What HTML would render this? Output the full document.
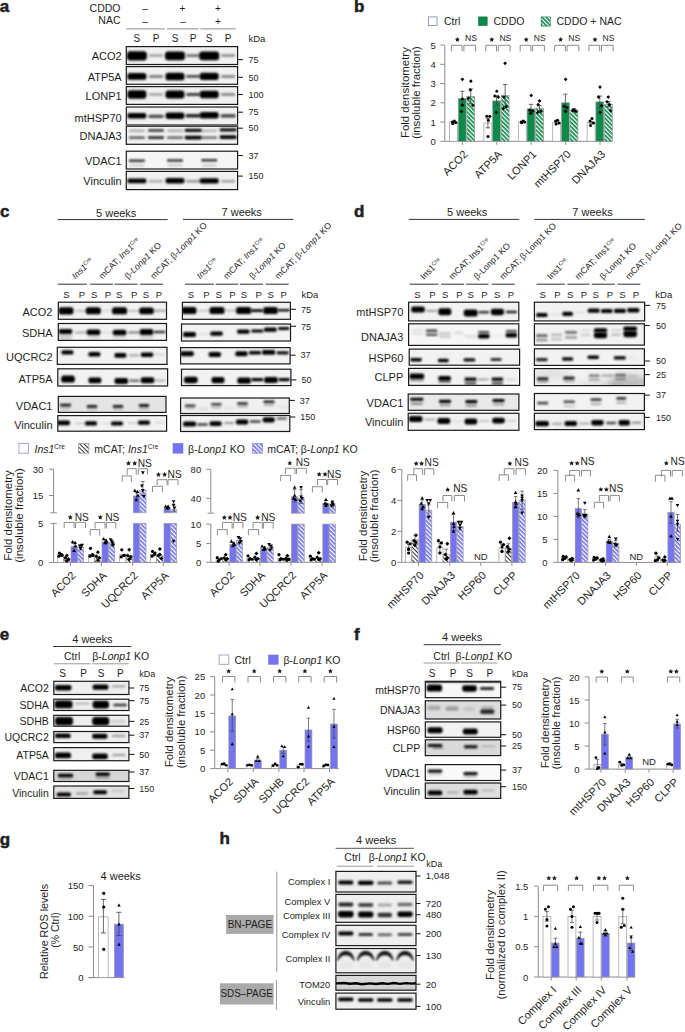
<!DOCTYPE html><html><head><meta charset="utf-8"><style>html,body{margin:0;padding:0;background:#fff;}svg{display:block;}</style></head><body><svg width="685" height="1032" viewBox="0 0 685 1032" font-family='"Liberation Sans", sans-serif' fill="#1e1e1e">
<defs><filter id="b1" x="-50%" y="-200%" width="200%" height="500%"><feGaussianBlur stdDeviation="0.1"/></filter><filter id="b2" x="-50%" y="-200%" width="200%" height="500%"><feGaussianBlur stdDeviation="0.2"/></filter><filter id="b3" x="-50%" y="-200%" width="200%" height="500%"><feGaussianBlur stdDeviation="0.3"/></filter><filter id="b4" x="-50%" y="-200%" width="200%" height="500%"><feGaussianBlur stdDeviation="0.4"/></filter><filter id="b5" x="-50%" y="-200%" width="200%" height="500%"><feGaussianBlur stdDeviation="0.5"/></filter><filter id="b6" x="-50%" y="-200%" width="200%" height="500%"><feGaussianBlur stdDeviation="0.6"/></filter><filter id="b7" x="-50%" y="-200%" width="200%" height="500%"><feGaussianBlur stdDeviation="0.7"/></filter><filter id="b8" x="-50%" y="-200%" width="200%" height="500%"><feGaussianBlur stdDeviation="0.8"/></filter><filter id="b9" x="-50%" y="-200%" width="200%" height="500%"><feGaussianBlur stdDeviation="0.9"/></filter><filter id="b10" x="-50%" y="-200%" width="200%" height="500%"><feGaussianBlur stdDeviation="1.0"/></filter><filter id="b11" x="-50%" y="-200%" width="200%" height="500%"><feGaussianBlur stdDeviation="1.1"/></filter><filter id="b12" x="-50%" y="-200%" width="200%" height="500%"><feGaussianBlur stdDeviation="1.2"/></filter><filter id="b13" x="-50%" y="-200%" width="200%" height="500%"><feGaussianBlur stdDeviation="1.3"/></filter><filter id="b14" x="-50%" y="-200%" width="200%" height="500%"><feGaussianBlur stdDeviation="1.4"/></filter><filter id="b15" x="-50%" y="-200%" width="200%" height="500%"><feGaussianBlur stdDeviation="1.5"/></filter><filter id="b16" x="-50%" y="-200%" width="200%" height="500%"><feGaussianBlur stdDeviation="1.6"/></filter><filter id="b17" x="-50%" y="-200%" width="200%" height="500%"><feGaussianBlur stdDeviation="1.7"/></filter><filter id="b18" x="-50%" y="-200%" width="200%" height="500%"><feGaussianBlur stdDeviation="1.8"/></filter><filter id="b19" x="-50%" y="-200%" width="200%" height="500%"><feGaussianBlur stdDeviation="1.9"/></filter><filter id="b20" x="-50%" y="-200%" width="200%" height="500%"><feGaussianBlur stdDeviation="2.0"/></filter><filter id="b21" x="-50%" y="-200%" width="200%" height="500%"><feGaussianBlur stdDeviation="2.1"/></filter><filter id="b22" x="-50%" y="-200%" width="200%" height="500%"><feGaussianBlur stdDeviation="2.2"/></filter><filter id="b23" x="-50%" y="-200%" width="200%" height="500%"><feGaussianBlur stdDeviation="2.3"/></filter><filter id="b24" x="-50%" y="-200%" width="200%" height="500%"><feGaussianBlur stdDeviation="2.4"/></filter><filter id="b25" x="-50%" y="-200%" width="200%" height="500%"><feGaussianBlur stdDeviation="2.5"/></filter><filter id="b26" x="-50%" y="-200%" width="200%" height="500%"><feGaussianBlur stdDeviation="2.6"/></filter><filter id="b27" x="-50%" y="-200%" width="200%" height="500%"><feGaussianBlur stdDeviation="2.7"/></filter><filter id="b28" x="-50%" y="-200%" width="200%" height="500%"><feGaussianBlur stdDeviation="2.8"/></filter><filter id="b29" x="-50%" y="-200%" width="200%" height="500%"><feGaussianBlur stdDeviation="2.9"/></filter><filter id="b30" x="-50%" y="-200%" width="200%" height="500%"><feGaussianBlur stdDeviation="3.0"/></filter><filter id="b31" x="-50%" y="-200%" width="200%" height="500%"><feGaussianBlur stdDeviation="3.1"/></filter><filter id="b32" x="-50%" y="-200%" width="200%" height="500%"><feGaussianBlur stdDeviation="3.2"/></filter><filter id="b33" x="-50%" y="-200%" width="200%" height="500%"><feGaussianBlur stdDeviation="3.3"/></filter><filter id="b34" x="-50%" y="-200%" width="200%" height="500%"><feGaussianBlur stdDeviation="3.4"/></filter><filter id="b35" x="-50%" y="-200%" width="200%" height="500%"><feGaussianBlur stdDeviation="3.5"/></filter><filter id="b36" x="-50%" y="-200%" width="200%" height="500%"><feGaussianBlur stdDeviation="3.6"/></filter><filter id="b37" x="-50%" y="-200%" width="200%" height="500%"><feGaussianBlur stdDeviation="3.7"/></filter><filter id="b38" x="-50%" y="-200%" width="200%" height="500%"><feGaussianBlur stdDeviation="3.8"/></filter><filter id="b39" x="-50%" y="-200%" width="200%" height="500%"><feGaussianBlur stdDeviation="3.9"/></filter><pattern id="hg" patternUnits="userSpaceOnUse" width="3" height="3" patternTransform="rotate(-45)"><rect width="3" height="3" fill="#0b8a4a"/><rect width="1.3" height="3" fill="#fff"/></pattern><pattern id="hb" patternUnits="userSpaceOnUse" width="3" height="3" patternTransform="rotate(-45)"><rect width="3" height="3" fill="#7474f2"/><rect width="1.3" height="3" fill="#fff"/></pattern><pattern id="hw" patternUnits="userSpaceOnUse" width="3" height="3" patternTransform="rotate(-45)"><rect width="3" height="3" fill="#fff"/><rect width="1.0" height="3" fill="#333"/></pattern></defs>
<rect width="685" height="1032" fill="#fff"/>
<text x="-0.30" y="12.20" font-size="17" font-weight="bold" stroke="#1e1e1e" stroke-width="0.5">a</text>
<text x="120.50" y="11.80" font-size="10.5" text-anchor="end">CDDO</text>
<text x="120.50" y="24.30" font-size="10.5" text-anchor="end">NAC</text>
<text x="145.00" y="11.50" font-size="10" text-anchor="middle">–</text>
<text x="182.50" y="11.50" font-size="10" text-anchor="middle">+</text>
<text x="218.00" y="11.50" font-size="10" text-anchor="middle">+</text>
<text x="145.00" y="24.50" font-size="10" text-anchor="middle">–</text>
<text x="183.00" y="24.50" font-size="10" text-anchor="middle">–</text>
<text x="218.00" y="24.50" font-size="10" text-anchor="middle">+</text>
<line x1="126.40" y1="28.90" x2="164.70" y2="28.90" stroke="#8c8c8c" stroke-width="1"/>
<line x1="166.90" y1="28.90" x2="198.70" y2="28.90" stroke="#8c8c8c" stroke-width="1"/>
<line x1="200.40" y1="28.90" x2="235.50" y2="28.90" stroke="#8c8c8c" stroke-width="1"/>
<text x="136.90" y="42.00" font-size="10" text-anchor="middle">S</text>
<text x="156.00" y="42.00" font-size="10" text-anchor="middle">P</text>
<text x="175.00" y="42.00" font-size="10" text-anchor="middle">S</text>
<text x="193.20" y="42.00" font-size="10" text-anchor="middle">P</text>
<text x="209.20" y="42.00" font-size="10" text-anchor="middle">S</text>
<text x="228.20" y="42.00" font-size="10" text-anchor="middle">P</text>
<text x="248.40" y="42.00" font-size="9.5">kDa</text>
<clipPath id="c1"><rect x="126.30" y="46.60" width="111.30" height="17.90"/></clipPath>
<g clip-path="url(#c1)">
<rect x="126.30" y="46.60" width="111.30" height="17.90" fill="#f1f1f1" stroke="none" stroke-width="1" />
<rect x="126.90" y="51.35" width="20.00" height="9.20" rx="3.45" ry="3.45" fill="#000" fill-opacity="1" filter="url(#b12)"/>
<rect x="149.00" y="54.25" width="14.00" height="2.60" rx="0.98" ry="0.98" fill="#000" fill-opacity="0.35" filter="url(#b10)"/>
<rect x="165.00" y="51.55" width="20.00" height="8.80" rx="3.30" ry="3.30" fill="#000" fill-opacity="1" filter="url(#b12)"/>
<rect x="186.20" y="54.15" width="14.00" height="2.80" rx="1.05" ry="1.05" fill="#000" fill-opacity="0.55" filter="url(#b10)"/>
<rect x="199.20" y="51.55" width="20.00" height="8.80" rx="3.30" ry="3.30" fill="#000" fill-opacity="1" filter="url(#b12)"/>
<rect x="221.20" y="54.25" width="14.00" height="2.60" rx="0.98" ry="0.98" fill="#000" fill-opacity="0.45" filter="url(#b10)"/>
</g>
<rect x="126.30" y="46.60" width="111.30" height="17.90" fill="none" stroke="#1a1a1a" stroke-width="1.2" />
<text x="121.70" y="60.15" font-size="11" text-anchor="end">ACO2</text>
<line x1="237.60" y1="59.60" x2="242.90" y2="59.60" stroke="#222" stroke-width="1.1"/>
<text x="248.60" y="62.80" font-size="9">75</text>
<clipPath id="c2"><rect x="126.30" y="66.60" width="111.30" height="17.70"/></clipPath>
<g clip-path="url(#c2)">
<rect x="126.30" y="66.60" width="111.30" height="17.70" fill="#f1f1f1" stroke="none" stroke-width="1" />
<rect x="127.40" y="73.05" width="19.00" height="6.80" rx="2.55" ry="2.55" fill="#000" fill-opacity="1" filter="url(#b10)"/>
<rect x="149.00" y="75.15" width="14.00" height="2.60" rx="0.98" ry="0.98" fill="#000" fill-opacity="0.55" filter="url(#b10)"/>
<rect x="165.50" y="72.65" width="19.00" height="7.60" rx="2.85" ry="2.85" fill="#000" fill-opacity="1" filter="url(#b10)"/>
<rect x="186.20" y="75.05" width="14.00" height="2.80" rx="1.05" ry="1.05" fill="#000" fill-opacity="0.7" filter="url(#b10)"/>
<rect x="199.70" y="72.85" width="19.00" height="7.20" rx="2.70" ry="2.70" fill="#000" fill-opacity="1" filter="url(#b10)"/>
<rect x="221.20" y="75.15" width="14.00" height="2.60" rx="0.98" ry="0.98" fill="#000" fill-opacity="0.5" filter="url(#b10)"/>
</g>
<rect x="126.30" y="66.60" width="111.30" height="17.70" fill="none" stroke="#1a1a1a" stroke-width="1.2" />
<text x="121.70" y="81.05" font-size="11" text-anchor="end">ATP5A</text>
<line x1="237.60" y1="77.30" x2="242.90" y2="77.30" stroke="#222" stroke-width="1.1"/>
<text x="248.60" y="80.50" font-size="9">50</text>
<clipPath id="c3"><rect x="126.30" y="86.60" width="111.30" height="17.80"/></clipPath>
<g clip-path="url(#c3)">
<rect x="126.30" y="86.60" width="111.30" height="17.80" fill="#f1f1f1" stroke="none" stroke-width="1" />
<rect x="127.40" y="90.30" width="19.00" height="8.40" rx="3.15" ry="3.15" fill="#000" fill-opacity="1" filter="url(#b10)"/>
<rect x="149.00" y="93.20" width="14.00" height="2.60" rx="0.98" ry="0.98" fill="#000" fill-opacity="0.35" filter="url(#b10)"/>
<rect x="165.50" y="90.60" width="19.00" height="7.80" rx="2.92" ry="2.92" fill="#000" fill-opacity="1" filter="url(#b10)"/>
<rect x="186.20" y="93.10" width="14.00" height="2.80" rx="1.05" ry="1.05" fill="#000" fill-opacity="0.75" filter="url(#b10)"/>
<rect x="199.70" y="90.80" width="19.00" height="7.40" rx="2.78" ry="2.78" fill="#000" fill-opacity="1" filter="url(#b10)"/>
<rect x="221.20" y="93.20" width="14.00" height="2.60" rx="0.98" ry="0.98" fill="#000" fill-opacity="0.5" filter="url(#b10)"/>
</g>
<rect x="126.30" y="86.60" width="111.30" height="17.80" fill="none" stroke="#1a1a1a" stroke-width="1.2" />
<text x="121.70" y="100.10" font-size="11" text-anchor="end">LONP1</text>
<line x1="237.60" y1="94.50" x2="242.90" y2="94.50" stroke="#222" stroke-width="1.1"/>
<text x="248.60" y="97.70" font-size="9">100</text>
<clipPath id="c4"><rect x="126.30" y="107.00" width="111.30" height="17.60"/></clipPath>
<g clip-path="url(#c4)">
<rect x="126.30" y="107.00" width="111.30" height="17.60" fill="#f1f1f1" stroke="none" stroke-width="1" />
<rect x="127.40" y="113.00" width="19.00" height="5.60" rx="2.10" ry="2.10" fill="#000" fill-opacity="1" filter="url(#b10)"/>
<rect x="148.50" y="114.70" width="15.00" height="3.20" rx="1.20" ry="1.20" fill="#000" fill-opacity="0.7" filter="url(#b10)"/>
<rect x="165.50" y="112.60" width="19.00" height="6.40" rx="2.40" ry="2.40" fill="#000" fill-opacity="1" filter="url(#b10)"/>
<rect x="185.70" y="114.10" width="15.00" height="3.40" rx="1.27" ry="1.27" fill="#000" fill-opacity="0.85" filter="url(#b10)"/>
<rect x="199.70" y="112.00" width="19.00" height="6.60" rx="2.47" ry="2.47" fill="#000" fill-opacity="1" filter="url(#b10)"/>
<rect x="220.70" y="114.20" width="15.00" height="3.20" rx="1.20" ry="1.20" fill="#000" fill-opacity="0.75" filter="url(#b10)"/>
</g>
<rect x="126.30" y="107.00" width="111.30" height="17.60" fill="none" stroke="#1a1a1a" stroke-width="1.2" />
<text x="121.70" y="121.90" font-size="11" text-anchor="end">mtHSP70</text>
<line x1="237.60" y1="112.20" x2="242.90" y2="112.20" stroke="#222" stroke-width="1.1"/>
<text x="248.60" y="115.40" font-size="9">75</text>
<rect x="126.30" y="124.30" width="111.30" height="2.20" fill="#9a9a9a" stroke="none" stroke-width="1" />
<clipPath id="c5"><rect x="126.30" y="126.20" width="111.30" height="18.10"/></clipPath>
<g clip-path="url(#c5)">
<rect x="126.30" y="126.20" width="111.30" height="18.10" fill="#f1f1f1" stroke="none" stroke-width="1" />
<rect x="128.90" y="129.65" width="16.00" height="2.20" rx="0.83" ry="0.83" fill="#000" fill-opacity="0.35" filter="url(#b9)"/>
<rect x="148.00" y="129.35" width="16.00" height="2.40" rx="0.90" ry="0.90" fill="#000" fill-opacity="0.8" filter="url(#b9)"/>
<rect x="167.00" y="129.65" width="16.00" height="2.20" rx="0.83" ry="0.83" fill="#000" fill-opacity="0.35" filter="url(#b9)"/>
<rect x="184.70" y="128.85" width="17.00" height="3.20" rx="1.20" ry="1.20" fill="#000" fill-opacity="0.95" filter="url(#b9)"/>
<rect x="201.20" y="129.65" width="16.00" height="2.20" rx="0.83" ry="0.83" fill="#000" fill-opacity="0.3" filter="url(#b9)"/>
<rect x="219.70" y="128.25" width="17.00" height="3.20" rx="1.20" ry="1.20" fill="#000" fill-opacity="0.95" filter="url(#b9)"/>
</g>
<rect x="126.30" y="126.20" width="111.30" height="18.10" fill="none" stroke="#1a1a1a" stroke-width="1.2" />
<text x="121.70" y="140.45" font-size="11" text-anchor="end">DNAJA3</text>
<line x1="237.60" y1="128.20" x2="242.90" y2="128.20" stroke="#222" stroke-width="1.1"/>
<text x="248.60" y="131.40" font-size="9">50</text>
<rect x="128.90" y="136.40" width="16.00" height="2.40" rx="0.90" fill="#000" fill-opacity="0.7" filter="url(#b8)"/>
<rect x="148.00" y="136.30" width="16.00" height="2.60" rx="0.98" fill="#000" fill-opacity="0.85" filter="url(#b8)"/>
<rect x="167.00" y="136.40" width="16.00" height="2.40" rx="0.90" fill="#000" fill-opacity="0.65" filter="url(#b8)"/>
<rect x="184.70" y="135.70" width="17.00" height="3.80" rx="1.42" fill="#000" fill-opacity="1" filter="url(#b8)"/>
<rect x="201.20" y="136.40" width="16.00" height="2.40" rx="0.90" fill="#000" fill-opacity="0.6" filter="url(#b8)"/>
<rect x="219.70" y="135.30" width="17.00" height="3.80" rx="1.42" fill="#000" fill-opacity="1" filter="url(#b8)"/>
<clipPath id="c6"><rect x="126.30" y="151.20" width="111.30" height="17.80"/></clipPath>
<g clip-path="url(#c6)">
<rect x="126.30" y="151.20" width="111.30" height="17.80" fill="#f5f5f5" stroke="none" stroke-width="1" />
<rect x="128.90" y="159.50" width="16.00" height="2.40" rx="0.90" ry="0.90" fill="#000" fill-opacity="0.8" filter="url(#b9)"/>
<rect x="167.00" y="159.30" width="16.00" height="2.40" rx="0.90" ry="0.90" fill="#000" fill-opacity="0.8" filter="url(#b9)"/>
<rect x="201.20" y="159.00" width="16.00" height="2.40" rx="0.90" ry="0.90" fill="#000" fill-opacity="0.8" filter="url(#b9)"/>
</g>
<rect x="126.30" y="151.20" width="111.30" height="17.80" fill="none" stroke="#1a1a1a" stroke-width="1.2" />
<text x="121.70" y="164.70" font-size="11" text-anchor="end">VDAC1</text>
<line x1="237.60" y1="155.50" x2="242.90" y2="155.50" stroke="#222" stroke-width="1.1"/>
<text x="248.60" y="158.70" font-size="9">37</text>
<rect x="129.40" y="164.6" width="15" height="1.8" rx="0.9" fill="#000" fill-opacity="0.2" filter="url(#b8)"/>
<rect x="167.50" y="164.6" width="15" height="1.8" rx="0.9" fill="#000" fill-opacity="0.2" filter="url(#b8)"/>
<rect x="201.70" y="164.6" width="15" height="1.8" rx="0.9" fill="#000" fill-opacity="0.2" filter="url(#b8)"/>
<clipPath id="c7"><rect x="126.30" y="171.40" width="111.30" height="18.20"/></clipPath>
<g clip-path="url(#c7)">
<rect x="126.30" y="171.40" width="111.30" height="18.20" fill="#f1f1f1" stroke="none" stroke-width="1" />
<rect x="127.40" y="178.40" width="19.00" height="4.80" rx="1.80" ry="1.80" fill="#000" fill-opacity="1" filter="url(#b10)"/>
<rect x="149.00" y="180.10" width="14.00" height="2.40" rx="0.90" ry="0.90" fill="#000" fill-opacity="0.3" filter="url(#b10)"/>
<rect x="165.50" y="178.00" width="19.00" height="5.60" rx="2.10" ry="2.10" fill="#000" fill-opacity="1" filter="url(#b10)"/>
<rect x="186.20" y="180.10" width="14.00" height="2.40" rx="0.90" ry="0.90" fill="#000" fill-opacity="0.4" filter="url(#b10)"/>
<rect x="199.70" y="178.20" width="19.00" height="5.20" rx="1.95" ry="1.95" fill="#000" fill-opacity="1" filter="url(#b10)"/>
<rect x="221.20" y="180.10" width="14.00" height="2.40" rx="0.90" ry="0.90" fill="#000" fill-opacity="0.35" filter="url(#b10)"/>
</g>
<rect x="126.30" y="171.40" width="111.30" height="18.20" fill="none" stroke="#1a1a1a" stroke-width="1.2" />
<text x="121.70" y="184.60" font-size="11" text-anchor="end">Vinculin</text>
<line x1="237.60" y1="176.10" x2="242.90" y2="176.10" stroke="#222" stroke-width="1.1"/>
<text x="248.60" y="179.30" font-size="9">150</text>
<text x="354.00" y="11.60" font-size="17" font-weight="bold" stroke="#1e1e1e" stroke-width="0.5">b</text>
<rect x="428.40" y="16.90" width="8.60" height="8.60" fill="#fff" stroke="#8796b8" stroke-width="0.9" />
<text x="444.00" y="25.20" font-size="10.5">Ctrl</text>
<rect x="478.40" y="16.90" width="8.80" height="8.80" fill="#0b8a4a" stroke="#0a6a3a" stroke-width="0.5" />
<text x="493.50" y="25.20" font-size="10.5">CDDO</text>
<rect x="541.10" y="16.90" width="9.20" height="9.20" fill="url(#hg)" stroke="#0a6a3a" stroke-width="0.5" />
<text x="556.50" y="25.20" font-size="10.5">CDDO + NAC</text>
<text x="409.00" y="92.60" font-size="10.5" text-anchor="middle" transform="rotate(-90 409.00 92.60)" textLength="91" lengthAdjust="spacingAndGlyphs">Fold densitometry</text>
<text x="420.00" y="92.60" font-size="10.5" text-anchor="middle" transform="rotate(-90 420.00 92.60)" textLength="93" lengthAdjust="spacingAndGlyphs">(insoluble fraction)</text>
<line x1="444.80" y1="45.30" x2="444.80" y2="141.30" stroke="#8c8c8c" stroke-width="1"/>
<line x1="440.30" y1="141.30" x2="444.80" y2="141.30" stroke="#8c8c8c" stroke-width="1"/>
<text x="435.80" y="144.90" font-size="9.5" text-anchor="end">0</text>
<line x1="440.30" y1="122.05" x2="444.80" y2="122.05" stroke="#8c8c8c" stroke-width="1"/>
<text x="435.80" y="125.65" font-size="9.5" text-anchor="end">1</text>
<line x1="440.30" y1="102.80" x2="444.80" y2="102.80" stroke="#8c8c8c" stroke-width="1"/>
<text x="435.80" y="106.40" font-size="9.5" text-anchor="end">2</text>
<line x1="440.30" y1="83.55" x2="444.80" y2="83.55" stroke="#8c8c8c" stroke-width="1"/>
<text x="435.80" y="87.15" font-size="9.5" text-anchor="end">3</text>
<line x1="440.30" y1="64.30" x2="444.80" y2="64.30" stroke="#8c8c8c" stroke-width="1"/>
<text x="435.80" y="67.90" font-size="9.5" text-anchor="end">4</text>
<line x1="440.30" y1="45.05" x2="444.80" y2="45.05" stroke="#8c8c8c" stroke-width="1"/>
<text x="435.80" y="48.65" font-size="9.5" text-anchor="end">5</text>
<line x1="444.80" y1="141.30" x2="612.60" y2="141.30" stroke="#8c8c8c" stroke-width="1"/>
<line x1="462.40" y1="141.30" x2="462.40" y2="144.80" stroke="#8c8c8c" stroke-width="1"/>
<line x1="496.80" y1="141.30" x2="496.80" y2="144.80" stroke="#8c8c8c" stroke-width="1"/>
<line x1="531.20" y1="141.30" x2="531.20" y2="144.80" stroke="#8c8c8c" stroke-width="1"/>
<line x1="565.60" y1="141.30" x2="565.60" y2="144.80" stroke="#8c8c8c" stroke-width="1"/>
<line x1="600.00" y1="141.30" x2="600.00" y2="144.80" stroke="#8c8c8c" stroke-width="1"/>
<rect x="449.50" y="122.05" width="8.00" height="19.25" fill="#fff" stroke="#9a9a9a" stroke-width="0.7"/>
<rect x="458.30" y="98.56" width="7.80" height="42.74" fill="#0b8a4a" stroke="#9a9a9a" stroke-width="0.7"/>
<rect x="466.80" y="96.45" width="7.90" height="44.85" fill="url(#hg)" stroke="#9a9a9a" stroke-width="0.7"/>
<line x1="453.50" y1="122.82" x2="453.50" y2="121.47" stroke="#444" stroke-width="0.8"/>
<line x1="451.30" y1="121.47" x2="455.70" y2="121.47" stroke="#444" stroke-width="0.8"/>
<line x1="451.30" y1="122.82" x2="455.70" y2="122.82" stroke="#444" stroke-width="0.8"/>
<line x1="462.20" y1="105.69" x2="462.20" y2="91.25" stroke="#444" stroke-width="0.8"/>
<line x1="460.00" y1="91.25" x2="464.40" y2="91.25" stroke="#444" stroke-width="0.8"/>
<line x1="460.00" y1="105.69" x2="464.40" y2="105.69" stroke="#444" stroke-width="0.8"/>
<line x1="470.75" y1="103.76" x2="470.75" y2="88.94" stroke="#444" stroke-width="0.8"/>
<line x1="468.55" y1="88.94" x2="472.95" y2="88.94" stroke="#444" stroke-width="0.8"/>
<line x1="468.55" y1="103.76" x2="472.95" y2="103.76" stroke="#444" stroke-width="0.8"/>
<circle cx="452.40" cy="122.05" r="1.5" fill="#000"/>
<circle cx="454.40" cy="121.09" r="1.5" fill="#000"/>
<circle cx="455.90" cy="122.44" r="1.5" fill="#000"/>
<circle cx="452.90" cy="123.40" r="1.5" fill="#000"/>
<polygon points="462.40,77.44 464.27,79.31 462.40,81.19 460.52,79.31" fill="#000"/>
<polygon points="462.40,97.08 464.27,98.95 462.40,100.83 460.52,98.95" fill="#000"/>
<polygon points="462.40,103.24 464.27,105.11 462.40,106.99 460.52,105.11" fill="#000"/>
<polygon points="461.40,109.59 463.27,111.46 461.40,113.34 459.52,111.46" fill="#000"/>
<polygon points="470.90,79.37 472.77,81.24 470.90,83.12 469.02,81.24" fill="#000"/>
<polygon points="470.40,88.03 472.27,89.90 470.40,91.78 468.52,89.90" fill="#000"/>
<polygon points="468.40,96.50 470.27,98.37 468.40,100.25 466.52,98.37" fill="#000"/>
<polygon points="472.90,103.43 474.77,105.30 472.90,107.18 471.02,105.30" fill="#000"/>
<polyline points="451.40,51.40 451.40,45.30 462.10,45.30 462.10,51.40" fill="none" stroke="#8c8c8c" stroke-width="1"/>
<polyline points="463.90,51.40 463.90,45.30 475.60,45.30 475.60,51.40" fill="none" stroke="#8c8c8c" stroke-width="1"/>
<polygon points="457.40,37.00 458.16,38.55 459.87,38.80 458.64,40.00 458.93,41.70 457.40,40.90 455.87,41.70 456.16,40.00 454.93,38.80 456.64,38.55" fill="#1e1e1e"/>
<text x="465.00" y="41.30" font-size="8.6">NS</text>
<rect x="483.90" y="123.01" width="8.00" height="18.29" fill="#fff" stroke="#9a9a9a" stroke-width="0.7"/>
<rect x="492.70" y="100.88" width="7.80" height="40.43" fill="#0b8a4a" stroke="#9a9a9a" stroke-width="0.7"/>
<rect x="501.20" y="95.49" width="7.90" height="45.81" fill="url(#hg)" stroke="#9a9a9a" stroke-width="0.7"/>
<line x1="487.90" y1="127.83" x2="487.90" y2="118.20" stroke="#444" stroke-width="0.8"/>
<line x1="485.70" y1="118.20" x2="490.10" y2="118.20" stroke="#444" stroke-width="0.8"/>
<line x1="485.70" y1="127.83" x2="490.10" y2="127.83" stroke="#444" stroke-width="0.8"/>
<line x1="496.60" y1="105.69" x2="496.60" y2="95.68" stroke="#444" stroke-width="0.8"/>
<line x1="494.40" y1="95.68" x2="498.80" y2="95.68" stroke="#444" stroke-width="0.8"/>
<line x1="494.40" y1="105.69" x2="498.80" y2="105.69" stroke="#444" stroke-width="0.8"/>
<line x1="505.15" y1="106.65" x2="505.15" y2="84.51" stroke="#444" stroke-width="0.8"/>
<line x1="502.95" y1="84.51" x2="507.35" y2="84.51" stroke="#444" stroke-width="0.8"/>
<line x1="502.95" y1="106.65" x2="507.35" y2="106.65" stroke="#444" stroke-width="0.8"/>
<circle cx="486.80" cy="116.28" r="1.5" fill="#000"/>
<circle cx="489.80" cy="116.28" r="1.5" fill="#000"/>
<circle cx="488.30" cy="120.13" r="1.5" fill="#000"/>
<circle cx="488.00" cy="136.49" r="1.5" fill="#000"/>
<polygon points="496.80,89.38 498.67,91.25 496.80,93.12 494.92,91.25" fill="#000"/>
<polygon points="494.80,94.19 496.67,96.06 494.80,97.94 492.92,96.06" fill="#000"/>
<polygon points="498.30,95.15 500.17,97.03 498.30,98.90 496.42,97.03" fill="#000"/>
<polygon points="496.30,110.55 498.17,112.43 496.30,114.30 494.42,112.43" fill="#000"/>
<polygon points="505.10,61.46 506.97,63.34 505.10,65.21 503.22,63.34" fill="#000"/>
<polygon points="503.80,95.15 505.67,97.03 503.80,98.90 501.92,97.03" fill="#000"/>
<polygon points="506.30,104.78 508.17,106.65 506.30,108.53 504.42,106.65" fill="#000"/>
<polygon points="503.30,106.70 505.17,108.58 503.30,110.45 501.42,108.58" fill="#000"/>
<polyline points="485.80,51.40 485.80,45.30 496.50,45.30 496.50,51.40" fill="none" stroke="#8c8c8c" stroke-width="1"/>
<polyline points="498.30,51.40 498.30,45.30 510.00,45.30 510.00,51.40" fill="none" stroke="#8c8c8c" stroke-width="1"/>
<polygon points="491.80,37.00 492.56,38.55 494.27,38.80 493.04,40.00 493.33,41.70 491.80,40.90 490.27,41.70 490.56,40.00 489.33,38.80 491.04,38.55" fill="#1e1e1e"/>
<text x="499.40" y="41.30" font-size="8.6">NS</text>
<rect x="518.30" y="122.05" width="8.00" height="19.25" fill="#fff" stroke="#9a9a9a" stroke-width="0.7"/>
<rect x="527.10" y="108.96" width="7.80" height="32.34" fill="#0b8a4a" stroke="#9a9a9a" stroke-width="0.7"/>
<rect x="535.60" y="108.19" width="7.90" height="33.11" fill="url(#hg)" stroke="#9a9a9a" stroke-width="0.7"/>
<line x1="522.30" y1="122.63" x2="522.30" y2="121.47" stroke="#444" stroke-width="0.8"/>
<line x1="520.10" y1="121.47" x2="524.50" y2="121.47" stroke="#444" stroke-width="0.8"/>
<line x1="520.10" y1="122.63" x2="524.50" y2="122.63" stroke="#444" stroke-width="0.8"/>
<line x1="531.00" y1="113.39" x2="531.00" y2="104.34" stroke="#444" stroke-width="0.8"/>
<line x1="528.80" y1="104.34" x2="533.20" y2="104.34" stroke="#444" stroke-width="0.8"/>
<line x1="528.80" y1="113.39" x2="533.20" y2="113.39" stroke="#444" stroke-width="0.8"/>
<line x1="539.55" y1="110.50" x2="539.55" y2="105.69" stroke="#444" stroke-width="0.8"/>
<line x1="537.35" y1="105.69" x2="541.75" y2="105.69" stroke="#444" stroke-width="0.8"/>
<line x1="537.35" y1="110.50" x2="541.75" y2="110.50" stroke="#444" stroke-width="0.8"/>
<circle cx="521.20" cy="122.05" r="1.5" fill="#000"/>
<circle cx="523.20" cy="121.09" r="1.5" fill="#000"/>
<circle cx="524.70" cy="122.05" r="1.5" fill="#000"/>
<circle cx="521.70" cy="122.63" r="1.5" fill="#000"/>
<polygon points="531.20,93.61 533.07,95.49 531.20,97.36 529.32,95.49" fill="#000"/>
<polygon points="529.70,108.24 531.57,110.12 529.70,111.99 527.82,110.12" fill="#000"/>
<polygon points="532.70,109.01 534.57,110.89 532.70,112.76 530.82,110.89" fill="#000"/>
<polygon points="530.70,111.51 532.57,113.39 530.70,115.26 528.82,113.39" fill="#000"/>
<polygon points="539.50,99.00 541.37,100.88 539.50,102.75 537.62,100.88" fill="#000"/>
<polygon points="538.20,102.85 540.07,104.73 538.20,106.60 536.32,104.73" fill="#000"/>
<polygon points="541.00,109.59 542.87,111.46 541.00,113.34 539.12,111.46" fill="#000"/>
<polygon points="537.70,110.55 539.57,112.43 537.70,114.30 535.82,112.43" fill="#000"/>
<polyline points="520.20,51.40 520.20,45.30 530.90,45.30 530.90,51.40" fill="none" stroke="#8c8c8c" stroke-width="1"/>
<polyline points="532.70,51.40 532.70,45.30 544.40,45.30 544.40,51.40" fill="none" stroke="#8c8c8c" stroke-width="1"/>
<polygon points="526.20,37.00 526.96,38.55 528.67,38.80 527.44,40.00 527.73,41.70 526.20,40.90 524.67,41.70 524.96,40.00 523.73,38.80 525.44,38.55" fill="#1e1e1e"/>
<text x="533.80" y="41.30" font-size="8.6">NS</text>
<rect x="552.70" y="122.44" width="8.00" height="18.86" fill="#fff" stroke="#9a9a9a" stroke-width="0.7"/>
<rect x="561.50" y="102.80" width="7.80" height="38.50" fill="#0b8a4a" stroke="#9a9a9a" stroke-width="0.7"/>
<rect x="570.00" y="110.12" width="7.90" height="31.19" fill="url(#hg)" stroke="#9a9a9a" stroke-width="0.7"/>
<line x1="556.70" y1="123.98" x2="556.70" y2="120.51" stroke="#444" stroke-width="0.8"/>
<line x1="554.50" y1="120.51" x2="558.90" y2="120.51" stroke="#444" stroke-width="0.8"/>
<line x1="554.50" y1="123.98" x2="558.90" y2="123.98" stroke="#444" stroke-width="0.8"/>
<line x1="565.40" y1="110.50" x2="565.40" y2="94.14" stroke="#444" stroke-width="0.8"/>
<line x1="563.20" y1="94.14" x2="567.60" y2="94.14" stroke="#444" stroke-width="0.8"/>
<line x1="563.20" y1="110.50" x2="567.60" y2="110.50" stroke="#444" stroke-width="0.8"/>
<line x1="573.95" y1="111.46" x2="573.95" y2="108.58" stroke="#444" stroke-width="0.8"/>
<line x1="571.75" y1="108.58" x2="576.15" y2="108.58" stroke="#444" stroke-width="0.8"/>
<line x1="571.75" y1="111.46" x2="576.15" y2="111.46" stroke="#444" stroke-width="0.8"/>
<circle cx="555.60" cy="121.09" r="1.5" fill="#000"/>
<circle cx="557.60" cy="120.13" r="1.5" fill="#000"/>
<circle cx="559.10" cy="123.01" r="1.5" fill="#000"/>
<circle cx="556.10" cy="123.98" r="1.5" fill="#000"/>
<polygon points="565.60,77.44 567.47,79.31 565.60,81.19 563.72,79.31" fill="#000"/>
<polygon points="564.10,104.39 565.97,106.27 564.10,108.14 562.22,106.27" fill="#000"/>
<polygon points="567.10,105.74 568.97,107.61 567.10,109.49 565.22,107.61" fill="#000"/>
<polygon points="565.60,109.59 567.47,111.46 565.60,113.34 563.72,111.46" fill="#000"/>
<polygon points="573.90,108.24 575.77,110.12 573.90,111.99 572.02,110.12" fill="#000"/>
<polygon points="572.60,108.63 574.47,110.50 572.60,112.38 570.72,110.50" fill="#000"/>
<polygon points="575.10,109.01 576.97,110.89 575.10,112.76 573.22,110.89" fill="#000"/>
<polygon points="576.10,109.59 577.97,111.46 576.10,113.34 574.22,111.46" fill="#000"/>
<polyline points="554.60,51.40 554.60,45.30 565.30,45.30 565.30,51.40" fill="none" stroke="#8c8c8c" stroke-width="1"/>
<polyline points="567.10,51.40 567.10,45.30 578.80,45.30 578.80,51.40" fill="none" stroke="#8c8c8c" stroke-width="1"/>
<polygon points="560.60,37.00 561.36,38.55 563.07,38.80 561.84,40.00 562.13,41.70 560.60,40.90 559.07,41.70 559.36,40.00 558.13,38.80 559.84,38.55" fill="#1e1e1e"/>
<text x="568.20" y="41.30" font-size="8.6">NS</text>
<rect x="587.10" y="122.63" width="8.00" height="18.67" fill="#fff" stroke="#9a9a9a" stroke-width="0.7"/>
<rect x="595.90" y="101.84" width="7.80" height="39.46" fill="#0b8a4a" stroke="#9a9a9a" stroke-width="0.7"/>
<rect x="604.40" y="104.34" width="7.90" height="36.96" fill="url(#hg)" stroke="#9a9a9a" stroke-width="0.7"/>
<line x1="591.10" y1="123.98" x2="591.10" y2="121.47" stroke="#444" stroke-width="0.8"/>
<line x1="588.90" y1="121.47" x2="593.30" y2="121.47" stroke="#444" stroke-width="0.8"/>
<line x1="588.90" y1="123.98" x2="593.30" y2="123.98" stroke="#444" stroke-width="0.8"/>
<line x1="599.80" y1="107.61" x2="599.80" y2="96.06" stroke="#444" stroke-width="0.8"/>
<line x1="597.60" y1="96.06" x2="602.00" y2="96.06" stroke="#444" stroke-width="0.8"/>
<line x1="597.60" y1="107.61" x2="602.00" y2="107.61" stroke="#444" stroke-width="0.8"/>
<line x1="608.35" y1="106.65" x2="608.35" y2="101.84" stroke="#444" stroke-width="0.8"/>
<line x1="606.15" y1="101.84" x2="610.55" y2="101.84" stroke="#444" stroke-width="0.8"/>
<line x1="606.15" y1="106.65" x2="610.55" y2="106.65" stroke="#444" stroke-width="0.8"/>
<circle cx="590.00" cy="121.09" r="1.5" fill="#000"/>
<circle cx="592.00" cy="118.59" r="1.5" fill="#000"/>
<circle cx="593.50" cy="123.01" r="1.5" fill="#000"/>
<circle cx="590.50" cy="125.52" r="1.5" fill="#000"/>
<polygon points="600.00,85.14 601.88,87.02 600.00,88.89 598.12,87.02" fill="#000"/>
<polygon points="598.50,95.15 600.38,97.03 598.50,98.90 596.62,97.03" fill="#000"/>
<polygon points="601.50,103.81 603.38,105.69 601.50,107.56 599.62,105.69" fill="#000"/>
<polygon points="600.00,110.55 601.88,112.43 600.00,114.30 598.12,112.43" fill="#000"/>
<polygon points="608.30,95.15 610.17,97.03 608.30,98.90 606.42,97.03" fill="#000"/>
<polygon points="607.00,99.96 608.88,101.84 607.00,103.71 605.12,101.84" fill="#000"/>
<polygon points="609.50,102.85 611.38,104.73 609.50,106.60 607.62,104.73" fill="#000"/>
<polygon points="610.50,108.63 612.38,110.50 610.50,112.38 608.62,110.50" fill="#000"/>
<polyline points="589.00,51.40 589.00,45.30 599.70,45.30 599.70,51.40" fill="none" stroke="#8c8c8c" stroke-width="1"/>
<polyline points="601.50,51.40 601.50,45.30 613.20,45.30 613.20,51.40" fill="none" stroke="#8c8c8c" stroke-width="1"/>
<polygon points="595.00,37.00 595.76,38.55 597.47,38.80 596.24,40.00 596.53,41.70 595.00,40.90 593.47,41.70 593.76,40.00 592.53,38.80 594.24,38.55" fill="#1e1e1e"/>
<text x="602.60" y="41.30" font-size="8.6">NS</text>
<text x="468.40" y="155.00" font-size="11" text-anchor="end" transform="rotate(-45 468.40 155.00)">ACO2</text>
<text x="502.80" y="155.00" font-size="11" text-anchor="end" transform="rotate(-45 502.80 155.00)">ATP5A</text>
<text x="537.20" y="155.00" font-size="11" text-anchor="end" transform="rotate(-45 537.20 155.00)">LONP1</text>
<text x="571.60" y="155.00" font-size="11" text-anchor="end" transform="rotate(-45 571.60 155.00)">mtHSP70</text>
<text x="606.00" y="155.00" font-size="11" text-anchor="end" transform="rotate(-45 606.00 155.00)">DNAJA3</text>
<text x="0.00" y="216.80" font-size="17" font-weight="bold" stroke="#1e1e1e" stroke-width="0.5">c</text>
<line x1="57.60" y1="219.60" x2="167.70" y2="219.60" stroke="#333" stroke-width="1"/>
<text x="116.20" y="216.60" font-size="11" text-anchor="middle">5 weeks</text>
<line x1="183.00" y1="219.40" x2="293.50" y2="219.40" stroke="#333" stroke-width="1"/>
<text x="241.70" y="216.40" font-size="11" text-anchor="middle">7 weeks</text>
<line x1="57.90" y1="284.20" x2="86.80" y2="284.20" stroke="#333" stroke-width="1"/>
<line x1="90.00" y1="284.20" x2="113.00" y2="284.20" stroke="#333" stroke-width="1"/>
<line x1="114.50" y1="284.20" x2="137.60" y2="284.20" stroke="#333" stroke-width="1"/>
<line x1="140.20" y1="284.20" x2="163.00" y2="284.20" stroke="#333" stroke-width="1"/>
<line x1="185.00" y1="284.20" x2="213.90" y2="284.20" stroke="#333" stroke-width="1"/>
<line x1="215.70" y1="284.20" x2="238.30" y2="284.20" stroke="#333" stroke-width="1"/>
<line x1="240.00" y1="284.20" x2="263.00" y2="284.20" stroke="#333" stroke-width="1"/>
<line x1="265.60" y1="284.20" x2="288.70" y2="284.20" stroke="#333" stroke-width="1"/>
<text x="75.60" y="279.50" font-size="8.8" transform="rotate(-45 75.60 279.50)"><tspan font-style="italic">Ins1</tspan><tspan font-size="5.6" dy="-2.9">Cre</tspan></text>
<text x="102.45" y="279.50" font-size="8.8" transform="rotate(-45 102.45 279.50)">mCAT; <tspan font-style="italic">Ins1</tspan><tspan font-size="5.6" dy="-2.9">Cre</tspan></text>
<text x="128.15" y="279.50" font-size="8.8" transform="rotate(-45 128.15 279.50)">β-<tspan font-style="italic">Lonp1</tspan> KO</text>
<text x="154.00" y="279.50" font-size="8.8" transform="rotate(-45 154.00 279.50)">mCAT; β-<tspan font-style="italic">Lonp1</tspan> KO</text>
<text x="200.20" y="279.50" font-size="8.8" transform="rotate(-45 200.20 279.50)"><tspan font-style="italic">Ins1</tspan><tspan font-size="5.6" dy="-2.9">Cre</tspan></text>
<text x="227.05" y="279.50" font-size="8.8" transform="rotate(-45 227.05 279.50)">mCAT; <tspan font-style="italic">Ins1</tspan><tspan font-size="5.6" dy="-2.9">Cre</tspan></text>
<text x="252.75" y="279.50" font-size="8.8" transform="rotate(-45 252.75 279.50)">β-<tspan font-style="italic">Lonp1</tspan> KO</text>
<text x="278.60" y="279.50" font-size="8.8" transform="rotate(-45 278.60 279.50)">mCAT; β-<tspan font-style="italic">Lonp1</tspan> KO</text>
<text x="66.30" y="298.00" font-size="9.5" text-anchor="middle">S</text>
<text x="81.90" y="298.00" font-size="9.5" text-anchor="middle">P</text>
<text x="94.10" y="298.00" font-size="9.5" text-anchor="middle">S</text>
<text x="107.80" y="298.00" font-size="9.5" text-anchor="middle">P</text>
<text x="119.20" y="298.00" font-size="9.5" text-anchor="middle">S</text>
<text x="134.10" y="298.00" font-size="9.5" text-anchor="middle">P</text>
<text x="146.00" y="298.00" font-size="9.5" text-anchor="middle">S</text>
<text x="159.00" y="298.00" font-size="9.5" text-anchor="middle">P</text>
<text x="190.90" y="298.00" font-size="9.5" text-anchor="middle">S</text>
<text x="206.50" y="298.00" font-size="9.5" text-anchor="middle">P</text>
<text x="218.70" y="298.00" font-size="9.5" text-anchor="middle">S</text>
<text x="232.40" y="298.00" font-size="9.5" text-anchor="middle">P</text>
<text x="243.80" y="298.00" font-size="9.5" text-anchor="middle">S</text>
<text x="258.70" y="298.00" font-size="9.5" text-anchor="middle">P</text>
<text x="270.60" y="298.00" font-size="9.5" text-anchor="middle">S</text>
<text x="283.60" y="298.00" font-size="9.5" text-anchor="middle">P</text>
<text x="301.40" y="298.00" font-size="9.5">kDa</text>
<clipPath id="c8"><rect x="58.30" y="302.20" width="108.20" height="17.10"/></clipPath>
<g clip-path="url(#c8)">
<rect x="58.30" y="302.20" width="108.20" height="17.10" fill="#f2f2f2" stroke="none" stroke-width="1" />
<rect x="58.50" y="307.20" width="15.00" height="7.20" rx="2.70" ry="2.70" fill="#000" fill-opacity="1" filter="url(#b8)"/>
<rect x="76.00" y="309.90" width="12.00" height="1.80" rx="0.68" ry="0.68" fill="#000" fill-opacity="0.25" filter="url(#b8)"/>
<rect x="85.80" y="307.30" width="15.00" height="7.00" rx="2.62" ry="2.62" fill="#000" fill-opacity="1" filter="url(#b8)"/>
<rect x="101.80" y="310.00" width="12.00" height="1.60" rx="0.60" ry="0.60" fill="#000" fill-opacity="0.15" filter="url(#b8)"/>
<rect x="112.10" y="307.30" width="15.00" height="7.00" rx="2.62" ry="2.62" fill="#000" fill-opacity="1" filter="url(#b8)"/>
<rect x="128.00" y="309.90" width="12.00" height="1.80" rx="0.68" ry="0.68" fill="#000" fill-opacity="0.25" filter="url(#b8)"/>
<rect x="139.20" y="307.40" width="14.60" height="6.80" rx="2.55" ry="2.55" fill="#000" fill-opacity="1" filter="url(#b8)"/>
<rect x="154.00" y="309.80" width="12.00" height="2.00" rx="0.75" ry="0.75" fill="#000" fill-opacity="0.35" filter="url(#b8)"/>
</g>
<rect x="58.30" y="302.20" width="108.20" height="17.10" fill="none" stroke="#1a1a1a" stroke-width="1.2" />
<text x="52.50" y="316.05" font-size="11" text-anchor="end">ACO2</text>
<clipPath id="c9"><rect x="58.30" y="323.50" width="108.20" height="16.90"/></clipPath>
<g clip-path="url(#c9)">
<rect x="58.30" y="323.50" width="108.20" height="16.90" fill="#f2f2f2" stroke="none" stroke-width="1" />
<rect x="59" y="334" width="13" height="6" fill="#000" fill-opacity="0.15" filter="url(#b10)"/>
<rect x="88" y="334.5" width="12" height="5" fill="#000" fill-opacity="0.1" filter="url(#b10)"/>
<rect x="113" y="334.5" width="13" height="5" fill="#000" fill-opacity="0.1" filter="url(#b10)"/>
<rect x="140" y="334.5" width="13" height="5" fill="#000" fill-opacity="0.12" filter="url(#b10)"/>
<rect x="58.70" y="329.00" width="13.60" height="5.00" rx="1.88" ry="1.88" fill="#000" fill-opacity="1" filter="url(#b8)"/>
<rect x="75.00" y="331.60" width="12.00" height="1.80" rx="0.68" ry="0.68" fill="#000" fill-opacity="0.3" filter="url(#b8)"/>
<rect x="86.70" y="329.50" width="13.60" height="5.60" rx="2.10" ry="2.10" fill="#000" fill-opacity="1" filter="url(#b8)"/>
<rect x="101.80" y="331.70" width="12.00" height="1.60" rx="0.60" ry="0.60" fill="#000" fill-opacity="0.12" filter="url(#b8)"/>
<rect x="112.80" y="329.70" width="13.60" height="5.60" rx="2.10" ry="2.10" fill="#000" fill-opacity="1" filter="url(#b8)"/>
<rect x="128.00" y="331.40" width="12.00" height="2.20" rx="0.83" ry="0.83" fill="#000" fill-opacity="0.5" filter="url(#b8)"/>
<rect x="139.70" y="329.10" width="13.60" height="5.80" rx="2.17" ry="2.17" fill="#000" fill-opacity="1" filter="url(#b8)"/>
<rect x="153.50" y="330.70" width="12.00" height="2.60" rx="0.98" ry="0.98" fill="#000" fill-opacity="0.8" filter="url(#b8)"/>
</g>
<rect x="58.30" y="323.50" width="108.20" height="16.90" fill="none" stroke="#1a1a1a" stroke-width="1.2" />
<text x="52.50" y="337.25" font-size="11" text-anchor="end">SDHA</text>
<clipPath id="c10"><rect x="57.30" y="347.30" width="109.70" height="17.10"/></clipPath>
<g clip-path="url(#c10)">
<rect x="57.30" y="347.30" width="109.70" height="17.10" fill="#f2f2f2" stroke="none" stroke-width="1" />
<rect x="61.40" y="350.20" width="12.00" height="4.40" rx="1.65" ry="1.65" fill="#000" fill-opacity="1" filter="url(#b8)"/>
<rect x="88.40" y="352.00" width="12.00" height="4.60" rx="1.72" ry="1.72" fill="#000" fill-opacity="1" filter="url(#b8)"/>
<rect x="114.40" y="353.10" width="12.00" height="4.60" rx="1.72" ry="1.72" fill="#000" fill-opacity="1" filter="url(#b8)"/>
<rect x="129.00" y="354.30" width="10.00" height="2.20" rx="0.83" ry="0.83" fill="#000" fill-opacity="0.3" filter="url(#b8)"/>
<rect x="140.80" y="352.60" width="12.40" height="4.40" rx="1.65" ry="1.65" fill="#000" fill-opacity="1" filter="url(#b8)"/>
<rect x="155.00" y="353.60" width="10.00" height="1.80" rx="0.68" ry="0.68" fill="#000" fill-opacity="0.12" filter="url(#b8)"/>
</g>
<rect x="57.30" y="347.30" width="109.70" height="17.10" fill="none" stroke="#1a1a1a" stroke-width="1.2" />
<text x="52.50" y="361.15" font-size="11" text-anchor="end">UQCRC2</text>
<clipPath id="c11"><rect x="57.80" y="368.80" width="109.80" height="17.20"/></clipPath>
<g clip-path="url(#c11)">
<rect x="57.80" y="368.80" width="109.80" height="17.20" fill="#f2f2f2" stroke="none" stroke-width="1" />
<rect x="61.20" y="375.50" width="13.60" height="7.00" rx="2.62" ry="2.62" fill="#000" fill-opacity="1" filter="url(#b8)"/>
<rect x="88.40" y="377.40" width="13.00" height="5.80" rx="2.17" ry="2.17" fill="#000" fill-opacity="1" filter="url(#b8)"/>
<rect x="114.50" y="378.00" width="13.60" height="6.00" rx="2.25" ry="2.25" fill="#000" fill-opacity="1" filter="url(#b8)"/>
<rect x="129.30" y="379.40" width="10.40" height="2.60" rx="0.98" ry="0.98" fill="#000" fill-opacity="0.55" filter="url(#b8)"/>
<rect x="140.70" y="377.30" width="13.60" height="6.00" rx="2.25" ry="2.25" fill="#000" fill-opacity="1" filter="url(#b8)"/>
<rect x="154.80" y="379.40" width="10.40" height="2.00" rx="0.75" ry="0.75" fill="#000" fill-opacity="0.3" filter="url(#b8)"/>
</g>
<rect x="57.80" y="368.80" width="109.80" height="17.20" fill="none" stroke="#1a1a1a" stroke-width="1.2" />
<text x="52.50" y="382.70" font-size="11" text-anchor="end">ATP5A</text>
<clipPath id="c12"><rect x="58.30" y="396.40" width="107.70" height="16.00"/></clipPath>
<g clip-path="url(#c12)">
<rect x="58.30" y="396.40" width="107.70" height="16.00" fill="#e4e4e4" stroke="none" stroke-width="1" />
<rect x="60.00" y="403.70" width="11.00" height="2.80" rx="1.05" ry="1.05" fill="#000" fill-opacity="0.9" filter="url(#b8)"/>
<rect x="86.80" y="404.90" width="10.40" height="2.80" rx="1.05" ry="1.05" fill="#000" fill-opacity="0.9" filter="url(#b8)"/>
<rect x="112.80" y="404.90" width="10.40" height="2.80" rx="1.05" ry="1.05" fill="#000" fill-opacity="0.9" filter="url(#b8)"/>
<rect x="138.80" y="404.10" width="10.40" height="2.80" rx="1.05" ry="1.05" fill="#000" fill-opacity="0.9" filter="url(#b8)"/>
<rect x="60.50" y="407.60" width="10.00" height="2.00" rx="0.75" ry="0.75" fill="#000" fill-opacity="0.2" filter="url(#b8)"/>
<rect x="87.00" y="408.30" width="10.00" height="2.00" rx="0.75" ry="0.75" fill="#000" fill-opacity="0.2" filter="url(#b8)"/>
<rect x="113.00" y="408.30" width="10.00" height="2.00" rx="0.75" ry="0.75" fill="#000" fill-opacity="0.2" filter="url(#b8)"/>
<rect x="139.00" y="407.80" width="10.00" height="2.00" rx="0.75" ry="0.75" fill="#000" fill-opacity="0.25" filter="url(#b8)"/>
</g>
<rect x="58.30" y="396.40" width="107.70" height="16.00" fill="none" stroke="#1a1a1a" stroke-width="1.2" />
<text x="52.50" y="409.70" font-size="11" text-anchor="end">VDAC1</text>
<clipPath id="c13"><rect x="57.80" y="415.60" width="108.80" height="15.60"/></clipPath>
<g clip-path="url(#c13)">
<rect x="57.80" y="415.60" width="108.80" height="15.60" fill="#f2f2f2" stroke="none" stroke-width="1" />
<rect x="57.00" y="420.40" width="13.00" height="4.80" rx="1.80" ry="1.80" fill="#000" fill-opacity="1" filter="url(#b8)"/>
<rect x="75.00" y="422.70" width="10.00" height="1.60" rx="0.60" ry="0.60" fill="#000" fill-opacity="0.2" filter="url(#b8)"/>
<rect x="85.00" y="421.30" width="12.00" height="4.20" rx="1.58" ry="1.58" fill="#000" fill-opacity="1" filter="url(#b8)"/>
<rect x="102.00" y="422.80" width="10.00" height="1.40" rx="0.52" ry="0.52" fill="#000" fill-opacity="0.12" filter="url(#b8)"/>
<rect x="111.00" y="421.40" width="12.00" height="4.00" rx="1.50" ry="1.50" fill="#000" fill-opacity="1" filter="url(#b8)"/>
<rect x="128.00" y="422.40" width="10.00" height="1.60" rx="0.60" ry="0.60" fill="#000" fill-opacity="0.2" filter="url(#b8)"/>
<rect x="138.00" y="420.50" width="12.00" height="4.20" rx="1.58" ry="1.58" fill="#000" fill-opacity="1" filter="url(#b8)"/>
<rect x="155.00" y="421.80" width="10.00" height="1.40" rx="0.52" ry="0.52" fill="#000" fill-opacity="0.15" filter="url(#b8)"/>
</g>
<rect x="57.80" y="415.60" width="108.80" height="15.60" fill="none" stroke="#1a1a1a" stroke-width="1.2" />
<text x="52.50" y="428.70" font-size="11" text-anchor="end">Vinculin</text>
<clipPath id="c14"><rect x="182.40" y="302.30" width="108.00" height="17.00"/></clipPath>
<g clip-path="url(#c14)">
<rect x="182.40" y="302.30" width="108.00" height="17.00" fill="#f2f2f2" stroke="none" stroke-width="1" />
<rect x="181.50" y="307.10" width="15.00" height="7.00" rx="2.62" ry="2.62" fill="#000" fill-opacity="1" filter="url(#b8)"/>
<rect x="198.00" y="309.80" width="12.00" height="1.60" rx="0.60" ry="0.60" fill="#000" fill-opacity="0.2" filter="url(#b8)"/>
<rect x="209.50" y="307.10" width="15.00" height="7.00" rx="2.62" ry="2.62" fill="#000" fill-opacity="1" filter="url(#b8)"/>
<rect x="225.00" y="309.80" width="12.00" height="1.60" rx="0.60" ry="0.60" fill="#000" fill-opacity="0.25" filter="url(#b8)"/>
<rect x="236.10" y="307.10" width="15.20" height="7.00" rx="2.62" ry="2.62" fill="#000" fill-opacity="1" filter="url(#b8)"/>
<rect x="250.80" y="309.30" width="12.40" height="2.60" rx="0.98" ry="0.98" fill="#000" fill-opacity="1" filter="url(#b8)"/>
<rect x="263.20" y="307.10" width="14.60" height="7.00" rx="2.62" ry="2.62" fill="#000" fill-opacity="1" filter="url(#b8)"/>
<rect x="277.40" y="309.10" width="12.40" height="2.40" rx="0.90" ry="0.90" fill="#000" fill-opacity="0.95" filter="url(#b8)"/>
</g>
<rect x="182.40" y="302.30" width="108.00" height="17.00" fill="none" stroke="#1a1a1a" stroke-width="1.2" />
<line x1="290.40" y1="309.30" x2="295.90" y2="309.30" stroke="#222" stroke-width="1.1"/>
<text x="300.90" y="312.50" font-size="9">75</text>
<clipPath id="c15"><rect x="181.50" y="324.00" width="109.00" height="17.00"/></clipPath>
<g clip-path="url(#c15)">
<rect x="181.50" y="324.00" width="109.00" height="17.00" fill="#f2f2f2" stroke="none" stroke-width="1" />
<rect x="183.00" y="331.90" width="13.00" height="5.00" rx="1.88" ry="1.88" fill="#000" fill-opacity="1" filter="url(#b8)"/>
<rect x="198.00" y="333.60" width="10.00" height="1.40" rx="0.52" ry="0.52" fill="#000" fill-opacity="0.1" filter="url(#b8)"/>
<rect x="210.30" y="331.40" width="12.40" height="4.40" rx="1.65" ry="1.65" fill="#000" fill-opacity="1" filter="url(#b8)"/>
<rect x="237.00" y="329.50" width="12.60" height="4.20" rx="1.58" ry="1.58" fill="#000" fill-opacity="1" filter="url(#b8)"/>
<rect x="251.30" y="329.50" width="12.00" height="3.00" rx="1.12" ry="1.12" fill="#000" fill-opacity="1" filter="url(#b8)"/>
<rect x="263.90" y="327.40" width="12.80" height="4.40" rx="1.65" ry="1.65" fill="#000" fill-opacity="1" filter="url(#b8)"/>
<rect x="278.10" y="327.10" width="11.20" height="3.00" rx="1.12" ry="1.12" fill="#000" fill-opacity="1" filter="url(#b8)"/>
</g>
<rect x="181.50" y="324.00" width="109.00" height="17.00" fill="none" stroke="#1a1a1a" stroke-width="1.2" />
<line x1="290.50" y1="326.30" x2="296.00" y2="326.30" stroke="#222" stroke-width="1.1"/>
<text x="301.00" y="329.50" font-size="9">75</text>
<clipPath id="c16"><rect x="180.60" y="347.60" width="109.50" height="16.30"/></clipPath>
<g clip-path="url(#c16)">
<rect x="180.60" y="347.60" width="109.50" height="16.30" fill="#f2f2f2" stroke="none" stroke-width="1" />
<rect x="180.20" y="351.20" width="13.60" height="5.00" rx="1.88" ry="1.88" fill="#000" fill-opacity="1" filter="url(#b8)"/>
<rect x="208.60" y="351.90" width="12.40" height="5.00" rx="1.88" ry="1.88" fill="#000" fill-opacity="1" filter="url(#b8)"/>
<rect x="235.30" y="351.20" width="12.40" height="5.00" rx="1.88" ry="1.88" fill="#000" fill-opacity="1" filter="url(#b8)"/>
<rect x="249.00" y="351.00" width="12.00" height="3.40" rx="1.27" ry="1.27" fill="#000" fill-opacity="1" filter="url(#b8)"/>
<rect x="261.90" y="349.90" width="13.40" height="4.80" rx="1.80" ry="1.80" fill="#000" fill-opacity="1" filter="url(#b8)"/>
<rect x="276.70" y="351.20" width="12.00" height="3.20" rx="1.20" ry="1.20" fill="#000" fill-opacity="0.95" filter="url(#b8)"/>
</g>
<rect x="180.60" y="347.60" width="109.50" height="16.30" fill="none" stroke="#1a1a1a" stroke-width="1.2" />
<line x1="290.10" y1="355.20" x2="295.60" y2="355.20" stroke="#222" stroke-width="1.1"/>
<text x="300.60" y="358.40" font-size="9">37</text>
<clipPath id="c17"><rect x="181.50" y="369.20" width="109.40" height="16.40"/></clipPath>
<g clip-path="url(#c17)">
<rect x="181.50" y="369.20" width="109.40" height="16.40" fill="#f2f2f2" stroke="none" stroke-width="1" />
<rect x="183.90" y="376.70" width="13.80" height="6.60" rx="2.47" ry="2.47" fill="#000" fill-opacity="1" filter="url(#b8)"/>
<rect x="211.50" y="377.10" width="13.00" height="6.20" rx="2.33" ry="2.33" fill="#000" fill-opacity="1" filter="url(#b8)"/>
<rect x="237.30" y="377.60" width="13.60" height="6.20" rx="2.33" ry="2.33" fill="#000" fill-opacity="1" filter="url(#b8)"/>
<rect x="251.30" y="377.90" width="12.00" height="3.40" rx="1.27" ry="1.27" fill="#000" fill-opacity="1" filter="url(#b8)"/>
<rect x="264.10" y="376.90" width="13.80" height="6.20" rx="2.33" ry="2.33" fill="#000" fill-opacity="1" filter="url(#b8)"/>
<rect x="278.60" y="378.00" width="11.20" height="3.20" rx="1.20" ry="1.20" fill="#000" fill-opacity="1" filter="url(#b8)"/>
</g>
<rect x="181.50" y="369.20" width="109.40" height="16.40" fill="none" stroke="#1a1a1a" stroke-width="1.2" />
<line x1="290.90" y1="379.90" x2="296.40" y2="379.90" stroke="#222" stroke-width="1.1"/>
<text x="301.40" y="383.10" font-size="9">50</text>
<clipPath id="c18"><rect x="180.60" y="398.00" width="108.70" height="15.50"/></clipPath>
<g clip-path="url(#c18)">
<rect x="180.60" y="398.00" width="108.70" height="15.50" fill="#f0f0f0" stroke="none" stroke-width="1" />
<rect x="184.80" y="404.50" width="10.80" height="2.40" rx="0.90" ry="0.90" fill="#000" fill-opacity="0.75" filter="url(#b8)"/>
<rect x="211.00" y="403.10" width="10.60" height="2.40" rx="0.90" ry="0.90" fill="#000" fill-opacity="0.75" filter="url(#b8)"/>
<rect x="237.10" y="402.30" width="10.80" height="2.40" rx="0.90" ry="0.90" fill="#000" fill-opacity="0.85" filter="url(#b8)"/>
<rect x="263.40" y="400.50" width="11.20" height="2.40" rx="0.90" ry="0.90" fill="#000" fill-opacity="0.9" filter="url(#b8)"/>
<rect x="185.20" y="407.40" width="10.00" height="1.80" rx="0.68" ry="0.68" fill="#000" fill-opacity="0.25" filter="url(#b8)"/>
<rect x="211.30" y="406.60" width="10.00" height="1.80" rx="0.68" ry="0.68" fill="#000" fill-opacity="0.25" filter="url(#b8)"/>
<rect x="237.50" y="405.60" width="10.00" height="1.80" rx="0.68" ry="0.68" fill="#000" fill-opacity="0.3" filter="url(#b8)"/>
<rect x="264.00" y="403.90" width="10.00" height="1.80" rx="0.68" ry="0.68" fill="#000" fill-opacity="0.35" filter="url(#b8)"/>
<rect x="198.00" y="407.50" width="10.00" height="3.00" rx="1.12" ry="1.12" fill="#000" fill-opacity="0.08" filter="url(#b8)"/>
<rect x="225.00" y="406.50" width="10.00" height="3.00" rx="1.12" ry="1.12" fill="#000" fill-opacity="0.06" filter="url(#b8)"/>
<rect x="278.00" y="405.50" width="10.00" height="3.00" rx="1.12" ry="1.12" fill="#000" fill-opacity="0.05" filter="url(#b8)"/>
</g>
<rect x="180.60" y="398.00" width="108.70" height="15.50" fill="none" stroke="#1a1a1a" stroke-width="1.2" />
<line x1="289.30" y1="400.40" x2="294.80" y2="400.40" stroke="#222" stroke-width="1.1"/>
<text x="299.80" y="403.60" font-size="9">37</text>
<clipPath id="c19"><rect x="180.60" y="415.50" width="109.20" height="16.00"/></clipPath>
<g clip-path="url(#c19)">
<rect x="180.60" y="415.50" width="109.20" height="16.00" fill="#f2f2f2" stroke="none" stroke-width="1" />
<rect x="183.10" y="421.60" width="13.00" height="5.00" rx="1.88" ry="1.88" fill="#000" fill-opacity="1" filter="url(#b8)"/>
<rect x="197.10" y="423.20" width="10.80" height="2.60" rx="0.98" ry="0.98" fill="#000" fill-opacity="0.75" filter="url(#b8)"/>
<rect x="209.60" y="421.30" width="12.00" height="4.60" rx="1.72" ry="1.72" fill="#000" fill-opacity="1" filter="url(#b8)"/>
<rect x="224.20" y="421.90" width="10.00" height="2.20" rx="0.83" ry="0.83" fill="#000" fill-opacity="0.4" filter="url(#b8)"/>
<rect x="235.90" y="419.50" width="12.40" height="5.00" rx="1.88" ry="1.88" fill="#000" fill-opacity="1" filter="url(#b8)"/>
<rect x="249.90" y="420.30" width="10.80" height="2.40" rx="0.90" ry="0.90" fill="#000" fill-opacity="0.75" filter="url(#b8)"/>
<rect x="262.70" y="417.20" width="12.00" height="5.20" rx="1.95" ry="1.95" fill="#000" fill-opacity="1" filter="url(#b8)"/>
<rect x="276.80" y="417.30" width="10.00" height="2.40" rx="0.90" ry="0.90" fill="#000" fill-opacity="0.6" filter="url(#b8)"/>
</g>
<rect x="180.60" y="415.50" width="109.20" height="16.00" fill="none" stroke="#1a1a1a" stroke-width="1.2" />
<line x1="289.80" y1="417.00" x2="295.30" y2="417.00" stroke="#222" stroke-width="1.1"/>
<text x="300.30" y="420.20" font-size="9">150</text>
<rect x="18.90" y="443.40" width="9.60" height="9.80" fill="#fff" stroke="#9aa0c8" stroke-width="0.9" />
<text x="34.5" y="452.6" font-size="10.5"><tspan font-style="italic">Ins1</tspan><tspan font-size="6.5" dy="-3.6">Cre</tspan></text>
<rect x="78.60" y="443.40" width="10.20" height="9.80" fill="url(#hw)" stroke="#9aa0c8" stroke-width="0.9" />
<text x="94.3" y="452.6" font-size="10.5">mCAT; <tspan font-style="italic">Ins1</tspan><tspan font-size="6.5" dy="-3.6">Cre</tspan></text>
<rect x="173.00" y="443.40" width="10.00" height="9.80" fill="#7474f2" stroke="#6a6ad8" stroke-width="0.5" />
<text x="188.1" y="452.6" font-size="10.5">β-<tspan font-style="italic">Lonp1</tspan> KO</text>
<rect x="252.70" y="443.40" width="10.00" height="9.80" fill="url(#hb)" stroke="#6a6ad8" stroke-width="0.5" />
<text x="267.2" y="452.6" font-size="10.5">mCAT; β-<tspan font-style="italic">Lonp1</tspan> KO</text>
<text x="11.60" y="515.50" font-size="10.5" text-anchor="middle" transform="rotate(-90 11.60 515.50)" textLength="90.6" lengthAdjust="spacingAndGlyphs">Fold densitometry</text>
<text x="23.20" y="515.50" font-size="10.5" text-anchor="middle" transform="rotate(-90 23.20 515.50)" textLength="94.5" lengthAdjust="spacingAndGlyphs">(insoluble fraction)</text>
<line x1="53.60" y1="469.20" x2="53.60" y2="512.80" stroke="#8c8c8c" stroke-width="1"/>
<line x1="49.10" y1="469.20" x2="53.60" y2="469.20" stroke="#8c8c8c" stroke-width="1"/>
<text x="43.40" y="472.80" font-size="9.5" text-anchor="end">30</text>
<line x1="49.10" y1="495.50" x2="53.60" y2="495.50" stroke="#8c8c8c" stroke-width="1"/>
<text x="43.40" y="499.10" font-size="9.5" text-anchor="end">15</text>
<line x1="50.40" y1="512.80" x2="56.80" y2="512.80" stroke="#8c8c8c" stroke-width="1"/>
<line x1="53.60" y1="523.40" x2="53.60" y2="562.50" stroke="#8c8c8c" stroke-width="1"/>
<line x1="49.10" y1="562.50" x2="53.60" y2="562.50" stroke="#8c8c8c" stroke-width="1"/>
<text x="43.40" y="566.10" font-size="9.5" text-anchor="end">0</text>
<line x1="50.40" y1="523.40" x2="56.80" y2="523.40" stroke="#8c8c8c" stroke-width="1"/>
<text x="43.40" y="527.00" font-size="9.5" text-anchor="end">5</text>
<line x1="53.60" y1="562.50" x2="177.60" y2="562.50" stroke="#8c8c8c" stroke-width="1"/>
<line x1="70.40" y1="562.50" x2="70.40" y2="566.00" stroke="#8c8c8c" stroke-width="1"/>
<line x1="101.40" y1="562.50" x2="101.40" y2="566.00" stroke="#8c8c8c" stroke-width="1"/>
<line x1="132.70" y1="562.50" x2="132.70" y2="566.00" stroke="#8c8c8c" stroke-width="1"/>
<line x1="163.40" y1="562.50" x2="163.40" y2="566.00" stroke="#8c8c8c" stroke-width="1"/>
<rect x="57.40" y="554.60" width="6.20" height="7.90" fill="#fff" stroke="#9a9a9a" stroke-width="0.7"/>
<rect x="63.80" y="558.15" width="6.20" height="4.35" fill="url(#hw)" stroke="#9a9a9a" stroke-width="0.7"/>
<rect x="71.00" y="546.70" width="6.20" height="15.80" fill="#7474f2" stroke="#9a9a9a" stroke-width="0.7"/>
<rect x="77.50" y="547.49" width="6.20" height="15.01" fill="url(#hb)" stroke="#9a9a9a" stroke-width="0.7"/>
<line x1="74.10" y1="550.65" x2="74.10" y2="543.54" stroke="#444" stroke-width="0.7"/>
<line x1="72.30" y1="543.54" x2="75.90" y2="543.54" stroke="#444" stroke-width="0.7"/>
<line x1="72.30" y1="550.65" x2="75.90" y2="550.65" stroke="#444" stroke-width="0.7"/>
<line x1="80.60" y1="549.86" x2="80.60" y2="545.12" stroke="#444" stroke-width="0.7"/>
<line x1="78.80" y1="545.12" x2="82.40" y2="545.12" stroke="#444" stroke-width="0.7"/>
<line x1="78.80" y1="549.86" x2="82.40" y2="549.86" stroke="#444" stroke-width="0.7"/>
<circle cx="59.50" cy="553.02" r="1.6" fill="#000"/>
<circle cx="61.50" cy="554.60" r="1.6" fill="#000"/>
<circle cx="59.00" cy="556.18" r="1.6" fill="#000"/>
<circle cx="62.00" cy="555.39" r="1.6" fill="#000"/>
<polygon points="66.90,553.39 68.90,555.39 66.90,557.39 64.90,555.39" fill="#000"/>
<polygon points="65.40,555.76 67.40,557.76 65.40,559.76 63.40,557.76" fill="#000"/>
<polygon points="68.40,557.34 70.40,559.34 68.40,561.34 66.40,559.34" fill="#000"/>
<polygon points="66.90,558.92 68.90,560.92 66.90,562.92 64.90,560.92" fill="#000"/>
<polygon points="72.60,540.04 74.44,543.32 70.76,543.32" fill="#000"/>
<polygon points="75.10,540.83 76.94,544.11 73.26,544.11" fill="#000"/>
<polygon points="74.10,548.73 75.94,552.01 72.26,552.01" fill="#000"/>
<polygon points="75.60,543.99 77.44,547.27 73.76,547.27" fill="#000"/>
<polygon points="79.60,547.83 81.44,544.55 77.76,544.55" fill="#000"/>
<polygon points="81.60,547.83 83.44,544.55 79.76,544.55" fill="#000"/>
<polygon points="80.60,550.20 82.44,546.92 78.76,546.92" fill="#000"/>
<polygon points="82.10,547.04 83.94,543.76 80.26,543.76" fill="#000"/>
<rect x="88.40" y="554.60" width="6.20" height="7.90" fill="#fff" stroke="#9a9a9a" stroke-width="0.7"/>
<rect x="94.80" y="557.76" width="6.20" height="4.74" fill="url(#hw)" stroke="#9a9a9a" stroke-width="0.7"/>
<rect x="102.00" y="541.96" width="6.20" height="20.54" fill="#7474f2" stroke="#9a9a9a" stroke-width="0.7"/>
<rect x="108.50" y="542.75" width="6.20" height="19.75" fill="url(#hb)" stroke="#9a9a9a" stroke-width="0.7"/>
<line x1="105.10" y1="544.33" x2="105.10" y2="539.59" stroke="#444" stroke-width="0.7"/>
<line x1="103.30" y1="539.59" x2="106.90" y2="539.59" stroke="#444" stroke-width="0.7"/>
<line x1="103.30" y1="544.33" x2="106.90" y2="544.33" stroke="#444" stroke-width="0.7"/>
<line x1="111.60" y1="545.91" x2="111.60" y2="540.38" stroke="#444" stroke-width="0.7"/>
<line x1="109.80" y1="540.38" x2="113.40" y2="540.38" stroke="#444" stroke-width="0.7"/>
<line x1="109.80" y1="545.91" x2="113.40" y2="545.91" stroke="#444" stroke-width="0.7"/>
<circle cx="90.50" cy="548.28" r="1.6" fill="#000"/>
<circle cx="92.50" cy="554.60" r="1.6" fill="#000"/>
<circle cx="90.00" cy="556.18" r="1.6" fill="#000"/>
<circle cx="93.00" cy="555.39" r="1.6" fill="#000"/>
<polygon points="97.90,550.23 99.90,552.23 97.90,554.23 95.90,552.23" fill="#000"/>
<polygon points="96.40,554.18 98.40,556.18 96.40,558.18 94.40,556.18" fill="#000"/>
<polygon points="99.40,555.76 101.40,557.76 99.40,559.76 97.40,557.76" fill="#000"/>
<polygon points="97.90,558.13 99.90,560.13 97.90,562.13 95.90,560.13" fill="#000"/>
<polygon points="103.60,536.88 105.44,540.16 101.76,540.16" fill="#000"/>
<polygon points="106.10,538.46 107.94,541.74 104.26,541.74" fill="#000"/>
<polygon points="105.10,540.83 106.94,544.11 103.26,544.11" fill="#000"/>
<polygon points="106.60,540.04 108.44,543.32 104.76,543.32" fill="#000"/>
<polygon points="110.60,541.51 112.44,538.23 108.76,538.23" fill="#000"/>
<polygon points="112.60,544.67 114.44,541.39 110.76,541.39" fill="#000"/>
<polygon points="111.60,543.09 113.44,539.81 109.76,539.81" fill="#000"/>
<polygon points="113.10,547.04 114.94,543.76 111.26,543.76" fill="#000"/>
<rect x="119.70" y="554.60" width="6.20" height="7.90" fill="#fff" stroke="#9a9a9a" stroke-width="0.7"/>
<rect x="126.10" y="555.39" width="6.20" height="7.11" fill="url(#hw)" stroke="#9a9a9a" stroke-width="0.7"/>
<rect x="133.30" y="523.40" width="6.20" height="39.10" fill="#7474f2" stroke="#9a9a9a" stroke-width="0.7"/>
<rect x="133.30" y="496.03" width="6.20" height="16.77" fill="#7474f2" stroke="#9a9a9a" stroke-width="0.7"/>
<rect x="139.80" y="523.40" width="6.20" height="39.10" fill="url(#hb)" stroke="#9a9a9a" stroke-width="0.7"/>
<rect x="139.80" y="490.24" width="6.20" height="22.56" fill="url(#hb)" stroke="#9a9a9a" stroke-width="0.7"/>
<line x1="136.40" y1="499.01" x2="136.40" y2="492.87" stroke="#444" stroke-width="0.7"/>
<line x1="134.60" y1="492.87" x2="138.20" y2="492.87" stroke="#444" stroke-width="0.7"/>
<line x1="134.60" y1="499.01" x2="138.20" y2="499.01" stroke="#444" stroke-width="0.7"/>
<line x1="142.90" y1="495.50" x2="142.90" y2="481.47" stroke="#444" stroke-width="0.7"/>
<line x1="141.10" y1="481.47" x2="144.70" y2="481.47" stroke="#444" stroke-width="0.7"/>
<line x1="141.10" y1="495.50" x2="144.70" y2="495.50" stroke="#444" stroke-width="0.7"/>
<circle cx="121.80" cy="549.86" r="1.6" fill="#000"/>
<circle cx="123.80" cy="555.39" r="1.6" fill="#000"/>
<circle cx="121.30" cy="556.97" r="1.6" fill="#000"/>
<circle cx="124.30" cy="555.39" r="1.6" fill="#000"/>
<polygon points="129.20,547.86 131.20,549.86 129.20,551.86 127.20,549.86" fill="#000"/>
<polygon points="127.70,553.39 129.70,555.39 127.70,557.39 125.70,555.39" fill="#000"/>
<polygon points="130.70,554.97 132.70,556.97 130.70,558.97 128.70,556.97" fill="#000"/>
<polygon points="129.20,557.34 131.20,559.34 129.20,561.34 127.20,559.34" fill="#000"/>
<polygon points="134.90,488.67 136.74,491.95 133.06,491.95" fill="#000"/>
<polygon points="137.40,489.72 139.24,493.00 135.56,493.00" fill="#000"/>
<polygon points="136.40,497.96 138.24,501.24 134.56,501.24" fill="#000"/>
<polygon points="137.90,493.58 139.74,496.86 136.06,496.86" fill="#000"/>
<polygon points="142.90,474.63 144.74,471.35 141.06,471.35" fill="#000"/>
<polygon points="141.90,487.78 143.74,484.50 140.06,484.50" fill="#000"/>
<polygon points="143.90,498.30 145.74,495.02 142.06,495.02" fill="#000"/>
<polygon points="142.90,492.16 144.74,488.88 141.06,488.88" fill="#000"/>
<rect x="150.40" y="554.60" width="6.20" height="7.90" fill="#fff" stroke="#9a9a9a" stroke-width="0.7"/>
<rect x="156.80" y="555.78" width="6.20" height="6.72" fill="url(#hw)" stroke="#9a9a9a" stroke-width="0.7"/>
<rect x="164.00" y="523.40" width="6.20" height="39.10" fill="#7474f2" stroke="#9a9a9a" stroke-width="0.7"/>
<rect x="164.00" y="508.30" width="6.20" height="4.50" fill="#7474f2" stroke="#9a9a9a" stroke-width="0.7"/>
<rect x="170.50" y="523.40" width="6.20" height="39.10" fill="url(#hb)" stroke="#9a9a9a" stroke-width="0.7"/>
<rect x="170.50" y="509.70" width="6.20" height="3.10" fill="url(#hb)" stroke="#9a9a9a" stroke-width="0.7"/>
<line x1="167.10" y1="509.53" x2="167.10" y2="506.90" stroke="#444" stroke-width="0.7"/>
<line x1="165.30" y1="506.90" x2="168.90" y2="506.90" stroke="#444" stroke-width="0.7"/>
<line x1="165.30" y1="509.53" x2="168.90" y2="509.53" stroke="#444" stroke-width="0.7"/>
<line x1="173.60" y1="511.28" x2="173.60" y2="505.14" stroke="#444" stroke-width="0.7"/>
<line x1="171.80" y1="505.14" x2="175.40" y2="505.14" stroke="#444" stroke-width="0.7"/>
<line x1="171.80" y1="511.28" x2="175.40" y2="511.28" stroke="#444" stroke-width="0.7"/>
<circle cx="152.50" cy="551.44" r="1.6" fill="#000"/>
<circle cx="154.50" cy="554.60" r="1.6" fill="#000"/>
<circle cx="152.00" cy="556.18" r="1.6" fill="#000"/>
<circle cx="155.00" cy="553.02" r="1.6" fill="#000"/>
<polygon points="159.90,547.07 161.90,549.07 159.90,551.07 157.90,549.07" fill="#000"/>
<polygon points="158.40,553.39 160.40,555.39 158.40,557.39 156.40,555.39" fill="#000"/>
<polygon points="161.40,556.55 163.40,558.55 161.40,560.55 159.40,558.55" fill="#000"/>
<polygon points="159.90,552.60 161.90,554.60 159.90,556.60 157.90,554.60" fill="#000"/>
<polygon points="165.60,504.45 167.44,507.73 163.76,507.73" fill="#000"/>
<polygon points="168.10,504.45 169.94,507.73 166.26,507.73" fill="#000"/>
<polygon points="167.10,505.85 168.94,509.13 165.26,509.13" fill="#000"/>
<polygon points="168.60,505.50 170.44,508.78 166.76,508.78" fill="#000"/>
<polygon points="173.60,503.56 175.44,500.28 171.76,500.28" fill="#000"/>
<polygon points="173.60,507.06 175.44,503.78 171.76,503.78" fill="#000"/>
<polygon points="173.60,543.09 175.44,539.81 171.76,539.81" fill="#000"/>
<polygon points="174.60,509.69 176.44,506.41 172.76,506.41" fill="#000"/>
<text x="76.40" y="576.20" font-size="11" text-anchor="end" transform="rotate(-45 76.40 576.20)">ACO2</text>
<text x="107.40" y="576.20" font-size="11" text-anchor="end" transform="rotate(-45 107.40 576.20)">SDHA</text>
<text x="138.70" y="576.20" font-size="11" text-anchor="end" transform="rotate(-45 138.70 576.20)">UQCRC2</text>
<text x="169.40" y="576.20" font-size="11" text-anchor="end" transform="rotate(-45 169.40 576.20)">ATP5A</text>
<polyline points="64.20,528.00 64.20,522.40 74.10,522.40 74.10,528.00" fill="none" stroke="#8c8c8c" stroke-width="1"/>
<polyline points="75.60,528.00 75.60,522.40 85.50,522.40 85.50,528.00" fill="none" stroke="#8c8c8c" stroke-width="1"/>
<polygon points="70.30,514.80 71.06,516.35 72.77,516.60 71.54,517.80 71.83,519.50 70.30,518.70 68.77,519.50 69.06,517.80 67.83,516.60 69.54,516.35" fill="#1e1e1e"/>
<text x="74.70" y="520.60" font-size="10.2">NS</text>
<polyline points="90.20,535.60 90.20,529.60 99.70,529.60 99.70,535.60" fill="none" stroke="#8c8c8c" stroke-width="1"/>
<polyline points="95.00,528.50 95.00,522.60 105.00,522.60 105.00,528.50" fill="none" stroke="#8c8c8c" stroke-width="1"/>
<polyline points="106.40,528.50 106.40,522.60 115.80,522.60 115.80,528.50" fill="none" stroke="#8c8c8c" stroke-width="1"/>
<polygon points="100.30,514.80 101.06,516.35 102.77,516.60 101.54,517.80 101.83,519.50 100.30,518.70 98.77,519.50 99.06,517.80 97.83,516.60 99.54,516.35" fill="#1e1e1e"/>
<text x="105.20" y="520.60" font-size="10.2">NS</text>
<polyline points="122.20,481.90 122.20,475.90 131.40,475.90 131.40,481.90" fill="none" stroke="#8c8c8c" stroke-width="1"/>
<polyline points="127.20,474.70 127.20,468.70 136.20,468.70 136.20,474.70" fill="none" stroke="#8c8c8c" stroke-width="1"/>
<polyline points="138.30,474.70 138.30,468.70 147.50,468.70 147.50,474.70" fill="none" stroke="#8c8c8c" stroke-width="1"/>
<polygon points="128.50,460.80 129.26,462.35 130.97,462.60 129.74,463.80 130.03,465.50 128.50,464.70 126.97,465.50 127.26,463.80 126.03,462.60 127.74,462.35" fill="#1e1e1e"/>
<polygon points="134.70,460.80 135.46,462.35 137.17,462.60 135.94,463.80 136.23,465.50 134.70,464.70 133.17,465.50 133.46,463.80 132.23,462.60 133.94,462.35" fill="#1e1e1e"/>
<text x="137.70" y="466.80" font-size="10.2">NS</text>
<polyline points="152.50,492.00 152.50,486.30 162.50,486.30 162.50,492.00" fill="none" stroke="#8c8c8c" stroke-width="1"/>
<polyline points="157.20,485.20 157.20,479.70 167.10,479.70 167.10,485.20" fill="none" stroke="#8c8c8c" stroke-width="1"/>
<polyline points="168.00,485.20 168.00,479.70 178.00,479.70 178.00,485.20" fill="none" stroke="#8c8c8c" stroke-width="1"/>
<polygon points="158.50,472.00 159.26,473.55 160.97,473.80 159.74,475.00 160.03,476.70 158.50,475.90 156.97,476.70 157.26,475.00 156.03,473.80 157.74,473.55" fill="#1e1e1e"/>
<polygon points="164.60,472.00 165.36,473.55 167.07,473.80 165.84,475.00 166.13,476.70 164.60,475.90 163.07,476.70 163.36,475.00 162.13,473.80 163.84,473.55" fill="#1e1e1e"/>
<text x="167.60" y="477.80" font-size="10.2">NS</text>
<line x1="210.80" y1="469.30" x2="210.80" y2="513.20" stroke="#8c8c8c" stroke-width="1"/>
<line x1="206.30" y1="469.30" x2="210.80" y2="469.30" stroke="#8c8c8c" stroke-width="1"/>
<text x="201.20" y="472.90" font-size="9.5" text-anchor="end">80</text>
<line x1="206.30" y1="498.30" x2="210.80" y2="498.30" stroke="#8c8c8c" stroke-width="1"/>
<text x="201.20" y="501.90" font-size="9.5" text-anchor="end">40</text>
<line x1="207.60" y1="513.20" x2="214.00" y2="513.20" stroke="#8c8c8c" stroke-width="1"/>
<line x1="210.80" y1="524.10" x2="210.80" y2="562.30" stroke="#8c8c8c" stroke-width="1"/>
<line x1="206.30" y1="524.10" x2="210.80" y2="524.10" stroke="#8c8c8c" stroke-width="1"/>
<text x="201.20" y="527.70" font-size="9.5" text-anchor="end">10</text>
<line x1="206.30" y1="543.50" x2="210.80" y2="543.50" stroke="#8c8c8c" stroke-width="1"/>
<text x="201.20" y="547.10" font-size="9.5" text-anchor="end">5</text>
<line x1="206.30" y1="562.30" x2="210.80" y2="562.30" stroke="#8c8c8c" stroke-width="1"/>
<text x="201.20" y="565.90" font-size="9.5" text-anchor="end">0</text>
<line x1="210.80" y1="562.30" x2="335.90" y2="562.30" stroke="#8c8c8c" stroke-width="1"/>
<line x1="229.20" y1="562.30" x2="229.20" y2="565.80" stroke="#8c8c8c" stroke-width="1"/>
<line x1="259.90" y1="562.30" x2="259.90" y2="565.80" stroke="#8c8c8c" stroke-width="1"/>
<line x1="290.90" y1="562.30" x2="290.90" y2="565.80" stroke="#8c8c8c" stroke-width="1"/>
<line x1="322.20" y1="562.30" x2="322.20" y2="565.80" stroke="#8c8c8c" stroke-width="1"/>
<rect x="216.20" y="558.48" width="6.20" height="3.82" fill="#fff" stroke="#9a9a9a" stroke-width="0.7"/>
<rect x="222.60" y="558.48" width="6.20" height="3.82" fill="url(#hw)" stroke="#9a9a9a" stroke-width="0.7"/>
<rect x="229.80" y="544.35" width="6.20" height="17.95" fill="#7474f2" stroke="#9a9a9a" stroke-width="0.7"/>
<rect x="236.30" y="540.53" width="6.20" height="21.77" fill="url(#hb)" stroke="#9a9a9a" stroke-width="0.7"/>
<line x1="232.90" y1="546.26" x2="232.90" y2="542.44" stroke="#444" stroke-width="0.7"/>
<line x1="231.10" y1="542.44" x2="234.70" y2="542.44" stroke="#444" stroke-width="0.7"/>
<line x1="231.10" y1="546.26" x2="234.70" y2="546.26" stroke="#444" stroke-width="0.7"/>
<line x1="239.40" y1="542.82" x2="239.40" y2="538.23" stroke="#444" stroke-width="0.7"/>
<line x1="237.60" y1="538.23" x2="241.20" y2="538.23" stroke="#444" stroke-width="0.7"/>
<line x1="237.60" y1="542.82" x2="241.20" y2="542.82" stroke="#444" stroke-width="0.7"/>
<circle cx="217.30" cy="557.72" r="1.6" fill="#000"/>
<circle cx="219.30" cy="560.01" r="1.6" fill="#000"/>
<circle cx="221.30" cy="558.48" r="1.6" fill="#000"/>
<circle cx="218.30" cy="561.15" r="1.6" fill="#000"/>
<polygon points="225.70,552.66 227.70,554.66 225.70,556.66 223.70,554.66" fill="#000"/>
<polygon points="224.20,556.10 226.20,558.10 224.20,560.10 222.20,558.10" fill="#000"/>
<polygon points="227.20,556.86 229.20,558.86 227.20,560.86 225.20,558.86" fill="#000"/>
<polygon points="225.70,558.01 227.70,560.01 225.70,562.01 223.70,560.01" fill="#000"/>
<polygon points="231.40,539.37 233.24,542.65 229.56,542.65" fill="#000"/>
<polygon points="233.90,541.28 235.74,544.56 232.06,544.56" fill="#000"/>
<polygon points="232.90,543.95 234.74,547.23 231.06,547.23" fill="#000"/>
<polygon points="234.40,542.81 236.24,546.09 232.56,546.09" fill="#000"/>
<polygon points="238.40,539.39 240.24,536.11 236.56,536.11" fill="#000"/>
<polygon points="240.40,540.54 242.24,537.26 238.56,537.26" fill="#000"/>
<polygon points="239.40,545.12 241.24,541.84 237.56,541.84" fill="#000"/>
<polygon points="240.90,543.21 242.74,539.93 239.06,539.93" fill="#000"/>
<rect x="246.90" y="558.48" width="6.20" height="3.82" fill="#fff" stroke="#9a9a9a" stroke-width="0.7"/>
<rect x="253.30" y="558.48" width="6.20" height="3.82" fill="url(#hw)" stroke="#9a9a9a" stroke-width="0.7"/>
<rect x="260.50" y="548.55" width="6.20" height="13.75" fill="#7474f2" stroke="#9a9a9a" stroke-width="0.7"/>
<rect x="267.00" y="547.78" width="6.20" height="14.52" fill="url(#hb)" stroke="#9a9a9a" stroke-width="0.7"/>
<line x1="263.60" y1="550.08" x2="263.60" y2="546.64" stroke="#444" stroke-width="0.7"/>
<line x1="261.80" y1="546.64" x2="265.40" y2="546.64" stroke="#444" stroke-width="0.7"/>
<line x1="261.80" y1="550.08" x2="265.40" y2="550.08" stroke="#444" stroke-width="0.7"/>
<line x1="270.10" y1="550.08" x2="270.10" y2="545.49" stroke="#444" stroke-width="0.7"/>
<line x1="268.30" y1="545.49" x2="271.90" y2="545.49" stroke="#444" stroke-width="0.7"/>
<line x1="268.30" y1="550.08" x2="271.90" y2="550.08" stroke="#444" stroke-width="0.7"/>
<circle cx="248.00" cy="555.81" r="1.6" fill="#000"/>
<circle cx="250.00" cy="558.48" r="1.6" fill="#000"/>
<circle cx="252.00" cy="559.24" r="1.6" fill="#000"/>
<circle cx="249.00" cy="560.01" r="1.6" fill="#000"/>
<polygon points="256.40,551.51 258.40,553.51 256.40,555.51 254.40,553.51" fill="#000"/>
<polygon points="254.90,555.33 256.90,557.33 254.90,559.33 252.90,557.33" fill="#000"/>
<polygon points="257.90,556.86 259.90,558.86 257.90,560.86 255.90,558.86" fill="#000"/>
<polygon points="256.40,557.63 258.40,559.63 256.40,561.63 254.40,559.63" fill="#000"/>
<polygon points="262.10,544.34 263.94,547.62 260.26,547.62" fill="#000"/>
<polygon points="264.60,545.86 266.44,549.14 262.76,549.14" fill="#000"/>
<polygon points="263.60,547.77 265.44,551.05 261.76,551.05" fill="#000"/>
<polygon points="265.10,547.01 266.94,550.29 263.26,550.29" fill="#000"/>
<polygon points="269.10,546.27 270.94,542.99 267.26,542.99" fill="#000"/>
<polygon points="271.10,547.79 272.94,544.51 269.26,544.51" fill="#000"/>
<polygon points="270.10,552.00 271.94,548.72 268.26,548.72" fill="#000"/>
<polygon points="271.60,549.70 273.44,546.42 269.76,546.42" fill="#000"/>
<rect x="277.90" y="558.48" width="6.20" height="3.82" fill="#fff" stroke="#9a9a9a" stroke-width="0.7"/>
<rect x="284.30" y="558.48" width="6.20" height="3.82" fill="url(#hw)" stroke="#9a9a9a" stroke-width="0.7"/>
<rect x="291.50" y="524.10" width="6.20" height="38.20" fill="#7474f2" stroke="#9a9a9a" stroke-width="0.7"/>
<rect x="291.50" y="496.85" width="6.20" height="16.35" fill="#7474f2" stroke="#9a9a9a" stroke-width="0.7"/>
<rect x="298.00" y="524.10" width="6.20" height="38.20" fill="url(#hb)" stroke="#9a9a9a" stroke-width="0.7"/>
<rect x="298.00" y="498.52" width="6.20" height="14.68" fill="url(#hb)" stroke="#9a9a9a" stroke-width="0.7"/>
<line x1="294.60" y1="501.93" x2="294.60" y2="489.60" stroke="#444" stroke-width="0.7"/>
<line x1="292.80" y1="489.60" x2="296.40" y2="489.60" stroke="#444" stroke-width="0.7"/>
<line x1="292.80" y1="501.93" x2="296.40" y2="501.93" stroke="#444" stroke-width="0.7"/>
<line x1="301.10" y1="503.38" x2="301.10" y2="489.60" stroke="#444" stroke-width="0.7"/>
<line x1="299.30" y1="489.60" x2="302.90" y2="489.60" stroke="#444" stroke-width="0.7"/>
<line x1="299.30" y1="503.38" x2="302.90" y2="503.38" stroke="#444" stroke-width="0.7"/>
<circle cx="279.00" cy="554.66" r="1.6" fill="#000"/>
<circle cx="281.00" cy="558.48" r="1.6" fill="#000"/>
<circle cx="283.00" cy="559.24" r="1.6" fill="#000"/>
<circle cx="280.00" cy="560.01" r="1.6" fill="#000"/>
<polygon points="287.40,553.81 289.40,555.81 287.40,557.81 285.40,555.81" fill="#000"/>
<polygon points="285.90,556.48 287.90,558.48 285.90,560.48 283.90,558.48" fill="#000"/>
<polygon points="288.90,557.24 290.90,559.24 288.90,561.24 286.90,559.24" fill="#000"/>
<polygon points="287.40,558.01 289.40,560.01 287.40,562.01 285.40,560.01" fill="#000"/>
<polygon points="294.60,485.50 296.44,488.79 292.76,488.79" fill="#000"/>
<polygon points="293.60,496.38 295.44,499.66 291.76,499.66" fill="#000"/>
<polygon points="294.60,493.48 296.44,496.76 292.76,496.76" fill="#000"/>
<polygon points="295.60,497.83 297.44,501.11 293.76,501.11" fill="#000"/>
<polygon points="301.10,489.35 302.94,486.06 299.26,486.06" fill="#000"/>
<polygon points="301.10,498.77 302.94,495.49 299.26,495.49" fill="#000"/>
<polygon points="300.10,503.12 301.94,499.84 298.26,499.84" fill="#000"/>
<polygon points="302.10,500.22 303.94,496.94 300.26,496.94" fill="#000"/>
<rect x="309.20" y="558.48" width="6.20" height="3.82" fill="#fff" stroke="#9a9a9a" stroke-width="0.7"/>
<rect x="315.60" y="558.48" width="6.20" height="3.82" fill="url(#hw)" stroke="#9a9a9a" stroke-width="0.7"/>
<rect x="322.80" y="524.10" width="6.20" height="38.20" fill="#7474f2" stroke="#9a9a9a" stroke-width="0.7"/>
<rect x="322.80" y="503.38" width="6.20" height="9.83" fill="#7474f2" stroke="#9a9a9a" stroke-width="0.7"/>
<rect x="329.30" y="524.10" width="6.20" height="38.20" fill="url(#hb)" stroke="#9a9a9a" stroke-width="0.7"/>
<rect x="329.30" y="505.04" width="6.20" height="8.16" fill="url(#hb)" stroke="#9a9a9a" stroke-width="0.7"/>
<line x1="325.90" y1="506.28" x2="325.90" y2="500.48" stroke="#444" stroke-width="0.7"/>
<line x1="324.10" y1="500.48" x2="327.70" y2="500.48" stroke="#444" stroke-width="0.7"/>
<line x1="324.10" y1="506.28" x2="327.70" y2="506.28" stroke="#444" stroke-width="0.7"/>
<line x1="332.40" y1="507.00" x2="332.40" y2="502.65" stroke="#444" stroke-width="0.7"/>
<line x1="330.60" y1="502.65" x2="334.20" y2="502.65" stroke="#444" stroke-width="0.7"/>
<line x1="330.60" y1="507.00" x2="334.20" y2="507.00" stroke="#444" stroke-width="0.7"/>
<circle cx="310.30" cy="556.19" r="1.6" fill="#000"/>
<circle cx="312.30" cy="558.48" r="1.6" fill="#000"/>
<circle cx="314.30" cy="559.24" r="1.6" fill="#000"/>
<circle cx="311.30" cy="560.01" r="1.6" fill="#000"/>
<polygon points="318.70,550.75 320.70,552.75 318.70,554.75 316.70,552.75" fill="#000"/>
<polygon points="317.20,555.33 319.20,557.33 317.20,559.33 315.20,557.33" fill="#000"/>
<polygon points="320.20,556.86 322.20,558.86 320.20,560.86 318.20,558.86" fill="#000"/>
<polygon points="318.70,557.63 320.70,559.63 318.70,561.63 316.70,559.63" fill="#000"/>
<polygon points="325.90,497.83 327.74,501.11 324.06,501.11" fill="#000"/>
<polygon points="324.90,501.45 326.74,504.74 323.06,504.74" fill="#000"/>
<polygon points="325.90,503.63 327.74,506.91 324.06,506.91" fill="#000"/>
<polygon points="326.90,502.18 328.74,505.46 325.06,505.46" fill="#000"/>
<polygon points="332.40,503.85 334.24,500.56 330.56,500.56" fill="#000"/>
<polygon points="332.40,506.02 334.24,502.74 330.56,502.74" fill="#000"/>
<polygon points="331.40,507.47 333.24,504.19 329.56,504.19" fill="#000"/>
<polygon points="333.40,506.75 335.24,503.46 331.56,503.46" fill="#000"/>
<text x="235.20" y="576.00" font-size="11" text-anchor="end" transform="rotate(-45 235.20 576.00)">ACO2</text>
<text x="265.90" y="576.00" font-size="11" text-anchor="end" transform="rotate(-45 265.90 576.00)">SDHA</text>
<text x="296.90" y="576.00" font-size="11" text-anchor="end" transform="rotate(-45 296.90 576.00)">UQCRC2</text>
<text x="328.20" y="576.00" font-size="11" text-anchor="end" transform="rotate(-45 328.20 576.00)">ATP5A</text>
<polyline points="217.40,535.30 217.40,529.60 227.20,529.60 227.20,535.30" fill="none" stroke="#8c8c8c" stroke-width="1"/>
<polyline points="222.50,528.50 222.50,522.40 232.10,522.40 232.10,528.50" fill="none" stroke="#8c8c8c" stroke-width="1"/>
<polyline points="233.30,528.50 233.30,522.40 242.90,522.40 242.90,528.50" fill="none" stroke="#8c8c8c" stroke-width="1"/>
<polygon points="224.30,515.00 225.06,516.55 226.77,516.80 225.54,518.00 225.83,519.70 224.30,518.90 222.77,519.70 223.06,518.00 221.83,516.80 223.54,516.55" fill="#1e1e1e"/>
<polygon points="230.00,515.00 230.76,516.55 232.47,516.80 231.24,518.00 231.53,519.70 230.00,518.90 228.47,519.70 228.76,518.00 227.53,516.80 229.24,516.55" fill="#1e1e1e"/>
<text x="232.70" y="520.50" font-size="10.2">NS</text>
<polyline points="248.40,535.30 248.40,529.60 258.70,529.60 258.70,535.30" fill="none" stroke="#8c8c8c" stroke-width="1"/>
<polyline points="253.10,528.50 253.10,522.40 262.30,522.40 262.30,528.50" fill="none" stroke="#8c8c8c" stroke-width="1"/>
<polyline points="263.40,528.50 263.40,522.40 273.20,522.40 273.20,528.50" fill="none" stroke="#8c8c8c" stroke-width="1"/>
<polygon points="257.60,515.00 258.36,516.55 260.07,516.80 258.84,518.00 259.13,519.70 257.60,518.90 256.07,519.70 256.36,518.00 255.13,516.80 256.84,516.55" fill="#1e1e1e"/>
<text x="261.20" y="520.50" font-size="10.2">NS</text>
<polyline points="280.70,481.20 280.70,475.40 290.50,475.40 290.50,481.20" fill="none" stroke="#8c8c8c" stroke-width="1"/>
<polyline points="285.40,474.00 285.40,468.30 295.00,468.30 295.00,474.00" fill="none" stroke="#8c8c8c" stroke-width="1"/>
<polyline points="296.50,474.00 296.50,468.30 306.30,468.30 306.30,474.00" fill="none" stroke="#8c8c8c" stroke-width="1"/>
<polygon points="289.80,460.60 290.56,462.15 292.27,462.40 291.04,463.60 291.33,465.30 289.80,464.50 288.27,465.30 288.56,463.60 287.33,462.40 289.04,462.15" fill="#1e1e1e"/>
<text x="295.70" y="465.80" font-size="10.2">NS</text>
<polyline points="312.40,492.40 312.40,486.70 322.20,486.70 322.20,492.40" fill="none" stroke="#8c8c8c" stroke-width="1"/>
<polyline points="317.50,485.20 317.50,479.50 326.70,479.50 326.70,485.20" fill="none" stroke="#8c8c8c" stroke-width="1"/>
<polyline points="327.70,485.20 327.70,479.50 337.50,479.50 337.50,485.20" fill="none" stroke="#8c8c8c" stroke-width="1"/>
<polygon points="319.20,471.80 319.96,473.35 321.67,473.60 320.44,474.80 320.73,476.50 319.20,475.70 317.67,476.50 317.96,474.80 316.73,473.60 318.44,473.35" fill="#1e1e1e"/>
<polygon points="325.10,471.80 325.86,473.35 327.57,473.60 326.34,474.80 326.63,476.50 325.10,475.70 323.57,476.50 323.86,474.80 322.63,473.60 324.34,473.35" fill="#1e1e1e"/>
<text x="327.10" y="477.50" font-size="10.2">NS</text>
<text x="354.00" y="216.80" font-size="17" font-weight="bold" stroke="#1e1e1e" stroke-width="0.5">d</text>
<line x1="408.80" y1="219.40" x2="519.20" y2="219.40" stroke="#333" stroke-width="1"/>
<text x="467.20" y="216.40" font-size="11" text-anchor="middle">5 weeks</text>
<line x1="534.40" y1="219.40" x2="644.80" y2="219.40" stroke="#333" stroke-width="1"/>
<text x="592.50" y="216.40" font-size="11" text-anchor="middle">7 weeks</text>
<line x1="409.60" y1="284.20" x2="438.50" y2="284.20" stroke="#333" stroke-width="1"/>
<line x1="441.20" y1="284.20" x2="464.00" y2="284.20" stroke="#333" stroke-width="1"/>
<line x1="466.00" y1="284.20" x2="488.50" y2="284.20" stroke="#333" stroke-width="1"/>
<line x1="491.90" y1="284.20" x2="514.70" y2="284.20" stroke="#333" stroke-width="1"/>
<line x1="536.50" y1="284.20" x2="564.90" y2="284.20" stroke="#333" stroke-width="1"/>
<line x1="567.50" y1="284.20" x2="589.60" y2="284.20" stroke="#333" stroke-width="1"/>
<line x1="591.70" y1="284.20" x2="614.80" y2="284.20" stroke="#333" stroke-width="1"/>
<line x1="617.50" y1="284.20" x2="640.30" y2="284.20" stroke="#333" stroke-width="1"/>
<text x="424.05" y="280.00" font-size="8.8" transform="rotate(-45 424.05 280.00)"><tspan>Ins1</tspan><tspan font-size="5.6" dy="-2.9">Cre</tspan></text>
<text x="452.60" y="280.00" font-size="8.8" transform="rotate(-45 452.60 280.00)">mCAT; <tspan>Ins1</tspan><tspan font-size="5.6" dy="-2.9">Cre</tspan></text>
<text x="477.25" y="280.00" font-size="8.8" transform="rotate(-45 477.25 280.00)">β-<tspan>Lonp1</tspan> KO</text>
<text x="503.30" y="280.00" font-size="8.8" transform="rotate(-45 503.30 280.00)">mCAT; β-<tspan>Lonp1</tspan> KO</text>
<text x="550.70" y="280.00" font-size="8.8" transform="rotate(-45 550.70 280.00)"><tspan>Ins1</tspan><tspan font-size="5.6" dy="-2.9">Cre</tspan></text>
<text x="578.55" y="280.00" font-size="8.8" transform="rotate(-45 578.55 280.00)">mCAT; <tspan>Ins1</tspan><tspan font-size="5.6" dy="-2.9">Cre</tspan></text>
<text x="603.25" y="280.00" font-size="8.8" transform="rotate(-45 603.25 280.00)">β-<tspan>Lonp1</tspan> KO</text>
<text x="628.90" y="280.00" font-size="8.8" transform="rotate(-45 628.90 280.00)">mCAT; β-<tspan>Lonp1</tspan> KO</text>
<text x="417.50" y="298.00" font-size="9.5" text-anchor="middle">S</text>
<text x="432.50" y="298.00" font-size="9.5" text-anchor="middle">P</text>
<text x="445.10" y="298.00" font-size="9.5" text-anchor="middle">S</text>
<text x="459.50" y="298.00" font-size="9.5" text-anchor="middle">P</text>
<text x="470.60" y="298.00" font-size="9.5" text-anchor="middle">S</text>
<text x="484.50" y="298.00" font-size="9.5" text-anchor="middle">P</text>
<text x="497.10" y="298.00" font-size="9.5" text-anchor="middle">S</text>
<text x="510.80" y="298.00" font-size="9.5" text-anchor="middle">P</text>
<text x="542.60" y="298.00" font-size="9.5" text-anchor="middle">S</text>
<text x="557.50" y="298.00" font-size="9.5" text-anchor="middle">P</text>
<text x="570.20" y="298.00" font-size="9.5" text-anchor="middle">S</text>
<text x="583.80" y="298.00" font-size="9.5" text-anchor="middle">P</text>
<text x="595.60" y="298.00" font-size="9.5" text-anchor="middle">S</text>
<text x="610.00" y="298.00" font-size="9.5" text-anchor="middle">P</text>
<text x="622.40" y="298.00" font-size="9.5" text-anchor="middle">S</text>
<text x="635.80" y="298.00" font-size="9.5" text-anchor="middle">P</text>
<text x="655.30" y="298.00" font-size="9.5">kDa</text>
<clipPath id="c20"><rect x="408.60" y="302.20" width="110.20" height="18.70"/></clipPath>
<g clip-path="url(#c20)">
<rect x="408.60" y="302.20" width="110.20" height="18.70" fill="#f2f2f2" stroke="none" stroke-width="1" />
<rect x="411.20" y="306.40" width="13.60" height="6.00" rx="2.25" ry="2.25" fill="#000" fill-opacity="1" filter="url(#b8)"/>
<rect x="426.20" y="309.90" width="11.00" height="1.80" rx="0.68" ry="0.68" fill="#000" fill-opacity="0.4" filter="url(#b8)"/>
<rect x="438.30" y="308.20" width="13.00" height="7.00" rx="2.62" ry="2.62" fill="#000" fill-opacity="1" filter="url(#b8)"/>
<rect x="463.70" y="309.40" width="14.00" height="7.00" rx="2.62" ry="2.62" fill="#000" fill-opacity="1" filter="url(#b8)"/>
<rect x="478.60" y="311.10" width="10.40" height="2.40" rx="0.90" ry="0.90" fill="#000" fill-opacity="0.8" filter="url(#b8)"/>
<rect x="490.80" y="308.70" width="13.20" height="6.60" rx="2.47" ry="2.47" fill="#000" fill-opacity="1" filter="url(#b8)"/>
<rect x="505.80" y="310.70" width="11.20" height="2.60" rx="0.98" ry="0.98" fill="#000" fill-opacity="0.9" filter="url(#b8)"/>
</g>
<rect x="408.60" y="302.20" width="110.20" height="18.70" fill="none" stroke="#1a1a1a" stroke-width="1.2" />
<text x="403.30" y="315.95" font-size="11" text-anchor="end">mtHSP70</text>
<clipPath id="c21"><rect x="408.60" y="323.80" width="110.20" height="21.60"/></clipPath>
<g clip-path="url(#c21)">
<rect x="408.60" y="323.80" width="110.20" height="21.60" fill="#f6f6f6" stroke="none" stroke-width="1" />
<rect x="412.00" y="329.60" width="12.00" height="1.60" rx="0.60" ry="0.60" fill="#000" fill-opacity="0.12" filter="url(#b8)"/>
<rect x="412.00" y="333.10" width="12.00" height="1.60" rx="0.60" ry="0.60" fill="#000" fill-opacity="0.12" filter="url(#b8)"/>
<rect x="425.90" y="329.60" width="11.60" height="2.40" rx="0.90" ry="0.90" fill="#000" fill-opacity="0.75" filter="url(#b8)"/>
<rect x="425.90" y="333.60" width="11.60" height="2.40" rx="0.90" ry="0.90" fill="#000" fill-opacity="0.65" filter="url(#b8)"/>
<rect x="438.80" y="332.50" width="12.00" height="2.00" rx="0.75" ry="0.75" fill="#000" fill-opacity="0.25" filter="url(#b8)"/>
<rect x="438.80" y="335.70" width="12.00" height="2.00" rx="0.75" ry="0.75" fill="#000" fill-opacity="0.2" filter="url(#b8)"/>
<rect x="454.10" y="331.50" width="9.00" height="3.00" rx="1.12" ry="1.12" fill="#000" fill-opacity="0.1" filter="url(#b8)"/>
<rect x="464.70" y="335.20" width="12.00" height="2.60" rx="0.98" ry="0.98" fill="#000" fill-opacity="0.12" filter="url(#b8)"/>
<rect x="478.20" y="330.90" width="11.20" height="2.60" rx="0.98" ry="0.98" fill="#000" fill-opacity="0.7" filter="url(#b8)"/>
<rect x="478.00" y="334.00" width="11.60" height="4.40" rx="1.65" ry="1.65" fill="#000" fill-opacity="1" filter="url(#b8)"/>
<rect x="492.40" y="335.00" width="10.00" height="2.00" rx="0.75" ry="0.75" fill="#000" fill-opacity="0.06" filter="url(#b8)"/>
<rect x="505.80" y="330.00" width="11.20" height="2.60" rx="0.98" ry="0.98" fill="#000" fill-opacity="0.7" filter="url(#b8)"/>
<rect x="505.60" y="333.10" width="11.60" height="4.40" rx="1.65" ry="1.65" fill="#000" fill-opacity="1" filter="url(#b8)"/>
</g>
<rect x="408.60" y="323.80" width="110.20" height="21.60" fill="none" stroke="#1a1a1a" stroke-width="1.2" />
<text x="403.30" y="340.90" font-size="11" text-anchor="end">DNAJA3</text>
<clipPath id="c22"><rect x="409.20" y="349.10" width="110.40" height="16.10"/></clipPath>
<g clip-path="url(#c22)">
<rect x="409.20" y="349.10" width="110.40" height="16.10" fill="#f2f2f2" stroke="none" stroke-width="1" />
<rect x="410.20" y="358.00" width="11.60" height="3.40" rx="1.28" ry="1.28" fill="#000" fill-opacity="1" filter="url(#b8)"/>
<rect x="437.90" y="358.70" width="10.80" height="3.60" rx="1.35" ry="1.35" fill="#000" fill-opacity="1" filter="url(#b8)"/>
<rect x="463.60" y="358.30" width="11.60" height="3.20" rx="1.20" ry="1.20" fill="#000" fill-opacity="0.95" filter="url(#b8)"/>
<rect x="490.60" y="358.00" width="11.00" height="3.00" rx="1.12" ry="1.12" fill="#000" fill-opacity="0.8" filter="url(#b8)"/>
</g>
<rect x="409.20" y="349.10" width="110.40" height="16.10" fill="none" stroke="#1a1a1a" stroke-width="1.2" />
<text x="403.30" y="361.55" font-size="11" text-anchor="end">HSP60</text>
<clipPath id="c23"><rect x="408.60" y="368.40" width="111.00" height="17.00"/></clipPath>
<g clip-path="url(#c23)">
<rect x="408.60" y="368.40" width="111.00" height="17.00" fill="#f2f2f2" stroke="none" stroke-width="1" />
<rect x="409.40" y="373.50" width="14.80" height="5.60" rx="2.10" ry="2.10" fill="#000" fill-opacity="1" filter="url(#b8)"/>
<rect x="409.80" y="378.50" width="14.00" height="3.00" rx="1.12" ry="1.12" fill="#000" fill-opacity="0.35" filter="url(#b8)"/>
<rect x="438.30" y="376.00" width="12.60" height="4.80" rx="1.80" ry="1.80" fill="#000" fill-opacity="1" filter="url(#b8)"/>
<rect x="438.60" y="380.40" width="12.00" height="2.40" rx="0.90" ry="0.90" fill="#000" fill-opacity="0.6" filter="url(#b8)"/>
<rect x="464.50" y="377.60" width="12.00" height="3.40" rx="1.28" ry="1.28" fill="#000" fill-opacity="0.95" filter="url(#b8)"/>
<rect x="464.70" y="382.10" width="11.60" height="2.40" rx="0.90" ry="0.90" fill="#000" fill-opacity="0.7" filter="url(#b8)"/>
<rect x="477.90" y="378.50" width="10.60" height="2.00" rx="0.75" ry="0.75" fill="#000" fill-opacity="0.35" filter="url(#b8)"/>
<rect x="491.60" y="377.60" width="11.60" height="3.40" rx="1.28" ry="1.28" fill="#000" fill-opacity="0.95" filter="url(#b8)"/>
<rect x="491.80" y="382.10" width="11.20" height="2.40" rx="0.90" ry="0.90" fill="#000" fill-opacity="0.7" filter="url(#b8)"/>
<rect x="506.00" y="378.60" width="10.00" height="1.80" rx="0.68" ry="0.68" fill="#000" fill-opacity="0.12" filter="url(#b8)"/>
</g>
<rect x="408.60" y="368.40" width="111.00" height="17.00" fill="none" stroke="#1a1a1a" stroke-width="1.2" />
<text x="403.30" y="381.30" font-size="11" text-anchor="end">CLPP</text>
<clipPath id="c24"><rect x="408.20" y="394.00" width="110.70" height="16.30"/></clipPath>
<g clip-path="url(#c24)">
<rect x="408.20" y="394.00" width="110.70" height="16.30" fill="#e9e9e9" stroke="none" stroke-width="1" />
<rect x="410.20" y="397.80" width="13.20" height="3.00" rx="1.12" ry="1.12" fill="#000" fill-opacity="1" filter="url(#b8)"/>
<rect x="410.80" y="402.60" width="12.00" height="2.40" rx="0.90" ry="0.90" fill="#000" fill-opacity="0.4" filter="url(#b8)"/>
<rect x="439.00" y="399.80" width="12.00" height="3.20" rx="1.20" ry="1.20" fill="#000" fill-opacity="1" filter="url(#b8)"/>
<rect x="439.50" y="404.10" width="11.00" height="2.20" rx="0.83" ry="0.83" fill="#000" fill-opacity="0.35" filter="url(#b8)"/>
<rect x="465.30" y="400.10" width="12.00" height="3.20" rx="1.20" ry="1.20" fill="#000" fill-opacity="1" filter="url(#b8)"/>
<rect x="465.80" y="404.50" width="11.00" height="2.20" rx="0.83" ry="0.83" fill="#000" fill-opacity="0.4" filter="url(#b8)"/>
<rect x="492.50" y="398.90" width="12.00" height="3.20" rx="1.20" ry="1.20" fill="#000" fill-opacity="1" filter="url(#b8)"/>
<rect x="493.00" y="403.20" width="11.00" height="2.00" rx="0.75" ry="0.75" fill="#000" fill-opacity="0.35" filter="url(#b8)"/>
</g>
<rect x="408.20" y="394.00" width="110.70" height="16.30" fill="none" stroke="#1a1a1a" stroke-width="1.2" />
<text x="403.30" y="406.55" font-size="11" text-anchor="end">VDAC1</text>
<clipPath id="c25"><rect x="408.20" y="413.30" width="110.70" height="17.00"/></clipPath>
<g clip-path="url(#c25)">
<rect x="408.20" y="413.30" width="110.70" height="17.00" fill="#f2f2f2" stroke="none" stroke-width="1" />
<rect x="408.90" y="415.90" width="13.60" height="6.00" rx="2.25" ry="2.25" fill="#000" fill-opacity="1" filter="url(#b8)"/>
<rect x="424.50" y="418.60" width="11.00" height="1.80" rx="0.68" ry="0.68" fill="#000" fill-opacity="0.3" filter="url(#b8)"/>
<rect x="437.40" y="418.10" width="12.80" height="5.80" rx="2.17" ry="2.17" fill="#000" fill-opacity="1" filter="url(#b8)"/>
<rect x="452.50" y="420.70" width="10.00" height="1.60" rx="0.60" ry="0.60" fill="#000" fill-opacity="0.12" filter="url(#b8)"/>
<rect x="464.60" y="418.50" width="12.60" height="6.00" rx="2.25" ry="2.25" fill="#000" fill-opacity="1" filter="url(#b8)"/>
<rect x="479.30" y="420.30" width="10.00" height="1.80" rx="0.68" ry="0.68" fill="#000" fill-opacity="0.22" filter="url(#b8)"/>
<rect x="492.20" y="417.80" width="12.60" height="5.60" rx="2.10" ry="2.10" fill="#000" fill-opacity="1" filter="url(#b8)"/>
<rect x="506.50" y="419.80" width="10.00" height="1.60" rx="0.60" ry="0.60" fill="#000" fill-opacity="0.15" filter="url(#b8)"/>
</g>
<rect x="408.20" y="413.30" width="110.70" height="17.00" fill="none" stroke="#1a1a1a" stroke-width="1.2" />
<text x="403.30" y="426.20" font-size="11" text-anchor="end">Vinculin</text>
<clipPath id="c26"><rect x="534.40" y="302.20" width="110.20" height="18.70"/></clipPath>
<g clip-path="url(#c26)">
<rect x="534.40" y="302.20" width="110.20" height="18.70" fill="#f2f2f2" stroke="none" stroke-width="1" />
<rect x="536.10" y="312.90" width="11.40" height="4.20" rx="1.58" ry="1.58" fill="#000" fill-opacity="1" filter="url(#b8)"/>
<rect x="550.50" y="313.80" width="10.00" height="1.40" rx="0.52" ry="0.52" fill="#000" fill-opacity="0.1" filter="url(#b8)"/>
<rect x="562.30" y="311.70" width="10.60" height="4.20" rx="1.58" ry="1.58" fill="#000" fill-opacity="1" filter="url(#b8)"/>
<rect x="575.00" y="311.90" width="10.00" height="1.20" rx="0.45" ry="0.45" fill="#000" fill-opacity="0.15" filter="url(#b8)"/>
<rect x="587.70" y="308.40" width="12.00" height="4.40" rx="1.65" ry="1.65" fill="#000" fill-opacity="1" filter="url(#b8)"/>
<rect x="601.00" y="308.90" width="11.60" height="4.20" rx="1.58" ry="1.58" fill="#000" fill-opacity="1" filter="url(#b8)"/>
<rect x="614.00" y="308.70" width="12.00" height="4.20" rx="1.58" ry="1.58" fill="#000" fill-opacity="1" filter="url(#b8)"/>
<rect x="627.20" y="308.10" width="12.20" height="4.40" rx="1.65" ry="1.65" fill="#000" fill-opacity="1" filter="url(#b8)"/>
</g>
<rect x="534.40" y="302.20" width="110.20" height="18.70" fill="none" stroke="#1a1a1a" stroke-width="1.2" />
<line x1="644.60" y1="305.40" x2="650.10" y2="305.40" stroke="#222" stroke-width="1.1"/>
<text x="656.00" y="308.60" font-size="9">75</text>
<clipPath id="c27"><rect x="534.40" y="323.80" width="110.00" height="21.30"/></clipPath>
<g clip-path="url(#c27)">
<rect x="534.40" y="323.80" width="110.00" height="21.30" fill="#f2f2f2" stroke="none" stroke-width="1" />
<rect x="536.00" y="334.30" width="11.60" height="2.80" rx="1.05" ry="1.05" fill="#000" fill-opacity="0.6" filter="url(#b8)"/>
<rect x="536.00" y="338.80" width="11.60" height="2.40" rx="0.90" ry="0.90" fill="#000" fill-opacity="0.4" filter="url(#b8)"/>
<rect x="551.10" y="333.80" width="11.00" height="2.00" rx="0.75" ry="0.75" fill="#000" fill-opacity="0.3" filter="url(#b8)"/>
<rect x="551.10" y="338.20" width="11.00" height="2.00" rx="0.75" ry="0.75" fill="#000" fill-opacity="0.25" filter="url(#b8)"/>
<rect x="565.00" y="331.10" width="12.00" height="2.60" rx="0.98" ry="0.98" fill="#000" fill-opacity="0.55" filter="url(#b8)"/>
<rect x="565.00" y="336.20" width="12.00" height="2.40" rx="0.90" ry="0.90" fill="#000" fill-opacity="0.4" filter="url(#b8)"/>
<rect x="580.50" y="329.70" width="10.00" height="1.60" rx="0.60" ry="0.60" fill="#000" fill-opacity="0.12" filter="url(#b8)"/>
<rect x="580.50" y="334.30" width="10.00" height="1.60" rx="0.60" ry="0.60" fill="#000" fill-opacity="0.2" filter="url(#b8)"/>
<rect x="593.90" y="328.20" width="13.20" height="4.40" rx="1.65" ry="1.65" fill="#000" fill-opacity="1" filter="url(#b8)"/>
<rect x="593.90" y="332.30" width="13.20" height="6.00" rx="2.25" ry="2.25" fill="#000" fill-opacity="1" filter="url(#b8)"/>
<rect x="610.80" y="329.60" width="10.00" height="1.60" rx="0.60" ry="0.60" fill="#000" fill-opacity="0.15" filter="url(#b8)"/>
<rect x="610.80" y="333.80" width="10.00" height="2.00" rx="0.75" ry="0.75" fill="#000" fill-opacity="0.25" filter="url(#b8)"/>
<rect x="623.40" y="326.60" width="13.60" height="4.40" rx="1.65" ry="1.65" fill="#000" fill-opacity="1" filter="url(#b8)"/>
<rect x="623.40" y="330.80" width="13.60" height="6.40" rx="2.40" ry="2.40" fill="#000" fill-opacity="1" filter="url(#b8)"/>
</g>
<rect x="534.40" y="323.80" width="110.00" height="21.30" fill="none" stroke="#1a1a1a" stroke-width="1.2" />
<line x1="644.40" y1="325.50" x2="649.90" y2="325.50" stroke="#222" stroke-width="1.1"/>
<text x="656.00" y="328.70" font-size="9">50</text>
<clipPath id="c28"><rect x="534.40" y="348.80" width="110.00" height="16.60"/></clipPath>
<g clip-path="url(#c28)">
<rect x="534.40" y="348.80" width="110.00" height="16.60" fill="#f2f2f2" stroke="none" stroke-width="1" />
<rect x="536.00" y="358.10" width="11.60" height="3.20" rx="1.20" ry="1.20" fill="#000" fill-opacity="0.85" filter="url(#b8)"/>
<rect x="562.10" y="357.30" width="11.00" height="3.40" rx="1.28" ry="1.28" fill="#000" fill-opacity="0.95" filter="url(#b8)"/>
<rect x="587.50" y="355.50" width="11.40" height="3.40" rx="1.28" ry="1.28" fill="#000" fill-opacity="1" filter="url(#b8)"/>
<rect x="613.90" y="356.20" width="11.80" height="3.40" rx="1.28" ry="1.28" fill="#000" fill-opacity="1" filter="url(#b8)"/>
<rect x="628.50" y="357.20" width="10.00" height="1.60" rx="0.60" ry="0.60" fill="#000" fill-opacity="0.06" filter="url(#b8)"/>
</g>
<rect x="534.40" y="348.80" width="110.00" height="16.60" fill="none" stroke="#1a1a1a" stroke-width="1.2" />
<line x1="644.40" y1="361.00" x2="649.90" y2="361.00" stroke="#222" stroke-width="1.1"/>
<text x="656.00" y="364.20" font-size="9">50</text>
<clipPath id="c29"><rect x="534.40" y="368.60" width="110.00" height="17.00"/></clipPath>
<g clip-path="url(#c29)">
<rect x="534.40" y="368.60" width="110.00" height="17.00" fill="#f2f2f2" stroke="none" stroke-width="1" />
<ellipse cx="630" cy="384" rx="22" ry="9" fill="#000" fill-opacity="0.22" filter="url(#b39)"/>
<ellipse cx="600" cy="386" rx="25" ry="5" fill="#000" fill-opacity="0.1" filter="url(#b30)"/>
<ellipse cx="550" cy="374" rx="20" ry="6" fill="#000" fill-opacity="0.07" filter="url(#b30)"/>
<rect x="537.00" y="377.30" width="11.40" height="3.20" rx="1.20" ry="1.20" fill="#000" fill-opacity="0.85" filter="url(#b8)"/>
<rect x="537.20" y="381.00" width="11.00" height="2.00" rx="0.75" ry="0.75" fill="#000" fill-opacity="0.3" filter="url(#b8)"/>
<rect x="563.30" y="376.40" width="11.40" height="3.40" rx="1.28" ry="1.28" fill="#000" fill-opacity="0.85" filter="url(#b8)"/>
<rect x="563.50" y="380.40" width="11.00" height="2.00" rx="0.75" ry="0.75" fill="#000" fill-opacity="0.3" filter="url(#b8)"/>
<rect x="588.70" y="374.40" width="11.00" height="2.40" rx="0.90" ry="0.90" fill="#000" fill-opacity="0.55" filter="url(#b8)"/>
<rect x="588.70" y="378.50" width="11.00" height="2.00" rx="0.75" ry="0.75" fill="#000" fill-opacity="0.35" filter="url(#b8)"/>
<rect x="601.30" y="374.50" width="12.40" height="2.00" rx="0.75" ry="0.75" fill="#000" fill-opacity="0.35" filter="url(#b8)"/>
<rect x="615.00" y="373.80" width="11.00" height="2.60" rx="0.98" ry="0.98" fill="#000" fill-opacity="0.55" filter="url(#b8)"/>
<rect x="615.00" y="377.90" width="11.00" height="2.00" rx="0.75" ry="0.75" fill="#000" fill-opacity="0.35" filter="url(#b8)"/>
<rect x="628.00" y="375.00" width="10.00" height="2.00" rx="0.75" ry="0.75" fill="#000" fill-opacity="0.12" filter="url(#b8)"/>
</g>
<rect x="534.40" y="368.60" width="110.00" height="17.00" fill="none" stroke="#1a1a1a" stroke-width="1.2" />
<line x1="644.40" y1="374.60" x2="649.90" y2="374.60" stroke="#222" stroke-width="1.1"/>
<text x="656.00" y="377.80" font-size="9">25</text>
<clipPath id="c30"><rect x="534.40" y="393.50" width="110.00" height="17.00"/></clipPath>
<g clip-path="url(#c30)">
<rect x="534.40" y="393.50" width="110.00" height="17.00" fill="#f2f2f2" stroke="none" stroke-width="1" />
<rect x="537.10" y="401.80" width="11.20" height="2.60" rx="0.98" ry="0.98" fill="#000" fill-opacity="0.7" filter="url(#b8)"/>
<rect x="563.40" y="400.40" width="11.60" height="2.60" rx="0.98" ry="0.98" fill="#000" fill-opacity="0.7" filter="url(#b8)"/>
<rect x="563.70" y="405.30" width="11.00" height="2.00" rx="0.75" ry="0.75" fill="#000" fill-opacity="0.2" filter="url(#b8)"/>
<rect x="590.50" y="398.30" width="11.00" height="2.60" rx="0.98" ry="0.98" fill="#000" fill-opacity="0.75" filter="url(#b8)"/>
<rect x="590.50" y="403.00" width="11.00" height="2.00" rx="0.75" ry="0.75" fill="#000" fill-opacity="0.3" filter="url(#b8)"/>
<rect x="616.30" y="397.00" width="10.00" height="2.80" rx="1.05" ry="1.05" fill="#000" fill-opacity="0.8" filter="url(#b8)"/>
<rect x="616.30" y="401.80" width="10.00" height="2.00" rx="0.75" ry="0.75" fill="#000" fill-opacity="0.3" filter="url(#b8)"/>
</g>
<rect x="534.40" y="393.50" width="110.00" height="17.00" fill="none" stroke="#1a1a1a" stroke-width="1.2" />
<line x1="644.40" y1="395.10" x2="649.90" y2="395.10" stroke="#222" stroke-width="1.1"/>
<text x="656.00" y="398.30" font-size="9">37</text>
<clipPath id="c31"><rect x="534.40" y="413.30" width="110.00" height="16.30"/></clipPath>
<g clip-path="url(#c31)">
<rect x="534.40" y="413.30" width="110.00" height="16.30" fill="#f2f2f2" stroke="none" stroke-width="1" />
<rect x="535.30" y="420.90" width="13.60" height="5.40" rx="2.03" ry="2.03" fill="#000" fill-opacity="1" filter="url(#b8)"/>
<rect x="551.90" y="422.80" width="10.40" height="2.00" rx="0.75" ry="0.75" fill="#000" fill-opacity="0.35" filter="url(#b8)"/>
<rect x="564.60" y="421.10" width="12.40" height="5.00" rx="1.88" ry="1.88" fill="#000" fill-opacity="1" filter="url(#b8)"/>
<rect x="579.00" y="422.50" width="10.60" height="2.00" rx="0.75" ry="0.75" fill="#000" fill-opacity="0.3" filter="url(#b8)"/>
<rect x="591.20" y="420.00" width="12.40" height="5.40" rx="2.03" ry="2.03" fill="#000" fill-opacity="1" filter="url(#b8)"/>
<rect x="606.20" y="421.80" width="10.00" height="2.40" rx="0.90" ry="0.90" fill="#000" fill-opacity="0.7" filter="url(#b8)"/>
<rect x="618.50" y="419.90" width="11.40" height="5.60" rx="2.10" ry="2.10" fill="#000" fill-opacity="1" filter="url(#b8)"/>
<rect x="631.60" y="421.70" width="9.60" height="2.00" rx="0.75" ry="0.75" fill="#000" fill-opacity="0.45" filter="url(#b8)"/>
</g>
<rect x="534.40" y="413.30" width="110.00" height="16.30" fill="none" stroke="#1a1a1a" stroke-width="1.2" />
<line x1="644.40" y1="417.40" x2="649.90" y2="417.40" stroke="#222" stroke-width="1.1"/>
<text x="656.00" y="420.60" font-size="9">150</text>
<text x="366.60" y="516.00" font-size="10.5" text-anchor="middle" transform="rotate(-90 366.60 516.00)" textLength="90.6" lengthAdjust="spacingAndGlyphs">Fold densitometry</text>
<text x="377.60" y="516.00" font-size="10.5" text-anchor="middle" transform="rotate(-90 377.60 516.00)" textLength="93" lengthAdjust="spacingAndGlyphs">(insoluble fraction)</text>
<line x1="401.80" y1="469.40" x2="401.80" y2="562.30" stroke="#8c8c8c" stroke-width="1"/>
<line x1="397.30" y1="562.30" x2="401.80" y2="562.30" stroke="#8c8c8c" stroke-width="1"/>
<text x="396.20" y="565.90" font-size="9.5" text-anchor="end">0</text>
<line x1="397.30" y1="531.36" x2="401.80" y2="531.36" stroke="#8c8c8c" stroke-width="1"/>
<text x="396.20" y="534.96" font-size="9.5" text-anchor="end">2</text>
<line x1="397.30" y1="500.42" x2="401.80" y2="500.42" stroke="#8c8c8c" stroke-width="1"/>
<text x="396.20" y="504.02" font-size="9.5" text-anchor="end">4</text>
<line x1="397.30" y1="469.48" x2="401.80" y2="469.48" stroke="#8c8c8c" stroke-width="1"/>
<text x="396.20" y="473.08" font-size="9.5" text-anchor="end">6</text>
<line x1="401.80" y1="562.30" x2="525.80" y2="562.30" stroke="#8c8c8c" stroke-width="1"/>
<line x1="418.50" y1="562.30" x2="418.50" y2="565.80" stroke="#8c8c8c" stroke-width="1"/>
<line x1="449.80" y1="562.30" x2="449.80" y2="565.80" stroke="#8c8c8c" stroke-width="1"/>
<line x1="480.80" y1="562.30" x2="480.80" y2="565.80" stroke="#8c8c8c" stroke-width="1"/>
<line x1="511.90" y1="562.30" x2="511.90" y2="565.80" stroke="#8c8c8c" stroke-width="1"/>
<rect x="405.50" y="547.45" width="6.20" height="14.85" fill="#fff" stroke="#9a9a9a" stroke-width="0.7"/>
<rect x="411.90" y="539.87" width="6.20" height="22.43" fill="url(#hw)" stroke="#9a9a9a" stroke-width="0.7"/>
<rect x="419.10" y="504.44" width="6.20" height="57.86" fill="#7474f2" stroke="#9a9a9a" stroke-width="0.7"/>
<rect x="425.60" y="510.17" width="6.20" height="52.13" fill="url(#hb)" stroke="#9a9a9a" stroke-width="0.7"/>
<line x1="408.60" y1="550.70" x2="408.60" y2="544.51" stroke="#444" stroke-width="0.7"/>
<line x1="406.80" y1="544.51" x2="410.40" y2="544.51" stroke="#444" stroke-width="0.7"/>
<line x1="406.80" y1="550.70" x2="410.40" y2="550.70" stroke="#444" stroke-width="0.7"/>
<line x1="415.00" y1="543.74" x2="415.00" y2="535.23" stroke="#444" stroke-width="0.7"/>
<line x1="413.20" y1="535.23" x2="416.80" y2="535.23" stroke="#444" stroke-width="0.7"/>
<line x1="413.20" y1="543.74" x2="416.80" y2="543.74" stroke="#444" stroke-width="0.7"/>
<line x1="422.20" y1="508.93" x2="422.20" y2="499.65" stroke="#444" stroke-width="0.7"/>
<line x1="420.40" y1="499.65" x2="424.00" y2="499.65" stroke="#444" stroke-width="0.7"/>
<line x1="420.40" y1="508.93" x2="424.00" y2="508.93" stroke="#444" stroke-width="0.7"/>
<line x1="428.70" y1="515.89" x2="428.70" y2="505.06" stroke="#444" stroke-width="0.7"/>
<line x1="426.90" y1="505.06" x2="430.50" y2="505.06" stroke="#444" stroke-width="0.7"/>
<line x1="426.90" y1="515.89" x2="430.50" y2="515.89" stroke="#444" stroke-width="0.7"/>
<circle cx="407.10" cy="542.19" r="1.6" fill="#000"/>
<circle cx="410.10" cy="543.74" r="1.6" fill="#000"/>
<circle cx="408.60" cy="549.15" r="1.6" fill="#000"/>
<circle cx="408.60" cy="553.02" r="1.6" fill="#000"/>
<polygon points="416.00,533.23 418.00,535.23 416.00,537.23 414.00,535.23" fill="#000"/>
<polygon points="414.00,538.64 416.00,540.64 414.00,542.64 412.00,540.64" fill="#000"/>
<polygon points="416.00,540.19 418.00,542.19 416.00,544.19 414.00,542.19" fill="#000"/>
<polygon points="415.00,543.28 417.00,545.28 415.00,547.28 413.00,545.28" fill="#000"/>
<polygon points="422.20,496.18 424.04,499.46 420.36,499.46" fill="#000"/>
<polygon points="421.20,501.59 423.04,504.87 419.36,504.87" fill="#000"/>
<polygon points="423.20,504.69 425.04,507.97 421.36,507.97" fill="#000"/>
<polygon points="422.20,507.01 424.04,510.29 420.36,510.29" fill="#000"/>
<polygon points="427.20,502.34 429.04,499.06 425.36,499.06" fill="#000"/>
<polygon points="430.20,502.34 432.04,499.06 428.36,499.06" fill="#000"/>
<polygon points="428.70,505.43 430.54,502.15 426.86,502.15" fill="#000"/>
<polygon points="428.70,519.36 430.54,516.08 426.86,516.08" fill="#000"/>
<rect x="436.80" y="547.45" width="6.20" height="14.85" fill="#fff" stroke="#9a9a9a" stroke-width="0.7"/>
<rect x="443.20" y="554.72" width="6.20" height="7.58" fill="url(#hw)" stroke="#9a9a9a" stroke-width="0.7"/>
<rect x="450.40" y="522.08" width="6.20" height="40.22" fill="#7474f2" stroke="#9a9a9a" stroke-width="0.7"/>
<rect x="456.90" y="526.56" width="6.20" height="35.74" fill="url(#hb)" stroke="#9a9a9a" stroke-width="0.7"/>
<line x1="439.90" y1="552.24" x2="439.90" y2="542.96" stroke="#444" stroke-width="0.7"/>
<line x1="438.10" y1="542.96" x2="441.70" y2="542.96" stroke="#444" stroke-width="0.7"/>
<line x1="438.10" y1="552.24" x2="441.70" y2="552.24" stroke="#444" stroke-width="0.7"/>
<line x1="446.30" y1="559.21" x2="446.30" y2="549.15" stroke="#444" stroke-width="0.7"/>
<line x1="444.50" y1="549.15" x2="448.10" y2="549.15" stroke="#444" stroke-width="0.7"/>
<line x1="444.50" y1="559.21" x2="448.10" y2="559.21" stroke="#444" stroke-width="0.7"/>
<line x1="453.50" y1="530.59" x2="453.50" y2="514.34" stroke="#444" stroke-width="0.7"/>
<line x1="451.70" y1="514.34" x2="455.30" y2="514.34" stroke="#444" stroke-width="0.7"/>
<line x1="451.70" y1="530.59" x2="455.30" y2="530.59" stroke="#444" stroke-width="0.7"/>
<line x1="460.00" y1="529.81" x2="460.00" y2="522.85" stroke="#444" stroke-width="0.7"/>
<line x1="458.20" y1="522.85" x2="461.80" y2="522.85" stroke="#444" stroke-width="0.7"/>
<line x1="458.20" y1="529.81" x2="461.80" y2="529.81" stroke="#444" stroke-width="0.7"/>
<circle cx="438.40" cy="540.64" r="1.6" fill="#000"/>
<circle cx="441.40" cy="542.96" r="1.6" fill="#000"/>
<circle cx="439.90" cy="553.02" r="1.6" fill="#000"/>
<circle cx="439.90" cy="546.83" r="1.6" fill="#000"/>
<polygon points="447.30,541.74 449.30,543.74 447.30,545.74 445.30,543.74" fill="#000"/>
<polygon points="445.30,552.56 447.30,554.56 445.30,556.56 443.30,554.56" fill="#000"/>
<polygon points="447.30,555.66 449.30,557.66 447.30,559.66 445.30,557.66" fill="#000"/>
<polygon points="446.30,557.21 448.30,559.21 446.30,561.21 444.30,559.21" fill="#000"/>
<polygon points="453.50,510.88 455.34,514.16 451.66,514.16" fill="#000"/>
<polygon points="453.50,521.71 455.34,524.99 451.66,524.99" fill="#000"/>
<polygon points="453.50,529.44 455.34,532.72 451.66,532.72" fill="#000"/>
<polygon points="454.00,524.80 455.84,528.08 452.16,528.08" fill="#000"/>
<polygon points="458.50,524.00 460.34,520.72 456.66,520.72" fill="#000"/>
<polygon points="461.50,524.00 463.34,520.72 459.66,520.72" fill="#000"/>
<polygon points="460.00,527.09 461.84,523.81 458.16,523.81" fill="#000"/>
<polygon points="460.00,530.19 461.84,526.91 458.16,526.91" fill="#000"/>
<text x="480.80" y="559.60" font-size="9.5" text-anchor="middle">ND</text>
<rect x="498.90" y="548.07" width="6.20" height="14.23" fill="#fff" stroke="#9a9a9a" stroke-width="0.7"/>
<rect x="505.30" y="548.38" width="6.20" height="13.92" fill="url(#hw)" stroke="#9a9a9a" stroke-width="0.7"/>
<rect x="512.50" y="502.43" width="6.20" height="59.87" fill="#7474f2" stroke="#9a9a9a" stroke-width="0.7"/>
<rect x="519.00" y="500.42" width="6.20" height="61.88" fill="url(#hb)" stroke="#9a9a9a" stroke-width="0.7"/>
<line x1="502.00" y1="551.47" x2="502.00" y2="544.51" stroke="#444" stroke-width="0.7"/>
<line x1="500.20" y1="544.51" x2="503.80" y2="544.51" stroke="#444" stroke-width="0.7"/>
<line x1="500.20" y1="551.47" x2="503.80" y2="551.47" stroke="#444" stroke-width="0.7"/>
<line x1="508.40" y1="553.02" x2="508.40" y2="543.74" stroke="#444" stroke-width="0.7"/>
<line x1="506.60" y1="543.74" x2="510.20" y2="543.74" stroke="#444" stroke-width="0.7"/>
<line x1="506.60" y1="553.02" x2="510.20" y2="553.02" stroke="#444" stroke-width="0.7"/>
<line x1="515.60" y1="508.15" x2="515.60" y2="496.55" stroke="#444" stroke-width="0.7"/>
<line x1="513.80" y1="496.55" x2="517.40" y2="496.55" stroke="#444" stroke-width="0.7"/>
<line x1="513.80" y1="508.15" x2="517.40" y2="508.15" stroke="#444" stroke-width="0.7"/>
<line x1="522.10" y1="509.70" x2="522.10" y2="491.14" stroke="#444" stroke-width="0.7"/>
<line x1="520.30" y1="491.14" x2="523.90" y2="491.14" stroke="#444" stroke-width="0.7"/>
<line x1="520.30" y1="509.70" x2="523.90" y2="509.70" stroke="#444" stroke-width="0.7"/>
<circle cx="500.50" cy="542.19" r="1.6" fill="#000"/>
<circle cx="503.50" cy="544.51" r="1.6" fill="#000"/>
<circle cx="502.00" cy="546.83" r="1.6" fill="#000"/>
<circle cx="502.00" cy="551.47" r="1.6" fill="#000"/>
<polygon points="509.40,536.32 511.40,538.32 509.40,540.32 507.40,538.32" fill="#000"/>
<polygon points="507.40,544.83 509.40,546.83 507.40,548.83 505.40,546.83" fill="#000"/>
<polygon points="509.40,547.15 511.40,549.15 509.40,551.15 507.40,549.15" fill="#000"/>
<polygon points="508.40,549.47 510.40,551.47 508.40,553.47 506.40,551.47" fill="#000"/>
<polygon points="515.60,490.76 517.44,494.04 513.76,494.04" fill="#000"/>
<polygon points="515.60,500.05 517.44,503.33 513.76,503.33" fill="#000"/>
<polygon points="515.60,504.69 517.44,507.97 513.76,507.97" fill="#000"/>
<polygon points="516.10,501.59 517.94,504.87 514.26,504.87" fill="#000"/>
<polygon points="522.10,497.70 523.94,494.42 520.26,494.42" fill="#000"/>
<polygon points="522.10,502.34 523.94,499.06 520.26,499.06" fill="#000"/>
<polygon points="522.10,514.72 523.94,511.44 520.26,511.44" fill="#000"/>
<polygon points="522.10,500.02 523.94,496.74 520.26,496.74" fill="#000"/>
<text x="424.50" y="576.00" font-size="11" text-anchor="end" transform="rotate(-45 424.50 576.00)">mtHSP70</text>
<text x="455.80" y="576.00" font-size="11" text-anchor="end" transform="rotate(-45 455.80 576.00)">DNAJA3</text>
<text x="486.80" y="576.00" font-size="11" text-anchor="end" transform="rotate(-45 486.80 576.00)">HSP60</text>
<text x="517.90" y="576.00" font-size="11" text-anchor="end" transform="rotate(-45 517.90 576.00)">CLPP</text>
<polyline points="407.70,481.00 407.70,474.80 416.50,474.80 416.50,481.00" fill="none" stroke="#8c8c8c" stroke-width="1"/>
<polyline points="413.80,475.00 413.80,468.70 422.60,468.70 422.60,475.00" fill="none" stroke="#8c8c8c" stroke-width="1"/>
<polyline points="424.60,475.00 424.60,468.70 433.80,468.70 433.80,475.00" fill="none" stroke="#8c8c8c" stroke-width="1"/>
<polygon points="416.20,461.00 416.96,462.55 418.67,462.80 417.44,464.00 417.73,465.70 416.20,464.90 414.67,465.70 414.96,464.00 413.73,462.80 415.44,462.55" fill="#1e1e1e"/>
<polygon points="421.60,461.00 422.36,462.55 424.07,462.80 422.84,464.00 423.13,465.70 421.60,464.90 420.07,465.70 420.36,464.00 419.13,462.80 420.84,462.55" fill="#1e1e1e"/>
<text x="424.60" y="465.60" font-size="10.2">NS</text>
<polyline points="437.50,508.50 437.50,502.40 447.70,502.40 447.70,508.50" fill="none" stroke="#8c8c8c" stroke-width="1"/>
<polyline points="443.00,501.50 443.00,495.50 451.80,495.50 451.80,501.50" fill="none" stroke="#8c8c8c" stroke-width="1"/>
<polyline points="454.30,501.50 454.30,495.50 464.50,495.50 464.50,501.50" fill="none" stroke="#8c8c8c" stroke-width="1"/>
<polygon points="447.70,487.10 448.46,488.65 450.17,488.90 448.94,490.10 449.23,491.80 447.70,491.00 446.17,491.80 446.46,490.10 445.23,488.90 446.94,488.65" fill="#1e1e1e"/>
<text x="453.20" y="491.90" font-size="10.2">NS</text>
<polyline points="499.20,481.00 499.20,474.80 508.40,474.80 508.40,481.00" fill="none" stroke="#8c8c8c" stroke-width="1"/>
<polyline points="504.30,475.00 504.30,468.70 513.90,468.70 513.90,475.00" fill="none" stroke="#8c8c8c" stroke-width="1"/>
<polyline points="516.00,475.00 516.00,468.70 525.40,468.70 525.40,475.00" fill="none" stroke="#8c8c8c" stroke-width="1"/>
<polygon points="509.90,461.00 510.66,462.55 512.37,462.80 511.14,464.00 511.43,465.70 509.90,464.90 508.37,465.70 508.66,464.00 507.43,462.80 509.14,462.55" fill="#1e1e1e"/>
<text x="514.60" y="465.60" font-size="10.2">NS</text>
<line x1="557.90" y1="470.40" x2="557.90" y2="562.40" stroke="#8c8c8c" stroke-width="1"/>
<line x1="553.40" y1="562.40" x2="557.90" y2="562.40" stroke="#8c8c8c" stroke-width="1"/>
<text x="547.60" y="566.00" font-size="9.5" text-anchor="end">0</text>
<line x1="553.40" y1="539.40" x2="557.90" y2="539.40" stroke="#8c8c8c" stroke-width="1"/>
<text x="547.60" y="543.00" font-size="9.5" text-anchor="end">5</text>
<line x1="553.40" y1="516.40" x2="557.90" y2="516.40" stroke="#8c8c8c" stroke-width="1"/>
<text x="547.60" y="520.00" font-size="9.5" text-anchor="end">10</text>
<line x1="553.40" y1="493.40" x2="557.90" y2="493.40" stroke="#8c8c8c" stroke-width="1"/>
<text x="547.60" y="497.00" font-size="9.5" text-anchor="end">15</text>
<line x1="553.40" y1="470.40" x2="557.90" y2="470.40" stroke="#8c8c8c" stroke-width="1"/>
<text x="547.60" y="474.00" font-size="9.5" text-anchor="end">20</text>
<line x1="557.90" y1="562.40" x2="681.10" y2="562.40" stroke="#8c8c8c" stroke-width="1"/>
<line x1="574.60" y1="562.40" x2="574.60" y2="565.90" stroke="#8c8c8c" stroke-width="1"/>
<line x1="605.60" y1="562.40" x2="605.60" y2="565.90" stroke="#8c8c8c" stroke-width="1"/>
<line x1="636.30" y1="562.40" x2="636.30" y2="565.90" stroke="#8c8c8c" stroke-width="1"/>
<line x1="667.30" y1="562.40" x2="667.30" y2="565.90" stroke="#8c8c8c" stroke-width="1"/>
<rect x="561.60" y="557.80" width="6.20" height="4.60" fill="#fff" stroke="#9a9a9a" stroke-width="0.7"/>
<rect x="568.00" y="559.18" width="6.20" height="3.22" fill="url(#hw)" stroke="#9a9a9a" stroke-width="0.7"/>
<rect x="575.20" y="508.30" width="6.20" height="54.10" fill="#7474f2" stroke="#9a9a9a" stroke-width="0.7"/>
<rect x="581.70" y="514.10" width="6.20" height="48.30" fill="url(#hb)" stroke="#9a9a9a" stroke-width="0.7"/>
<line x1="564.70" y1="558.72" x2="564.70" y2="556.88" stroke="#444" stroke-width="0.7"/>
<line x1="562.90" y1="556.88" x2="566.50" y2="556.88" stroke="#444" stroke-width="0.7"/>
<line x1="562.90" y1="558.72" x2="566.50" y2="558.72" stroke="#444" stroke-width="0.7"/>
<line x1="571.10" y1="559.64" x2="571.10" y2="558.72" stroke="#444" stroke-width="0.7"/>
<line x1="569.30" y1="558.72" x2="572.90" y2="558.72" stroke="#444" stroke-width="0.7"/>
<line x1="569.30" y1="559.64" x2="572.90" y2="559.64" stroke="#444" stroke-width="0.7"/>
<line x1="578.30" y1="517.78" x2="578.30" y2="498.46" stroke="#444" stroke-width="0.7"/>
<line x1="576.50" y1="498.46" x2="580.10" y2="498.46" stroke="#444" stroke-width="0.7"/>
<line x1="576.50" y1="517.78" x2="580.10" y2="517.78" stroke="#444" stroke-width="0.7"/>
<line x1="584.80" y1="517.78" x2="584.80" y2="509.50" stroke="#444" stroke-width="0.7"/>
<line x1="583.00" y1="509.50" x2="586.60" y2="509.50" stroke="#444" stroke-width="0.7"/>
<line x1="583.00" y1="517.78" x2="586.60" y2="517.78" stroke="#444" stroke-width="0.7"/>
<circle cx="563.20" cy="556.42" r="1.6" fill="#000"/>
<circle cx="566.20" cy="556.88" r="1.6" fill="#000"/>
<circle cx="564.70" cy="558.49" r="1.6" fill="#000"/>
<circle cx="562.70" cy="559.64" r="1.6" fill="#000"/>
<polygon points="572.10,556.49 574.10,558.49 572.10,560.49 570.10,558.49" fill="#000"/>
<polygon points="570.10,557.64 572.10,559.64 570.10,561.64 568.10,559.64" fill="#000"/>
<polygon points="572.10,558.10 574.10,560.10 572.10,562.10 570.10,560.10" fill="#000"/>
<polygon points="571.10,558.56 573.10,560.56 571.10,562.56 569.10,560.56" fill="#000"/>
<polygon points="578.30,488.26 580.14,491.54 576.46,491.54" fill="#000"/>
<polygon points="577.30,511.72 579.14,515.00 575.46,515.00" fill="#000"/>
<polygon points="579.30,512.64 581.14,515.92 577.46,515.92" fill="#000"/>
<polygon points="578.30,513.56 580.14,516.84 576.46,516.84" fill="#000"/>
<polygon points="584.80,504.98 586.64,501.70 582.96,501.70" fill="#000"/>
<polygon points="583.80,516.94 585.64,513.66 581.96,513.66" fill="#000"/>
<polygon points="585.80,517.40 587.64,514.12 583.96,514.12" fill="#000"/>
<polygon points="584.80,518.32 586.64,515.04 582.96,515.04" fill="#000"/>
<rect x="592.60" y="558.72" width="6.20" height="3.68" fill="#fff" stroke="#9a9a9a" stroke-width="0.7"/>
<rect x="599.00" y="559.64" width="6.20" height="2.76" fill="url(#hw)" stroke="#9a9a9a" stroke-width="0.7"/>
<rect x="606.20" y="541.10" width="6.20" height="21.30" fill="#7474f2" stroke="#9a9a9a" stroke-width="0.7"/>
<rect x="612.70" y="543.68" width="6.20" height="18.72" fill="url(#hb)" stroke="#9a9a9a" stroke-width="0.7"/>
<line x1="595.70" y1="559.18" x2="595.70" y2="558.03" stroke="#444" stroke-width="0.7"/>
<line x1="593.90" y1="558.03" x2="597.50" y2="558.03" stroke="#444" stroke-width="0.7"/>
<line x1="593.90" y1="559.18" x2="597.50" y2="559.18" stroke="#444" stroke-width="0.7"/>
<line x1="602.10" y1="560.10" x2="602.10" y2="559.18" stroke="#444" stroke-width="0.7"/>
<line x1="600.30" y1="559.18" x2="603.90" y2="559.18" stroke="#444" stroke-width="0.7"/>
<line x1="600.30" y1="560.10" x2="603.90" y2="560.10" stroke="#444" stroke-width="0.7"/>
<line x1="609.30" y1="543.08" x2="609.30" y2="539.40" stroke="#444" stroke-width="0.7"/>
<line x1="607.50" y1="539.40" x2="611.10" y2="539.40" stroke="#444" stroke-width="0.7"/>
<line x1="607.50" y1="543.08" x2="611.10" y2="543.08" stroke="#444" stroke-width="0.7"/>
<line x1="615.80" y1="546.30" x2="615.80" y2="540.32" stroke="#444" stroke-width="0.7"/>
<line x1="614.00" y1="540.32" x2="617.60" y2="540.32" stroke="#444" stroke-width="0.7"/>
<line x1="614.00" y1="546.30" x2="617.60" y2="546.30" stroke="#444" stroke-width="0.7"/>
<circle cx="594.20" cy="557.34" r="1.6" fill="#000"/>
<circle cx="597.20" cy="557.80" r="1.6" fill="#000"/>
<circle cx="595.70" cy="559.18" r="1.6" fill="#000"/>
<circle cx="593.70" cy="560.10" r="1.6" fill="#000"/>
<polygon points="603.10,556.72 605.10,558.72 603.10,560.72 601.10,558.72" fill="#000"/>
<polygon points="601.10,557.64 603.10,559.64 601.10,561.64 599.10,559.64" fill="#000"/>
<polygon points="603.10,558.56 605.10,560.56 603.10,562.56 601.10,560.56" fill="#000"/>
<polygon points="602.10,559.02 604.10,561.02 602.10,563.02 600.10,561.02" fill="#000"/>
<polygon points="609.30,534.72 611.14,538.00 607.46,538.00" fill="#000"/>
<polygon points="608.30,539.78 610.14,543.06 606.46,543.06" fill="#000"/>
<polygon points="610.30,540.24 612.14,543.52 608.46,543.52" fill="#000"/>
<polygon points="609.30,540.70 611.14,543.98 607.46,543.98" fill="#000"/>
<polygon points="615.80,540.86 617.64,537.58 613.96,537.58" fill="#000"/>
<polygon points="614.80,545.92 616.64,542.64 612.96,542.64" fill="#000"/>
<polygon points="616.80,546.84 618.64,543.56 614.96,543.56" fill="#000"/>
<polygon points="615.80,547.30 617.64,544.02 613.96,544.02" fill="#000"/>
<text x="636.30" y="559.60" font-size="9.5" text-anchor="middle">ND</text>
<rect x="654.30" y="557.80" width="6.20" height="4.60" fill="#fff" stroke="#9a9a9a" stroke-width="0.7"/>
<rect x="660.70" y="560.10" width="6.20" height="2.30" fill="url(#hw)" stroke="#9a9a9a" stroke-width="0.7"/>
<rect x="667.90" y="512.49" width="6.20" height="49.91" fill="#7474f2" stroke="#9a9a9a" stroke-width="0.7"/>
<rect x="674.40" y="524.40" width="6.20" height="38.00" fill="url(#hb)" stroke="#9a9a9a" stroke-width="0.7"/>
<line x1="657.40" y1="559.64" x2="657.40" y2="555.96" stroke="#444" stroke-width="0.7"/>
<line x1="655.60" y1="555.96" x2="659.20" y2="555.96" stroke="#444" stroke-width="0.7"/>
<line x1="655.60" y1="559.64" x2="659.20" y2="559.64" stroke="#444" stroke-width="0.7"/>
<line x1="663.80" y1="560.56" x2="663.80" y2="559.64" stroke="#444" stroke-width="0.7"/>
<line x1="662.00" y1="559.64" x2="665.60" y2="559.64" stroke="#444" stroke-width="0.7"/>
<line x1="662.00" y1="560.56" x2="665.60" y2="560.56" stroke="#444" stroke-width="0.7"/>
<line x1="671.00" y1="523.30" x2="671.00" y2="501.68" stroke="#444" stroke-width="0.7"/>
<line x1="669.20" y1="501.68" x2="672.80" y2="501.68" stroke="#444" stroke-width="0.7"/>
<line x1="669.20" y1="523.30" x2="672.80" y2="523.30" stroke="#444" stroke-width="0.7"/>
<line x1="677.50" y1="531.12" x2="677.50" y2="514.56" stroke="#444" stroke-width="0.7"/>
<line x1="675.70" y1="514.56" x2="679.30" y2="514.56" stroke="#444" stroke-width="0.7"/>
<line x1="675.70" y1="531.12" x2="679.30" y2="531.12" stroke="#444" stroke-width="0.7"/>
<circle cx="655.90" cy="553.20" r="1.6" fill="#000"/>
<circle cx="658.90" cy="557.80" r="1.6" fill="#000"/>
<circle cx="657.40" cy="560.10" r="1.6" fill="#000"/>
<circle cx="655.40" cy="560.56" r="1.6" fill="#000"/>
<polygon points="664.80,554.88 666.80,556.88 664.80,558.88 662.80,556.88" fill="#000"/>
<polygon points="662.80,558.10 664.80,560.10 662.80,562.10 660.80,560.10" fill="#000"/>
<polygon points="664.80,558.56 666.80,560.56 664.80,562.56 662.80,560.56" fill="#000"/>
<polygon points="663.80,559.02 665.80,561.02 663.80,563.02 661.80,561.02" fill="#000"/>
<polygon points="670.00,496.54 671.84,499.82 668.16,499.82" fill="#000"/>
<polygon points="672.00,496.54 673.84,499.82 670.16,499.82" fill="#000"/>
<polygon points="671.00,534.26 672.84,537.54 669.16,537.54" fill="#000"/>
<polygon points="671.00,514.48 672.84,517.76 669.16,517.76" fill="#000"/>
<polygon points="677.50,507.28 679.34,504.00 675.66,504.00" fill="#000"/>
<polygon points="677.50,526.14 679.34,522.86 675.66,522.86" fill="#000"/>
<polygon points="677.50,541.32 679.34,538.04 675.66,538.04" fill="#000"/>
<polygon points="677.50,522.92 679.34,519.64 675.66,519.64" fill="#000"/>
<text x="580.60" y="576.10" font-size="11" text-anchor="end" transform="rotate(-45 580.60 576.10)">mtHSP70</text>
<text x="611.60" y="576.10" font-size="11" text-anchor="end" transform="rotate(-45 611.60 576.10)">DNAJA3</text>
<text x="642.30" y="576.10" font-size="11" text-anchor="end" transform="rotate(-45 642.30 576.10)">HSP60</text>
<text x="673.30" y="576.10" font-size="11" text-anchor="end" transform="rotate(-45 673.30 576.10)">CLPP</text>
<polyline points="565.40,481.60 565.40,475.30 574.60,475.30 574.60,481.60" fill="none" stroke="#8c8c8c" stroke-width="1"/>
<polyline points="569.70,476.50 569.70,470.40 579.60,470.40 579.60,476.50" fill="none" stroke="#8c8c8c" stroke-width="1"/>
<polyline points="581.50,476.50 581.50,470.40 590.40,470.40 590.40,476.50" fill="none" stroke="#8c8c8c" stroke-width="1"/>
<polygon points="571.60,460.70 572.36,462.25 574.07,462.50 572.84,463.70 573.13,465.40 571.60,464.60 570.07,465.40 570.36,463.70 569.13,462.50 570.84,462.25" fill="#1e1e1e"/>
<polygon points="577.20,460.70 577.96,462.25 579.67,462.50 578.44,463.70 578.73,465.40 577.20,464.60 575.67,465.40 575.96,463.70 574.73,462.50 576.44,462.25" fill="#1e1e1e"/>
<text x="580.50" y="465.40" font-size="10.2">NS</text>
<polyline points="594.30,508.50 594.30,502.30 603.60,502.30 603.60,508.50" fill="none" stroke="#8c8c8c" stroke-width="1"/>
<polyline points="599.30,501.50 599.30,495.40 608.50,495.40 608.50,501.50" fill="none" stroke="#8c8c8c" stroke-width="1"/>
<polyline points="610.10,501.50 610.10,495.40 619.40,495.40 619.40,501.50" fill="none" stroke="#8c8c8c" stroke-width="1"/>
<polygon points="600.80,486.90 601.56,488.45 603.27,488.70 602.04,489.90 602.33,491.60 600.80,490.80 599.27,491.60 599.56,489.90 598.33,488.70 600.04,488.45" fill="#1e1e1e"/>
<polygon points="606.40,486.90 607.16,488.45 608.87,488.70 607.64,489.90 607.93,491.60 606.40,490.80 604.87,491.60 605.16,489.90 603.93,488.70 605.64,488.45" fill="#1e1e1e"/>
<text x="609.10" y="491.60" font-size="10.2">NS</text>
<polyline points="655.40,481.60 655.40,475.30 664.90,475.30 664.90,481.60" fill="none" stroke="#8c8c8c" stroke-width="1"/>
<polyline points="661.40,476.50 661.40,470.40 670.60,470.40 670.60,476.50" fill="none" stroke="#8c8c8c" stroke-width="1"/>
<polyline points="672.20,476.50 672.20,470.40 682.40,470.40 682.40,476.50" fill="none" stroke="#8c8c8c" stroke-width="1"/>
<polygon points="666.30,460.70 667.06,462.25 668.77,462.50 667.54,463.70 667.83,465.40 666.30,464.60 664.77,465.40 665.06,463.70 663.83,462.50 665.54,462.25" fill="#1e1e1e"/>
<text x="670.60" y="465.40" font-size="10.2">NS</text>
<text x="-0.30" y="640.40" font-size="17" font-weight="bold" stroke="#1e1e1e" stroke-width="0.5">e</text>
<line x1="53.00" y1="646.50" x2="131.40" y2="646.50" stroke="#333" stroke-width="1"/>
<text x="92.40" y="642.60" font-size="11" text-anchor="middle">4 weeks</text>
<text x="72.20" y="660.00" font-size="10.5" text-anchor="middle">Ctrl</text>
<text x="92.3" y="660.0" font-size="10.5">β-<tspan font-style="italic">Lonp1</tspan> KO</text>
<line x1="53.90" y1="663.80" x2="90.60" y2="663.80" stroke="#999" stroke-width="1"/>
<line x1="92.00" y1="663.80" x2="128.70" y2="663.80" stroke="#999" stroke-width="1"/>
<text x="62.50" y="676.60" font-size="10" text-anchor="middle">S</text>
<text x="83.60" y="676.60" font-size="10" text-anchor="middle">P</text>
<text x="101.20" y="676.60" font-size="10" text-anchor="middle">S</text>
<text x="120.30" y="676.60" font-size="10" text-anchor="middle">P</text>
<text x="139.30" y="676.60" font-size="9">kDa</text>
<clipPath id="c32"><rect x="53.80" y="681.30" width="75.10" height="13.20"/></clipPath>
<g clip-path="url(#c32)">
<rect x="53.80" y="681.30" width="75.10" height="13.20" fill="#efefef" stroke="none" stroke-width="1" />
<rect x="54.90" y="685.00" width="16.60" height="5.40" rx="2.03" ry="2.03" fill="#000" fill-opacity="1" filter="url(#b8)"/>
<rect x="92.60" y="684.60" width="15.80" height="5.20" rx="1.95" ry="1.95" fill="#000" fill-opacity="1" filter="url(#b8)"/>
<rect x="111.90" y="685.60" width="13.60" height="1.60" rx="0.60" ry="0.60" fill="#000" fill-opacity="0.4" filter="url(#b8)"/>
</g>
<rect x="53.80" y="681.30" width="75.10" height="13.20" fill="none" stroke="#1a1a1a" stroke-width="1.2" />
<text x="48.80" y="692.30" font-size="10.5" text-anchor="end">ACO2</text>
<line x1="128.90" y1="688.00" x2="134.40" y2="688.00" stroke="#222" stroke-width="1.1"/>
<text x="139.30" y="691.20" font-size="9">75</text>
<clipPath id="c33"><rect x="53.80" y="699.20" width="75.10" height="11.30"/></clipPath>
<g clip-path="url(#c33)">
<rect x="53.80" y="699.20" width="75.10" height="11.30" fill="#efefef" stroke="none" stroke-width="1" />
<rect x="54.70" y="700.50" width="17.80" height="7.80" rx="2.92" ry="2.92" fill="#000" fill-opacity="1" filter="url(#b8)"/>
<rect x="75.50" y="702.80" width="14.00" height="1.60" rx="0.60" ry="0.60" fill="#000" fill-opacity="0.3" filter="url(#b8)"/>
<rect x="92.60" y="700.80" width="16.40" height="7.60" rx="2.85" ry="2.85" fill="#000" fill-opacity="1" filter="url(#b8)"/>
<rect x="113.30" y="703.70" width="13.60" height="2.60" rx="0.98" ry="0.98" fill="#000" fill-opacity="0.8" filter="url(#b8)"/>
</g>
<rect x="53.80" y="699.20" width="75.10" height="11.30" fill="none" stroke="#1a1a1a" stroke-width="1.2" />
<text x="48.80" y="709.25" font-size="10.5" text-anchor="end">SDHA</text>
<line x1="128.90" y1="700.60" x2="134.40" y2="700.60" stroke="#222" stroke-width="1.1"/>
<text x="139.30" y="703.80" font-size="9">75</text>
<clipPath id="c34"><rect x="53.80" y="715.30" width="75.10" height="10.90"/></clipPath>
<g clip-path="url(#c34)">
<rect x="53.80" y="715.30" width="75.10" height="10.90" fill="#efefef" stroke="none" stroke-width="1" />
<rect x="55" y="723.5" width="18" height="3" fill="#fff" fill-opacity="0.9" rx="4" filter="url(#b8)"/>
<rect x="92" y="723.5" width="17" height="3" fill="#fff" fill-opacity="0.9" rx="4" filter="url(#b8)"/>
<rect x="55.00" y="717.00" width="18.00" height="8.40" rx="3.15" ry="3.15" fill="#000" fill-opacity="1" filter="url(#b8)"/>
<rect x="92.20" y="717.00" width="17.00" height="8.40" rx="3.15" ry="3.15" fill="#000" fill-opacity="1" filter="url(#b8)"/>
<rect x="111.50" y="719.50" width="14.00" height="4.00" rx="1.50" ry="1.50" fill="#000" fill-opacity="0.12" filter="url(#b8)"/>
</g>
<rect x="53.80" y="715.30" width="75.10" height="10.90" fill="none" stroke="#1a1a1a" stroke-width="1.2" />
<text x="48.80" y="725.15" font-size="10.5" text-anchor="end">SDHB</text>
<line x1="128.90" y1="721.40" x2="134.40" y2="721.40" stroke="#222" stroke-width="1.1"/>
<text x="139.30" y="724.60" font-size="9">25</text>
<clipPath id="c35"><rect x="53.80" y="731.50" width="75.10" height="11.10"/></clipPath>
<g clip-path="url(#c35)">
<rect x="53.80" y="731.50" width="75.10" height="11.10" fill="#efefef" stroke="none" stroke-width="1" />
<rect x="55.00" y="733.50" width="15.60" height="4.60" rx="1.72" ry="1.72" fill="#000" fill-opacity="1" filter="url(#b8)"/>
<rect x="92.20" y="733.70" width="15.20" height="5.00" rx="1.88" ry="1.88" fill="#000" fill-opacity="1" filter="url(#b8)"/>
<rect x="111.60" y="734.70" width="14.00" height="2.20" rx="0.83" ry="0.83" fill="#000" fill-opacity="0.35" filter="url(#b8)"/>
</g>
<rect x="53.80" y="731.50" width="75.10" height="11.10" fill="none" stroke="#1a1a1a" stroke-width="1.2" />
<text x="48.80" y="741.45" font-size="10.5" text-anchor="end">UQCRC2</text>
<line x1="128.90" y1="735.20" x2="134.40" y2="735.20" stroke="#222" stroke-width="1.1"/>
<text x="139.30" y="738.40" font-size="9">37</text>
<clipPath id="c36"><rect x="53.80" y="747.60" width="75.10" height="13.10"/></clipPath>
<g clip-path="url(#c36)">
<rect x="53.80" y="747.60" width="75.10" height="13.10" fill="#efefef" stroke="none" stroke-width="1" />
<rect x="55.00" y="752.50" width="16.00" height="5.80" rx="2.17" ry="2.17" fill="#000" fill-opacity="1" filter="url(#b8)"/>
<rect x="92.20" y="753.40" width="15.60" height="5.80" rx="2.17" ry="2.17" fill="#000" fill-opacity="1" filter="url(#b8)"/>
<rect x="112.10" y="754.00" width="13.60" height="2.00" rx="0.75" ry="0.75" fill="#000" fill-opacity="0.35" filter="url(#b8)"/>
</g>
<rect x="53.80" y="747.60" width="75.10" height="13.10" fill="none" stroke="#1a1a1a" stroke-width="1.2" />
<text x="48.80" y="758.55" font-size="10.5" text-anchor="end">ATP5A</text>
<line x1="128.90" y1="754.40" x2="134.40" y2="754.40" stroke="#222" stroke-width="1.1"/>
<text x="139.30" y="757.60" font-size="9">50</text>
<clipPath id="c37"><rect x="53.80" y="770.30" width="75.10" height="11.20"/></clipPath>
<g clip-path="url(#c37)">
<rect x="53.80" y="770.30" width="75.10" height="11.20" fill="#d6d6d6" stroke="none" stroke-width="1" />
<rect x="57.90" y="773.70" width="15.20" height="3.60" rx="1.35" ry="1.35" fill="#000" fill-opacity="1" filter="url(#b8)"/>
<rect x="95.60" y="772.50" width="14.20" height="3.60" rx="1.35" ry="1.35" fill="#000" fill-opacity="1" filter="url(#b8)"/>
<rect x="58.50" y="777.40" width="14.00" height="2.40" rx="0.90" ry="0.90" fill="#000" fill-opacity="0.2" filter="url(#b8)"/>
<rect x="95.70" y="776.50" width="14.00" height="2.60" rx="0.98" ry="0.98" fill="#000" fill-opacity="0.25" filter="url(#b8)"/>
</g>
<rect x="53.80" y="770.30" width="75.10" height="11.20" fill="none" stroke="#1a1a1a" stroke-width="1.2" />
<text x="48.80" y="780.30" font-size="10.5" text-anchor="end">VDAC1</text>
<line x1="128.90" y1="772.00" x2="134.40" y2="772.00" stroke="#222" stroke-width="1.1"/>
<text x="139.30" y="775.20" font-size="9">37</text>
<clipPath id="c38"><rect x="53.80" y="786.00" width="75.10" height="12.40"/></clipPath>
<g clip-path="url(#c38)">
<rect x="53.80" y="786.00" width="75.10" height="12.40" fill="#e2e2e2" stroke="none" stroke-width="1" />
<rect x="56.70" y="792.60" width="14.20" height="4.00" rx="1.50" ry="1.50" fill="#000" fill-opacity="1" filter="url(#b8)"/>
<rect x="76.00" y="792.60" width="12.00" height="1.80" rx="0.68" ry="0.68" fill="#000" fill-opacity="0.35" filter="url(#b8)"/>
<rect x="93.30" y="790.20" width="13.60" height="4.00" rx="1.50" ry="1.50" fill="#000" fill-opacity="1" filter="url(#b8)"/>
<rect x="112.00" y="790.30" width="12.00" height="1.40" rx="0.52" ry="0.52" fill="#000" fill-opacity="0.2" filter="url(#b8)"/>
</g>
<rect x="53.80" y="786.00" width="75.10" height="12.40" fill="none" stroke="#1a1a1a" stroke-width="1.2" />
<text x="48.80" y="796.60" font-size="10.5" text-anchor="end">Vinculin</text>
<line x1="128.90" y1="788.50" x2="134.40" y2="788.50" stroke="#222" stroke-width="1.1"/>
<text x="139.30" y="791.70" font-size="9">150</text>
<rect x="219.10" y="655.00" width="9.70" height="9.30" fill="#fff" stroke="#9aa0c8" stroke-width="0.9" />
<text x="234.40" y="664.00" font-size="10.5">Ctrl</text>
<rect x="268.50" y="655.00" width="9.70" height="9.30" fill="#7474f2" stroke="#6a6ad8" stroke-width="0.5" />
<text x="283.5" y="664" font-size="10.5">β-<tspan font-style="italic">Lonp1</tspan> KO</text>
<text x="173.40" y="722.00" font-size="10.5" text-anchor="middle" transform="rotate(-90 173.40 722.00)" textLength="90.6" lengthAdjust="spacingAndGlyphs">Fold densitometry</text>
<text x="184.60" y="722.00" font-size="10.5" text-anchor="middle" transform="rotate(-90 184.60 722.00)" textLength="93" lengthAdjust="spacingAndGlyphs">(insoluble fraction)</text>
<line x1="214.70" y1="676.50" x2="214.70" y2="768.60" stroke="#8c8c8c" stroke-width="1"/>
<line x1="210.20" y1="768.60" x2="214.70" y2="768.60" stroke="#8c8c8c" stroke-width="1"/>
<text x="205.20" y="772.20" font-size="9.5" text-anchor="end">0</text>
<line x1="210.20" y1="750.20" x2="214.70" y2="750.20" stroke="#8c8c8c" stroke-width="1"/>
<text x="205.20" y="753.80" font-size="9.5" text-anchor="end">5</text>
<line x1="210.20" y1="731.80" x2="214.70" y2="731.80" stroke="#8c8c8c" stroke-width="1"/>
<text x="205.20" y="735.40" font-size="9.5" text-anchor="end">10</text>
<line x1="210.20" y1="713.40" x2="214.70" y2="713.40" stroke="#8c8c8c" stroke-width="1"/>
<text x="205.20" y="717.00" font-size="9.5" text-anchor="end">15</text>
<line x1="210.20" y1="695.00" x2="214.70" y2="695.00" stroke="#8c8c8c" stroke-width="1"/>
<text x="205.20" y="698.60" font-size="9.5" text-anchor="end">20</text>
<line x1="210.20" y1="676.60" x2="214.70" y2="676.60" stroke="#8c8c8c" stroke-width="1"/>
<text x="205.20" y="680.20" font-size="9.5" text-anchor="end">25</text>
<line x1="214.70" y1="768.60" x2="338.70" y2="768.60" stroke="#8c8c8c" stroke-width="1"/>
<line x1="227.80" y1="768.60" x2="227.80" y2="772.10" stroke="#8c8c8c" stroke-width="1"/>
<line x1="253.30" y1="768.60" x2="253.30" y2="772.10" stroke="#8c8c8c" stroke-width="1"/>
<line x1="278.80" y1="768.60" x2="278.80" y2="772.10" stroke="#8c8c8c" stroke-width="1"/>
<line x1="304.00" y1="768.60" x2="304.00" y2="772.10" stroke="#8c8c8c" stroke-width="1"/>
<line x1="329.50" y1="768.60" x2="329.50" y2="772.10" stroke="#8c8c8c" stroke-width="1"/>
<rect x="220.60" y="764.92" width="6.90" height="3.68" fill="#fff" stroke="#9a9a9a" stroke-width="0.7"/>
<rect x="228.80" y="715.98" width="6.90" height="52.62" fill="#7474f2" stroke="#9a9a9a" stroke-width="0.7"/>
<line x1="232.25" y1="731.43" x2="232.25" y2="699.42" stroke="#444" stroke-width="0.7"/>
<line x1="230.45" y1="699.42" x2="234.05" y2="699.42" stroke="#444" stroke-width="0.7"/>
<line x1="230.45" y1="731.43" x2="234.05" y2="731.43" stroke="#444" stroke-width="0.7"/>
<circle cx="222.10" cy="764.18" r="1.4" fill="#000"/>
<circle cx="224.10" cy="763.63" r="1.4" fill="#000"/>
<circle cx="226.10" cy="765.29" r="1.4" fill="#000"/>
<polygon points="232.25,687.43 233.86,690.30 230.64,690.30" fill="#000"/>
<polygon points="232.25,712.46 233.86,715.33 230.64,715.33" fill="#000"/>
<polygon points="232.25,742.26 233.86,745.13 230.64,745.13" fill="#000"/>
<polyline points="222.50,682.50 222.50,676.50 234.90,676.50 234.90,682.50" fill="none" stroke="#8c8c8c" stroke-width="1"/>
<polygon points="228.70,668.60 229.46,670.15 231.17,670.40 229.94,671.60 230.23,673.30 228.70,672.50 227.17,673.30 227.46,671.60 226.23,670.40 227.94,670.15" fill="#1e1e1e"/>
<rect x="246.10" y="764.92" width="6.90" height="3.68" fill="#fff" stroke="#9a9a9a" stroke-width="0.7"/>
<rect x="254.30" y="760.14" width="6.90" height="8.46" fill="#7474f2" stroke="#9a9a9a" stroke-width="0.7"/>
<line x1="257.75" y1="761.24" x2="257.75" y2="758.30" stroke="#444" stroke-width="0.7"/>
<line x1="255.95" y1="758.30" x2="259.55" y2="758.30" stroke="#444" stroke-width="0.7"/>
<line x1="255.95" y1="761.24" x2="259.55" y2="761.24" stroke="#444" stroke-width="0.7"/>
<circle cx="247.60" cy="765.29" r="1.4" fill="#000"/>
<circle cx="249.60" cy="764.92" r="1.4" fill="#000"/>
<circle cx="251.60" cy="765.29" r="1.4" fill="#000"/>
<polygon points="257.75,754.78 259.36,757.65 256.14,757.65" fill="#000"/>
<polygon points="256.25,759.19 257.86,762.06 254.64,762.06" fill="#000"/>
<polygon points="259.25,759.19 260.86,762.06 257.64,762.06" fill="#000"/>
<polyline points="248.00,682.50 248.00,676.50 260.40,676.50 260.40,682.50" fill="none" stroke="#8c8c8c" stroke-width="1"/>
<polygon points="254.20,668.60 254.96,670.15 256.67,670.40 255.44,671.60 255.73,673.30 254.20,672.50 252.67,673.30 252.96,671.60 251.73,670.40 253.44,670.15" fill="#1e1e1e"/>
<rect x="271.60" y="764.92" width="6.90" height="3.68" fill="#fff" stroke="#9a9a9a" stroke-width="0.7"/>
<rect x="279.80" y="750.20" width="6.90" height="18.40" fill="#7474f2" stroke="#9a9a9a" stroke-width="0.7"/>
<line x1="283.25" y1="753.51" x2="283.25" y2="746.89" stroke="#444" stroke-width="0.7"/>
<line x1="281.45" y1="746.89" x2="285.05" y2="746.89" stroke="#444" stroke-width="0.7"/>
<line x1="281.45" y1="753.51" x2="285.05" y2="753.51" stroke="#444" stroke-width="0.7"/>
<circle cx="273.10" cy="765.66" r="1.4" fill="#000"/>
<circle cx="275.10" cy="763.82" r="1.4" fill="#000"/>
<circle cx="277.10" cy="765.29" r="1.4" fill="#000"/>
<polygon points="281.75,744.47 283.36,747.34 280.14,747.34" fill="#000"/>
<polygon points="284.75,745.21 286.36,748.08 283.14,748.08" fill="#000"/>
<polygon points="283.25,754.41 284.86,757.28 281.64,757.28" fill="#000"/>
<polyline points="273.50,682.50 273.50,676.50 285.90,676.50 285.90,682.50" fill="none" stroke="#8c8c8c" stroke-width="1"/>
<polygon points="279.70,668.60 280.46,670.15 282.17,670.40 280.94,671.60 281.23,673.30 279.70,672.50 278.17,673.30 278.46,671.60 277.23,670.40 278.94,670.15" fill="#1e1e1e"/>
<rect x="296.80" y="764.92" width="6.90" height="3.68" fill="#fff" stroke="#9a9a9a" stroke-width="0.7"/>
<rect x="305.00" y="729.96" width="6.90" height="38.64" fill="#7474f2" stroke="#9a9a9a" stroke-width="0.7"/>
<line x1="308.45" y1="741.37" x2="308.45" y2="718.18" stroke="#444" stroke-width="0.7"/>
<line x1="306.65" y1="718.18" x2="310.25" y2="718.18" stroke="#444" stroke-width="0.7"/>
<line x1="306.65" y1="741.37" x2="310.25" y2="741.37" stroke="#444" stroke-width="0.7"/>
<circle cx="298.30" cy="767.13" r="1.4" fill="#000"/>
<circle cx="300.30" cy="764.18" r="1.4" fill="#000"/>
<circle cx="302.30" cy="764.18" r="1.4" fill="#000"/>
<polygon points="308.45,705.83 310.06,708.70 306.84,708.70" fill="#000"/>
<polygon points="308.45,734.54 310.06,737.41 306.84,737.41" fill="#000"/>
<polygon points="308.45,744.84 310.06,747.71 306.84,747.71" fill="#000"/>
<polyline points="298.70,682.50 298.70,676.50 311.10,676.50 311.10,682.50" fill="none" stroke="#8c8c8c" stroke-width="1"/>
<polygon points="304.90,668.60 305.66,670.15 307.37,670.40 306.14,671.60 306.43,673.30 304.90,672.50 303.37,673.30 303.66,671.60 302.43,670.40 304.14,670.15" fill="#1e1e1e"/>
<rect x="322.30" y="764.92" width="6.90" height="3.68" fill="#fff" stroke="#9a9a9a" stroke-width="0.7"/>
<rect x="330.50" y="724.07" width="6.90" height="44.53" fill="#7474f2" stroke="#9a9a9a" stroke-width="0.7"/>
<line x1="333.95" y1="738.06" x2="333.95" y2="709.35" stroke="#444" stroke-width="0.7"/>
<line x1="332.15" y1="709.35" x2="335.75" y2="709.35" stroke="#444" stroke-width="0.7"/>
<line x1="332.15" y1="738.06" x2="335.75" y2="738.06" stroke="#444" stroke-width="0.7"/>
<circle cx="323.80" cy="766.02" r="1.4" fill="#000"/>
<circle cx="325.80" cy="764.92" r="1.4" fill="#000"/>
<circle cx="327.80" cy="764.92" r="1.4" fill="#000"/>
<polygon points="333.95,697.00 335.56,699.87 332.34,699.87" fill="#000"/>
<polygon points="333.95,724.97 335.56,727.84 332.34,727.84" fill="#000"/>
<polygon points="333.95,745.21 335.56,748.08 332.34,748.08" fill="#000"/>
<polyline points="324.20,682.50 324.20,676.50 336.60,676.50 336.60,682.50" fill="none" stroke="#8c8c8c" stroke-width="1"/>
<polygon points="330.40,668.60 331.16,670.15 332.87,670.40 331.64,671.60 331.93,673.30 330.40,672.50 328.87,673.30 329.16,671.60 327.93,670.40 329.64,670.15" fill="#1e1e1e"/>
<text x="233.80" y="782.30" font-size="11" text-anchor="end" transform="rotate(-45 233.80 782.30)">ACO2</text>
<text x="259.30" y="782.30" font-size="11" text-anchor="end" transform="rotate(-45 259.30 782.30)">SDHA</text>
<text x="284.80" y="782.30" font-size="11" text-anchor="end" transform="rotate(-45 284.80 782.30)">SDHB</text>
<text x="310.00" y="782.30" font-size="11" text-anchor="end" transform="rotate(-45 310.00 782.30)">UQCRC2</text>
<text x="335.50" y="782.30" font-size="11" text-anchor="end" transform="rotate(-45 335.50 782.30)">ATP5A</text>
<text x="354.00" y="640.20" font-size="17" font-weight="bold" stroke="#1e1e1e" stroke-width="0.5">f</text>
<line x1="423.60" y1="644.70" x2="500.80" y2="644.70" stroke="#333" stroke-width="1"/>
<text x="462.20" y="640.70" font-size="11" text-anchor="middle">4 weeks</text>
<text x="441.50" y="660.30" font-size="10.5" text-anchor="middle">Ctrl</text>
<text x="455.4" y="660.3" font-size="10.5">β-<tspan font-style="italic">Lonp1</tspan> KO</text>
<line x1="423.60" y1="663.00" x2="459.50" y2="663.00" stroke="#999" stroke-width="1"/>
<line x1="460.90" y1="663.00" x2="497.60" y2="663.00" stroke="#999" stroke-width="1"/>
<text x="432.00" y="676.60" font-size="10" text-anchor="middle">S</text>
<text x="453.00" y="676.60" font-size="10" text-anchor="middle">P</text>
<text x="469.50" y="676.60" font-size="10" text-anchor="middle">S</text>
<text x="489.80" y="676.60" font-size="10" text-anchor="middle">P</text>
<text x="512.10" y="676.60" font-size="9">kDa</text>
<clipPath id="c39"><rect x="425.30" y="681.30" width="75.40" height="16.40"/></clipPath>
<g clip-path="url(#c39)">
<rect x="425.30" y="681.30" width="75.40" height="16.40" fill="#f7f7f7" stroke="none" stroke-width="1" />
<rect x="425" y="681" width="76" height="2.2" fill="#000" fill-opacity="0.6"/>
<rect x="426.70" y="684.50" width="15.40" height="7.00" rx="2.62" ry="2.62" fill="#000" fill-opacity="1" filter="url(#b8)"/>
<rect x="462.20" y="685.30" width="14.60" height="6.40" rx="2.40" ry="2.40" fill="#000" fill-opacity="1" filter="url(#b8)"/>
<rect x="480.00" y="686.90" width="14.00" height="3.00" rx="1.12" ry="1.12" fill="#000" fill-opacity="0.85" filter="url(#b8)"/>
</g>
<rect x="425.30" y="681.30" width="75.40" height="16.40" fill="none" stroke="#1a1a1a" stroke-width="1.2" />
<text x="420.20" y="693.90" font-size="10.5" text-anchor="end">mtHSP70</text>
<line x1="500.70" y1="687.20" x2="506.20" y2="687.20" stroke="#222" stroke-width="1.1"/>
<text x="512.10" y="690.40" font-size="9">75</text>
<clipPath id="c40"><rect x="425.30" y="700.80" width="75.40" height="18.20"/></clipPath>
<g clip-path="url(#c40)">
<rect x="425.30" y="700.80" width="75.40" height="18.20" fill="#dcdcdc" stroke="none" stroke-width="1" />
<rect x="427.40" y="705.60" width="13.20" height="4.60" rx="1.72" ry="1.72" fill="#000" fill-opacity="0.22" filter="url(#b12)"/>
<rect x="445.40" y="706.20" width="13.20" height="4.60" rx="1.72" ry="1.72" fill="#000" fill-opacity="0.28" filter="url(#b12)"/>
<rect x="463.40" y="706.80" width="11.20" height="4.40" rx="1.65" ry="1.65" fill="#000" fill-opacity="0.1" filter="url(#b12)"/>
<rect x="480.30" y="709.20" width="14.00" height="4.80" rx="1.80" ry="1.80" fill="#000" fill-opacity="0.8" filter="url(#b12)"/>
<rect x="481.30" y="706.50" width="12.00" height="2.00" rx="0.75" ry="0.75" fill="#000" fill-opacity="0.25" filter="url(#b8)"/>
</g>
<rect x="425.30" y="700.80" width="75.40" height="18.20" fill="none" stroke="#1a1a1a" stroke-width="1.2" />
<text x="420.20" y="714.30" font-size="10.5" text-anchor="end">DNAJA3</text>
<line x1="500.70" y1="705.10" x2="506.20" y2="705.10" stroke="#222" stroke-width="1.1"/>
<text x="512.10" y="708.30" font-size="9">50</text>
<clipPath id="c41"><rect x="425.30" y="721.90" width="75.40" height="15.40"/></clipPath>
<g clip-path="url(#c41)">
<rect x="425.30" y="721.90" width="75.40" height="15.40" fill="#f2f2f2" stroke="none" stroke-width="1" />
<rect x="427.40" y="727.20" width="15.20" height="6.00" rx="2.25" ry="2.25" fill="#000" fill-opacity="1" filter="url(#b8)"/>
<rect x="462.90" y="728.50" width="14.80" height="6.00" rx="2.25" ry="2.25" fill="#000" fill-opacity="1" filter="url(#b8)"/>
</g>
<rect x="425.30" y="721.90" width="75.40" height="15.40" fill="none" stroke="#1a1a1a" stroke-width="1.2" />
<text x="420.20" y="734.00" font-size="10.5" text-anchor="end">HSP60</text>
<line x1="500.70" y1="734.70" x2="506.20" y2="734.70" stroke="#222" stroke-width="1.1"/>
<text x="512.10" y="737.90" font-size="9">50</text>
<clipPath id="c42"><rect x="425.30" y="739.80" width="75.40" height="15.80"/></clipPath>
<g clip-path="url(#c42)">
<rect x="425.30" y="739.80" width="75.40" height="15.80" fill="#d9d9d9" stroke="none" stroke-width="1" />
<rect x="427.70" y="743.90" width="14.60" height="3.20" rx="1.20" ry="1.20" fill="#000" fill-opacity="0.95" filter="url(#b8)"/>
<rect x="433.00" y="747.00" width="10.00" height="2.00" rx="0.75" ry="0.75" fill="#000" fill-opacity="0.4" filter="url(#b8)"/>
<rect x="464.00" y="745.00" width="13.60" height="3.40" rx="1.28" ry="1.28" fill="#000" fill-opacity="0.85" filter="url(#b8)"/>
<rect x="481.50" y="745.40" width="14.00" height="1.80" rx="0.68" ry="0.68" fill="#000" fill-opacity="0.2" filter="url(#b8)"/>
</g>
<rect x="425.30" y="739.80" width="75.40" height="15.80" fill="none" stroke="#1a1a1a" stroke-width="1.2" />
<text x="420.20" y="752.10" font-size="10.5" text-anchor="end">CLPP</text>
<line x1="500.70" y1="746.00" x2="506.20" y2="746.00" stroke="#222" stroke-width="1.1"/>
<text x="512.10" y="749.20" font-size="9">25</text>
<clipPath id="c43"><rect x="425.30" y="764.60" width="75.40" height="15.90"/></clipPath>
<g clip-path="url(#c43)">
<rect x="425.30" y="764.60" width="75.40" height="15.90" fill="#f9f9f9" stroke="none" stroke-width="1" />
<rect x="427.80" y="769.60" width="14.40" height="3.20" rx="1.20" ry="1.20" fill="#000" fill-opacity="0.95" filter="url(#b8)"/>
<rect x="428.50" y="773.50" width="13.00" height="2.00" rx="0.75" ry="0.75" fill="#000" fill-opacity="0.2" filter="url(#b8)"/>
<rect x="463.40" y="771.90" width="14.20" height="3.40" rx="1.28" ry="1.28" fill="#000" fill-opacity="0.95" filter="url(#b8)"/>
<rect x="464.00" y="776.00" width="13.00" height="2.00" rx="0.75" ry="0.75" fill="#000" fill-opacity="0.2" filter="url(#b8)"/>
</g>
<rect x="425.30" y="764.60" width="75.40" height="15.90" fill="none" stroke="#1a1a1a" stroke-width="1.2" />
<text x="420.20" y="776.95" font-size="10.5" text-anchor="end">VDAC1</text>
<line x1="500.70" y1="770.10" x2="506.20" y2="770.10" stroke="#222" stroke-width="1.1"/>
<text x="512.10" y="773.30" font-size="9">37</text>
<clipPath id="c44"><rect x="425.30" y="783.00" width="75.40" height="15.40"/></clipPath>
<g clip-path="url(#c44)">
<rect x="425.30" y="783.00" width="75.40" height="15.40" fill="#dedede" stroke="none" stroke-width="1" />
<rect x="427.80" y="790.60" width="14.40" height="4.60" rx="1.72" ry="1.72" fill="#000" fill-opacity="1" filter="url(#b8)"/>
<rect x="446.60" y="791.40" width="12.00" height="2.00" rx="0.75" ry="0.75" fill="#000" fill-opacity="0.25" filter="url(#b8)"/>
<rect x="463.40" y="789.80" width="14.20" height="4.80" rx="1.80" ry="1.80" fill="#000" fill-opacity="1" filter="url(#b8)"/>
<rect x="482.00" y="789.60" width="12.40" height="1.80" rx="0.68" ry="0.68" fill="#000" fill-opacity="0.2" filter="url(#b8)"/>
</g>
<rect x="425.30" y="783.00" width="75.40" height="15.40" fill="none" stroke="#1a1a1a" stroke-width="1.2" />
<text x="420.20" y="795.10" font-size="10.5" text-anchor="end">Vinculin</text>
<line x1="500.70" y1="786.70" x2="506.20" y2="786.70" stroke="#222" stroke-width="1.1"/>
<text x="512.10" y="789.90" font-size="9">150</text>
<text x="549.00" y="723.00" font-size="10.5" text-anchor="middle" transform="rotate(-90 549.00 723.00)" textLength="90.6" lengthAdjust="spacingAndGlyphs">Fold densitometry</text>
<text x="560.20" y="723.00" font-size="10.5" text-anchor="middle" transform="rotate(-90 560.20 723.00)" textLength="93" lengthAdjust="spacingAndGlyphs">(insoluble fraction)</text>
<line x1="589.10" y1="677.00" x2="589.10" y2="769.10" stroke="#8c8c8c" stroke-width="1"/>
<line x1="584.60" y1="769.10" x2="589.10" y2="769.10" stroke="#8c8c8c" stroke-width="1"/>
<text x="579.60" y="772.70" font-size="9.5" text-anchor="end">0</text>
<line x1="584.60" y1="746.05" x2="589.10" y2="746.05" stroke="#8c8c8c" stroke-width="1"/>
<text x="579.60" y="749.65" font-size="9.5" text-anchor="end">5</text>
<line x1="584.60" y1="723.00" x2="589.10" y2="723.00" stroke="#8c8c8c" stroke-width="1"/>
<text x="579.60" y="726.60" font-size="9.5" text-anchor="end">10</text>
<line x1="584.60" y1="699.95" x2="589.10" y2="699.95" stroke="#8c8c8c" stroke-width="1"/>
<text x="579.60" y="703.55" font-size="9.5" text-anchor="end">15</text>
<line x1="584.60" y1="676.90" x2="589.10" y2="676.90" stroke="#8c8c8c" stroke-width="1"/>
<text x="579.60" y="680.50" font-size="9.5" text-anchor="end">20</text>
<line x1="589.10" y1="769.10" x2="680.50" y2="769.10" stroke="#8c8c8c" stroke-width="1"/>
<line x1="600.90" y1="769.10" x2="600.90" y2="772.60" stroke="#8c8c8c" stroke-width="1"/>
<line x1="625.30" y1="769.10" x2="625.30" y2="772.60" stroke="#8c8c8c" stroke-width="1"/>
<line x1="649.00" y1="769.10" x2="649.00" y2="772.60" stroke="#8c8c8c" stroke-width="1"/>
<line x1="673.20" y1="769.10" x2="673.20" y2="772.60" stroke="#8c8c8c" stroke-width="1"/>
<rect x="594.00" y="764.49" width="6.80" height="4.61" fill="#fff" stroke="#9a9a9a" stroke-width="0.7"/>
<rect x="601.40" y="734.29" width="6.90" height="34.81" fill="#7474f2" stroke="#9a9a9a" stroke-width="0.7"/>
<line x1="597.40" y1="766.80" x2="597.40" y2="759.42" stroke="#444" stroke-width="0.7"/>
<line x1="595.60" y1="759.42" x2="599.20" y2="759.42" stroke="#444" stroke-width="0.7"/>
<line x1="595.60" y1="766.80" x2="599.20" y2="766.80" stroke="#444" stroke-width="0.7"/>
<line x1="604.85" y1="745.13" x2="604.85" y2="723.46" stroke="#444" stroke-width="0.7"/>
<line x1="603.05" y1="723.46" x2="606.65" y2="723.46" stroke="#444" stroke-width="0.7"/>
<line x1="603.05" y1="745.13" x2="606.65" y2="745.13" stroke="#444" stroke-width="0.7"/>
<circle cx="595.90" cy="757.58" r="1.4" fill="#000"/>
<circle cx="598.90" cy="767.72" r="1.4" fill="#000"/>
<circle cx="597.40" cy="768.64" r="1.4" fill="#000"/>
<polygon points="604.85,715.33 606.46,718.20 603.24,718.20" fill="#000"/>
<polygon points="604.85,730.54 606.46,733.41 603.24,733.41" fill="#000"/>
<polygon points="604.85,751.75 606.46,754.62 603.24,754.62" fill="#000"/>
<rect x="618.40" y="764.49" width="6.80" height="4.61" fill="#fff" stroke="#9a9a9a" stroke-width="0.7"/>
<rect x="625.80" y="757.11" width="6.90" height="11.99" fill="#7474f2" stroke="#9a9a9a" stroke-width="0.7"/>
<line x1="621.80" y1="765.41" x2="621.80" y2="763.57" stroke="#444" stroke-width="0.7"/>
<line x1="620.00" y1="763.57" x2="623.60" y2="763.57" stroke="#444" stroke-width="0.7"/>
<line x1="620.00" y1="765.41" x2="623.60" y2="765.41" stroke="#444" stroke-width="0.7"/>
<line x1="629.25" y1="758.50" x2="629.25" y2="755.73" stroke="#444" stroke-width="0.7"/>
<line x1="627.45" y1="755.73" x2="631.05" y2="755.73" stroke="#444" stroke-width="0.7"/>
<line x1="627.45" y1="758.50" x2="631.05" y2="758.50" stroke="#444" stroke-width="0.7"/>
<circle cx="619.80" cy="762.19" r="1.4" fill="#000"/>
<circle cx="621.80" cy="765.41" r="1.4" fill="#000"/>
<circle cx="623.80" cy="764.95" r="1.4" fill="#000"/>
<polygon points="627.75,756.36 629.36,759.23 626.14,759.23" fill="#000"/>
<polygon points="630.75,756.36 632.36,759.23 629.14,759.23" fill="#000"/>
<polygon points="629.25,752.67 630.86,755.54 627.64,755.54" fill="#000"/>
<text x="649.00" y="764.70" font-size="9.5" text-anchor="middle">ND</text>
<rect x="666.30" y="764.49" width="6.80" height="4.61" fill="#fff" stroke="#9a9a9a" stroke-width="0.7"/>
<rect x="673.70" y="723.92" width="6.90" height="45.18" fill="#7474f2" stroke="#9a9a9a" stroke-width="0.7"/>
<line x1="669.70" y1="765.18" x2="669.70" y2="763.80" stroke="#444" stroke-width="0.7"/>
<line x1="667.90" y1="763.80" x2="671.50" y2="763.80" stroke="#444" stroke-width="0.7"/>
<line x1="667.90" y1="765.18" x2="671.50" y2="765.18" stroke="#444" stroke-width="0.7"/>
<line x1="677.15" y1="728.07" x2="677.15" y2="719.31" stroke="#444" stroke-width="0.7"/>
<line x1="675.35" y1="719.31" x2="678.95" y2="719.31" stroke="#444" stroke-width="0.7"/>
<line x1="675.35" y1="728.07" x2="678.95" y2="728.07" stroke="#444" stroke-width="0.7"/>
<circle cx="667.70" cy="764.03" r="1.4" fill="#000"/>
<circle cx="669.70" cy="763.57" r="1.4" fill="#000"/>
<circle cx="671.70" cy="764.95" r="1.4" fill="#000"/>
<polygon points="677.15,713.48 678.76,716.35 675.54,716.35" fill="#000"/>
<polygon points="677.15,723.16 678.76,726.03 675.54,726.03" fill="#000"/>
<polygon points="677.15,719.94 678.76,722.81 675.54,722.81" fill="#000"/>
<polyline points="596.20,682.50 596.20,677.00 607.50,677.00 607.50,682.50" fill="none" stroke="#8c8c8c" stroke-width="1"/>
<polygon points="601.80,668.90 602.56,670.45 604.27,670.70 603.04,671.90 603.33,673.60 601.80,672.80 600.27,673.60 600.56,671.90 599.33,670.70 601.04,670.45" fill="#1e1e1e"/>
<polyline points="621.40,682.50 621.40,677.00 633.20,677.00 633.20,682.50" fill="none" stroke="#8c8c8c" stroke-width="1"/>
<polygon points="627.30,668.90 628.06,670.45 629.77,670.70 628.54,671.90 628.83,673.60 627.30,672.80 625.77,673.60 626.06,671.90 624.83,670.70 626.54,670.45" fill="#1e1e1e"/>
<polyline points="667.40,682.50 667.40,677.00 679.70,677.00 679.70,682.50" fill="none" stroke="#8c8c8c" stroke-width="1"/>
<polygon points="670.80,668.90 671.56,670.45 673.27,670.70 672.04,671.90 672.33,673.60 670.80,672.80 669.27,673.60 669.56,671.90 668.33,670.70 670.04,670.45" fill="#1e1e1e"/>
<polygon points="676.40,668.90 677.16,670.45 678.87,670.70 677.64,671.90 677.93,673.60 676.40,672.80 674.87,673.60 675.16,671.90 673.93,670.70 675.64,670.45" fill="#1e1e1e"/>
<text x="606.90" y="782.80" font-size="11" text-anchor="end" transform="rotate(-45 606.90 782.80)">mtHSP70</text>
<text x="631.30" y="782.80" font-size="11" text-anchor="end" transform="rotate(-45 631.30 782.80)">DNAJA3</text>
<text x="655.00" y="782.80" font-size="11" text-anchor="end" transform="rotate(-45 655.00 782.80)">HSP60</text>
<text x="679.20" y="782.80" font-size="11" text-anchor="end" transform="rotate(-45 679.20 782.80)">CLPP</text>
<text x="-0.30" y="845.00" font-size="17" font-weight="bold" stroke="#1e1e1e" stroke-width="0.5">g</text>
<text x="120.70" y="879.90" font-size="11" text-anchor="middle">4 weeks</text>
<text x="47.6" y="931.5" font-size="10.7" text-anchor="middle" transform="rotate(-90 47.6 931.5)" textLength="95" lengthAdjust="spacingAndGlyphs">Relative ROS levels</text>
<text x="58.8" y="930" font-size="10.5" text-anchor="middle" transform="rotate(-90 58.8 930)">(% Ctrl)</text>
<line x1="93.50" y1="885.50" x2="93.50" y2="977.60" stroke="#8c8c8c" stroke-width="1"/>
<line x1="88.50" y1="977.60" x2="93.50" y2="977.60" stroke="#8c8c8c" stroke-width="1"/>
<text x="83.50" y="981.20" font-size="9.5" text-anchor="end">0</text>
<line x1="88.50" y1="946.94" x2="93.50" y2="946.94" stroke="#8c8c8c" stroke-width="1"/>
<text x="83.50" y="950.54" font-size="9.5" text-anchor="end">50</text>
<line x1="88.50" y1="916.27" x2="93.50" y2="916.27" stroke="#8c8c8c" stroke-width="1"/>
<text x="83.50" y="919.87" font-size="9.5" text-anchor="end">100</text>
<line x1="88.50" y1="885.61" x2="93.50" y2="885.61" stroke="#8c8c8c" stroke-width="1"/>
<text x="83.50" y="889.21" font-size="9.5" text-anchor="end">150</text>
<line x1="88.50" y1="977.60" x2="124.50" y2="977.60" stroke="#8c8c8c" stroke-width="1"/>
<rect x="98.60" y="916.88" width="9.50" height="60.72" fill="#fff" stroke="#9a9a9a" stroke-width="0.7"/>
<rect x="114.40" y="924.24" width="9.00" height="53.36" fill="#7474f2" stroke="#9a9a9a" stroke-width="0.7"/>
<line x1="103.40" y1="933.00" x2="103.40" y2="899.40" stroke="#444" stroke-width="0.8"/>
<line x1="100.80" y1="899.40" x2="106.00" y2="899.40" stroke="#444" stroke-width="0.8"/>
<line x1="100.80" y1="933.00" x2="106.00" y2="933.00" stroke="#444" stroke-width="0.8"/>
<line x1="118.90" y1="935.60" x2="118.90" y2="912.30" stroke="#444" stroke-width="0.8"/>
<line x1="116.30" y1="912.30" x2="121.50" y2="912.30" stroke="#444" stroke-width="0.8"/>
<line x1="116.30" y1="935.60" x2="121.50" y2="935.60" stroke="#444" stroke-width="0.8"/>
<circle cx="103.70" cy="893.30" r="1.6" fill="#000"/>
<circle cx="103.70" cy="907.00" r="1.6" fill="#000"/>
<circle cx="103.70" cy="949.30" r="1.6" fill="#000"/>
<polygon points="119.00,903.50 120.72,906.57 117.28,906.57" fill="#000"/>
<polygon points="119.00,922.40 120.72,925.48 117.28,925.48" fill="#000"/>
<polygon points="119.00,942.60 120.72,945.67 117.28,945.67" fill="#000"/>
<text x="219.60" y="844.40" font-size="17" font-weight="bold" stroke="#1e1e1e" stroke-width="0.5">h</text>
<line x1="335.60" y1="848.30" x2="413.90" y2="848.30" stroke="#555" stroke-width="1"/>
<text x="376.20" y="844.00" font-size="11" text-anchor="middle">4 weeks</text>
<text x="352.50" y="861.40" font-size="10.5" text-anchor="middle">Ctrl</text>
<text x="368.8" y="861.4" font-size="10.5">β-<tspan font-style="italic">Lonp1</tspan> KO</text>
<line x1="336.70" y1="866.20" x2="373.50" y2="866.20" stroke="#999" stroke-width="1"/>
<line x1="376.90" y1="866.20" x2="413.90" y2="866.20" stroke="#999" stroke-width="1"/>
<text x="426.30" y="867.20" font-size="9">kDa</text>
<clipPath id="c45"><rect x="335.90" y="871.40" width="80.10" height="20.60"/></clipPath>
<g clip-path="url(#c45)">
<rect x="335.90" y="871.40" width="80.10" height="20.60" fill="#efefef" stroke="none" stroke-width="1" />
<rect x="338.30" y="880.60" width="15.00" height="4.00" rx="1.50" ry="1.50" fill="#000" fill-opacity="1" filter="url(#b10)"/>
<rect x="358.00" y="880.70" width="15.40" height="4.20" rx="1.58" ry="1.58" fill="#000" fill-opacity="1" filter="url(#b10)"/>
<rect x="377.50" y="881.40" width="14.60" height="3.20" rx="1.20" ry="1.20" fill="#000" fill-opacity="0.7" filter="url(#b10)"/>
<rect x="397.50" y="880.50" width="15.00" height="3.60" rx="1.35" ry="1.35" fill="#000" fill-opacity="0.9" filter="url(#b10)"/>
</g>
<rect x="335.90" y="871.40" width="80.10" height="20.60" fill="none" stroke="#1a1a1a" stroke-width="1.2" />
<line x1="416.00" y1="876.00" x2="420.50" y2="876.00" stroke="#222" stroke-width="1.1"/>
<text x="425.80" y="879.30" font-size="9.5">1,048</text>
<clipPath id="c46"><rect x="335.90" y="894.40" width="80.10" height="27.90"/></clipPath>
<g clip-path="url(#c46)">
<rect x="335.90" y="894.40" width="80.10" height="27.90" fill="#efefef" stroke="none" stroke-width="1" />
<rect x="338.40" y="902.50" width="14.80" height="4.00" rx="1.50" ry="1.50" fill="#000" fill-opacity="0.85" filter="url(#b10)"/>
<rect x="358.30" y="903.10" width="14.80" height="3.80" rx="1.42" ry="1.42" fill="#000" fill-opacity="0.7" filter="url(#b10)"/>
<rect x="377.80" y="903.40" width="14.00" height="3.20" rx="1.20" ry="1.20" fill="#000" fill-opacity="0.3" filter="url(#b10)"/>
<rect x="397.60" y="902.70" width="14.80" height="3.60" rx="1.35" ry="1.35" fill="#000" fill-opacity="0.55" filter="url(#b10)"/>
<rect x="338.00" y="911.10" width="15.60" height="6.40" rx="2.40" ry="2.40" fill="#000" fill-opacity="1" filter="url(#b8)"/>
<rect x="358.10" y="911.50" width="15.20" height="6.00" rx="2.25" ry="2.25" fill="#000" fill-opacity="1" filter="url(#b8)"/>
<rect x="377.60" y="912.70" width="14.40" height="4.60" rx="1.72" ry="1.72" fill="#000" fill-opacity="0.8" filter="url(#b8)"/>
<rect x="397.40" y="911.50" width="15.20" height="5.60" rx="2.10" ry="2.10" fill="#000" fill-opacity="1" filter="url(#b8)"/>
</g>
<rect x="335.90" y="894.40" width="80.10" height="27.90" fill="none" stroke="#1a1a1a" stroke-width="1.2" />
<line x1="416.00" y1="903.50" x2="420.50" y2="903.50" stroke="#222" stroke-width="1.1"/>
<text x="425.80" y="906.80" font-size="9.5">720</text>
<line x1="416.00" y1="914.70" x2="420.50" y2="914.70" stroke="#222" stroke-width="1.1"/>
<text x="425.80" y="918.00" font-size="9.5">480</text>
<clipPath id="c47"><rect x="335.90" y="925.30" width="80.10" height="20.30"/></clipPath>
<g clip-path="url(#c47)">
<rect x="335.90" y="925.30" width="80.10" height="20.30" fill="#efefef" stroke="none" stroke-width="1" />
<rect x="338.30" y="931.60" width="15.00" height="3.80" rx="1.42" ry="1.42" fill="#000" fill-opacity="1" filter="url(#b10)"/>
<rect x="358.60" y="932.90" width="14.20" height="3.20" rx="1.20" ry="1.20" fill="#000" fill-opacity="0.8" filter="url(#b10)"/>
<rect x="377.70" y="933.30" width="14.20" height="3.00" rx="1.12" ry="1.12" fill="#000" fill-opacity="0.55" filter="url(#b10)"/>
<rect x="397.70" y="932.90" width="14.60" height="3.20" rx="1.20" ry="1.20" fill="#000" fill-opacity="0.7" filter="url(#b10)"/>
</g>
<rect x="335.90" y="925.30" width="80.10" height="20.30" fill="none" stroke="#1a1a1a" stroke-width="1.2" />
<line x1="416.00" y1="933.70" x2="420.50" y2="933.70" stroke="#222" stroke-width="1.1"/>
<text x="425.80" y="937.00" font-size="9.5">200</text>
<clipPath id="c48"><rect x="335.90" y="948.50" width="80.10" height="24.30"/></clipPath>
<g clip-path="url(#c48)">
<rect x="335.90" y="948.50" width="80.10" height="24.30" fill="#efefef" stroke="none" stroke-width="1" />
<path d="M336.8,960.5 Q338.8,951 345.8,950.8 Q352.8,951 354.8,960.5 L353.4,960.5 Q350.8,955.2 345.8,955.3 Q340.8,955.2 338.2,960.5 Z" fill="#000" fill-opacity="0.92" filter="url(#b10)"/>
<ellipse cx="345.8" cy="965" rx="7" ry="4" fill="#000" fill-opacity="0.04" filter="url(#b15)"/>
<path d="M356.7,960.5 Q358.7,951 365.7,950.8 Q372.7,951 374.7,960.5 L373.3,960.5 Q370.7,955.2 365.7,955.3 Q360.7,955.2 358.1,960.5 Z" fill="#000" fill-opacity="0.92" filter="url(#b10)"/>
<ellipse cx="365.7" cy="965" rx="7" ry="4" fill="#000" fill-opacity="0.04" filter="url(#b15)"/>
<path d="M375.8,960.5 Q377.8,951 384.8,950.8 Q391.8,951 393.8,960.5 L392.4,960.5 Q389.8,955.2 384.8,955.3 Q379.8,955.2 377.2,960.5 Z" fill="#000" fill-opacity="0.92" filter="url(#b10)"/>
<ellipse cx="384.8" cy="965" rx="7" ry="4" fill="#000" fill-opacity="0.04" filter="url(#b15)"/>
<path d="M396.0,960.5 Q398.0,951 405.0,950.8 Q412.0,951 414.0,960.5 L412.6,960.5 Q410.0,955.2 405.0,955.3 Q400.0,955.2 397.4,960.5 Z" fill="#000" fill-opacity="0.92" filter="url(#b10)"/>
<ellipse cx="405.0" cy="965" rx="7" ry="4" fill="#000" fill-opacity="0.04" filter="url(#b15)"/>
</g>
<rect x="335.90" y="948.50" width="80.10" height="24.30" fill="none" stroke="#1a1a1a" stroke-width="1.2" />
<line x1="416.00" y1="955.50" x2="420.50" y2="955.50" stroke="#222" stroke-width="1.1"/>
<text x="425.80" y="958.80" font-size="9.5">130</text>
<clipPath id="c49"><rect x="335.90" y="975.40" width="80.10" height="14.80"/></clipPath>
<g clip-path="url(#c49)">
<rect x="335.90" y="975.40" width="80.10" height="14.80" fill="#d9d9d9" stroke="none" stroke-width="1" />
<path d="M336,983.4 L344,983.0 L350,983.8 L356,983.2 L362,984.2 L370,983.4 L376,984.0 L382,983.2 L388,983.9 L394,983.0 L400,983.9 L406,983.1 L412,983.6 L416,983.2" fill="none" stroke="#000" stroke-width="2.4" filter="url(#b7)"/>
<rect x="336" y="987" width="80" height="3" fill="#000" fill-opacity="0.08" filter="url(#b10)"/>
</g>
<rect x="335.90" y="975.40" width="80.10" height="14.80" fill="none" stroke="#1a1a1a" stroke-width="1.2" />
<line x1="416.00" y1="984.20" x2="420.50" y2="984.20" stroke="#222" stroke-width="1.1"/>
<text x="425.80" y="987.50" font-size="9.5">20</text>
<clipPath id="c50"><rect x="335.90" y="993.10" width="80.10" height="16.10"/></clipPath>
<g clip-path="url(#c50)">
<rect x="335.90" y="993.10" width="80.10" height="16.10" fill="#efefef" stroke="none" stroke-width="1" />
<rect x="338.20" y="997.50" width="15.20" height="3.80" rx="1.42" ry="1.42" fill="#000" fill-opacity="1" filter="url(#b8)"/>
<rect x="358.10" y="998.20" width="15.20" height="3.60" rx="1.35" ry="1.35" fill="#000" fill-opacity="1" filter="url(#b8)"/>
<rect x="377.20" y="998.20" width="15.20" height="3.60" rx="1.35" ry="1.35" fill="#000" fill-opacity="1" filter="url(#b8)"/>
<rect x="397.40" y="998.20" width="15.20" height="3.60" rx="1.35" ry="1.35" fill="#000" fill-opacity="1" filter="url(#b8)"/>
</g>
<rect x="335.90" y="993.10" width="80.10" height="16.10" fill="none" stroke="#1a1a1a" stroke-width="1.2" />
<line x1="416.00" y1="1006.40" x2="420.50" y2="1006.40" stroke="#222" stroke-width="1.1"/>
<text x="425.80" y="1009.70" font-size="9.5">100</text>
<text x="330.30" y="885.30" font-size="9.4" text-anchor="end">Complex I</text>
<text x="330.30" y="905.30" font-size="9.4" text-anchor="end">Complex V</text>
<text x="330.30" y="918.50" font-size="9.4" text-anchor="end">Complex III</text>
<text x="330.30" y="937.80" font-size="9.4" text-anchor="end">Complex IV</text>
<text x="330.30" y="961.80" font-size="9.4" text-anchor="end">Complex II</text>
<text x="330.30" y="988.40" font-size="9.4" text-anchor="end">TOM20</text>
<text x="330.30" y="1004.50" font-size="9.4" text-anchor="end">Vinculin</text>
<rect x="226.10" y="914.90" width="47.50" height="19.00" fill="#a9a9a9" stroke="none" stroke-width="1" />
<text x="249.9" y="928.2" font-size="10.3" text-anchor="middle" textLength="44.5" lengthAdjust="spacingAndGlyphs">BN-PAGE</text>
<rect x="219.90" y="983.30" width="53.70" height="21.20" fill="#a9a9a9" stroke="none" stroke-width="1" />
<text x="246.7" y="997.2" font-size="10.3" text-anchor="middle" textLength="52.4" lengthAdjust="spacingAndGlyphs">SDS–PAGE</text>
<line x1="276.80" y1="871.60" x2="276.80" y2="972.30" stroke="#999" stroke-width="1"/>
<line x1="276.40" y1="980.20" x2="276.40" y2="1009.80" stroke="#999" stroke-width="1"/>
<text x="494.1" y="934.9" font-size="10.5" text-anchor="middle" transform="rotate(-90 494.1 934.9)" textLength="90.2" lengthAdjust="spacingAndGlyphs">Fold densitometry</text>
<text x="505.3" y="934.9" font-size="10.5" text-anchor="middle" transform="rotate(-90 505.3 934.9)" textLength="129.4" lengthAdjust="spacingAndGlyphs">(normalized to complex II)</text>
<line x1="538.30" y1="886.60" x2="538.30" y2="977.00" stroke="#8c8c8c" stroke-width="1"/>
<line x1="534.00" y1="977.00" x2="538.30" y2="977.00" stroke="#8c8c8c" stroke-width="1"/>
<text x="528.40" y="980.60" font-size="9.5" text-anchor="end">0</text>
<line x1="534.00" y1="946.70" x2="538.30" y2="946.70" stroke="#8c8c8c" stroke-width="1"/>
<text x="528.40" y="950.30" font-size="9.5" text-anchor="end">0.5</text>
<line x1="534.00" y1="916.40" x2="538.30" y2="916.40" stroke="#8c8c8c" stroke-width="1"/>
<text x="528.40" y="920.00" font-size="9.5" text-anchor="end">1</text>
<line x1="534.00" y1="886.10" x2="538.30" y2="886.10" stroke="#8c8c8c" stroke-width="1"/>
<text x="528.40" y="889.70" font-size="9.5" text-anchor="end">1.5</text>
<line x1="538.30" y1="977.00" x2="634.90" y2="977.00" stroke="#8c8c8c" stroke-width="1"/>
<line x1="551.20" y1="977.00" x2="551.20" y2="980.50" stroke="#8c8c8c" stroke-width="1"/>
<line x1="576.20" y1="977.00" x2="576.20" y2="980.50" stroke="#8c8c8c" stroke-width="1"/>
<line x1="601.30" y1="977.00" x2="601.30" y2="980.50" stroke="#8c8c8c" stroke-width="1"/>
<line x1="627.00" y1="977.00" x2="627.00" y2="980.50" stroke="#8c8c8c" stroke-width="1"/>
<rect x="543.00" y="916.40" width="7.90" height="60.60" fill="#fff" stroke="#9a9a9a" stroke-width="0.7"/>
<rect x="551.60" y="943.06" width="7.50" height="33.94" fill="#7474f2" stroke="#9a9a9a" stroke-width="0.7"/>
<line x1="546.95" y1="921.25" x2="546.95" y2="911.55" stroke="#444" stroke-width="0.7"/>
<line x1="544.95" y1="911.55" x2="548.95" y2="911.55" stroke="#444" stroke-width="0.7"/>
<line x1="544.95" y1="921.25" x2="548.95" y2="921.25" stroke="#444" stroke-width="0.7"/>
<line x1="555.35" y1="947.91" x2="555.35" y2="938.22" stroke="#444" stroke-width="0.7"/>
<line x1="553.35" y1="938.22" x2="557.35" y2="938.22" stroke="#444" stroke-width="0.7"/>
<line x1="553.35" y1="947.91" x2="557.35" y2="947.91" stroke="#444" stroke-width="0.7"/>
<circle cx="545.45" cy="909.13" r="1.5" fill="#000"/>
<circle cx="548.45" cy="906.70" r="1.5" fill="#000"/>
<circle cx="546.95" cy="919.43" r="1.5" fill="#000"/>
<circle cx="546.95" cy="926.10" r="1.5" fill="#000"/>
<polygon points="555.35,926.84 556.96,929.71 553.74,929.71" fill="#000"/>
<polygon points="555.35,941.99 556.96,944.86 553.74,944.86" fill="#000"/>
<polygon points="553.85,945.02 555.46,947.89 552.24,947.89" fill="#000"/>
<polygon points="556.85,945.02 558.46,947.89 555.24,947.89" fill="#000"/>
<polyline points="543.40,891.00 543.40,885.20 557.70,885.20 557.70,891.00" fill="none" stroke="#8c8c8c" stroke-width="1"/>
<rect x="568.00" y="916.40" width="7.90" height="60.60" fill="#fff" stroke="#9a9a9a" stroke-width="0.7"/>
<rect x="576.60" y="938.22" width="7.50" height="38.78" fill="#7474f2" stroke="#9a9a9a" stroke-width="0.7"/>
<line x1="571.95" y1="922.46" x2="571.95" y2="910.34" stroke="#444" stroke-width="0.7"/>
<line x1="569.95" y1="910.34" x2="573.95" y2="910.34" stroke="#444" stroke-width="0.7"/>
<line x1="569.95" y1="922.46" x2="573.95" y2="922.46" stroke="#444" stroke-width="0.7"/>
<line x1="580.35" y1="943.67" x2="580.35" y2="932.16" stroke="#444" stroke-width="0.7"/>
<line x1="578.35" y1="932.16" x2="582.35" y2="932.16" stroke="#444" stroke-width="0.7"/>
<line x1="578.35" y1="943.67" x2="582.35" y2="943.67" stroke="#444" stroke-width="0.7"/>
<circle cx="570.45" cy="909.13" r="1.5" fill="#000"/>
<circle cx="573.45" cy="906.70" r="1.5" fill="#000"/>
<circle cx="571.95" cy="916.40" r="1.5" fill="#000"/>
<circle cx="571.95" cy="927.31" r="1.5" fill="#000"/>
<polygon points="580.35,925.02 581.96,927.89 578.74,927.89" fill="#000"/>
<polygon points="578.85,935.93 580.46,938.80 577.24,938.80" fill="#000"/>
<polygon points="581.85,941.99 583.46,944.86 580.24,944.86" fill="#000"/>
<polygon points="580.35,941.99 581.96,944.86 578.74,944.86" fill="#000"/>
<polyline points="568.40,891.00 568.40,885.20 582.70,885.20 582.70,891.00" fill="none" stroke="#8c8c8c" stroke-width="1"/>
<rect x="593.10" y="916.40" width="7.90" height="60.60" fill="#fff" stroke="#9a9a9a" stroke-width="0.7"/>
<rect x="601.70" y="933.37" width="7.50" height="43.63" fill="#7474f2" stroke="#9a9a9a" stroke-width="0.7"/>
<line x1="597.05" y1="920.04" x2="597.05" y2="913.98" stroke="#444" stroke-width="0.7"/>
<line x1="595.05" y1="913.98" x2="599.05" y2="913.98" stroke="#444" stroke-width="0.7"/>
<line x1="595.05" y1="920.04" x2="599.05" y2="920.04" stroke="#444" stroke-width="0.7"/>
<line x1="605.45" y1="936.40" x2="605.45" y2="930.94" stroke="#444" stroke-width="0.7"/>
<line x1="603.45" y1="930.94" x2="607.45" y2="930.94" stroke="#444" stroke-width="0.7"/>
<line x1="603.45" y1="936.40" x2="607.45" y2="936.40" stroke="#444" stroke-width="0.7"/>
<circle cx="595.05" cy="913.37" r="1.5" fill="#000"/>
<circle cx="597.05" cy="913.37" r="1.5" fill="#000"/>
<circle cx="599.05" cy="913.37" r="1.5" fill="#000"/>
<circle cx="597.05" cy="922.46" r="1.5" fill="#000"/>
<polygon points="605.45,928.05 607.06,930.92 603.84,930.92" fill="#000"/>
<polygon points="603.95,931.69 605.56,934.56 602.34,934.56" fill="#000"/>
<polygon points="606.95,931.69 608.56,934.56 605.34,934.56" fill="#000"/>
<polygon points="605.45,932.90 607.06,935.77 603.84,935.77" fill="#000"/>
<polyline points="593.50,891.00 593.50,885.20 607.80,885.20 607.80,891.00" fill="none" stroke="#8c8c8c" stroke-width="1"/>
<rect x="618.80" y="916.40" width="7.90" height="60.60" fill="#fff" stroke="#9a9a9a" stroke-width="0.7"/>
<rect x="627.40" y="943.06" width="7.50" height="33.94" fill="#7474f2" stroke="#9a9a9a" stroke-width="0.7"/>
<line x1="622.75" y1="923.67" x2="622.75" y2="909.13" stroke="#444" stroke-width="0.7"/>
<line x1="620.75" y1="909.13" x2="624.75" y2="909.13" stroke="#444" stroke-width="0.7"/>
<line x1="620.75" y1="923.67" x2="624.75" y2="923.67" stroke="#444" stroke-width="0.7"/>
<line x1="631.15" y1="950.34" x2="631.15" y2="935.79" stroke="#444" stroke-width="0.7"/>
<line x1="629.15" y1="935.79" x2="633.15" y2="935.79" stroke="#444" stroke-width="0.7"/>
<line x1="629.15" y1="950.34" x2="633.15" y2="950.34" stroke="#444" stroke-width="0.7"/>
<circle cx="622.75" cy="898.22" r="1.5" fill="#000"/>
<circle cx="622.75" cy="909.13" r="1.5" fill="#000"/>
<circle cx="621.25" cy="927.31" r="1.5" fill="#000"/>
<circle cx="624.25" cy="925.49" r="1.5" fill="#000"/>
<polygon points="631.15,925.63 632.76,928.50 629.54,928.50" fill="#000"/>
<polygon points="631.15,935.32 632.76,938.19 629.54,938.19" fill="#000"/>
<polygon points="629.65,946.23 631.26,949.10 628.04,949.10" fill="#000"/>
<polygon points="632.65,949.87 634.26,952.74 631.04,952.74" fill="#000"/>
<polyline points="619.20,891.00 619.20,885.20 633.50,885.20 633.50,891.00" fill="none" stroke="#8c8c8c" stroke-width="1"/>
<polygon points="548.80,875.60 549.56,877.15 551.27,877.40 550.04,878.60 550.33,880.30 548.80,879.50 547.27,880.30 547.56,878.60 546.33,877.40 548.04,877.15" fill="#1e1e1e"/>
<polygon points="554.40,875.60 555.16,877.15 556.87,877.40 555.64,878.60 555.93,880.30 554.40,879.50 552.87,880.30 553.16,878.60 551.93,877.40 553.64,877.15" fill="#1e1e1e"/>
<polygon points="576.60,875.60 577.36,877.15 579.07,877.40 577.84,878.60 578.13,880.30 576.60,879.50 575.07,880.30 575.36,878.60 574.13,877.40 575.84,877.15" fill="#1e1e1e"/>
<polygon points="598.90,875.60 599.66,877.15 601.37,877.40 600.14,878.60 600.43,880.30 598.90,879.50 597.37,880.30 597.66,878.60 596.43,877.40 598.14,877.15" fill="#1e1e1e"/>
<polygon points="604.50,875.60 605.26,877.15 606.97,877.40 605.74,878.60 606.03,880.30 604.50,879.50 602.97,880.30 603.26,878.60 602.03,877.40 603.74,877.15" fill="#1e1e1e"/>
<polygon points="627.40,875.60 628.16,877.15 629.87,877.40 628.64,878.60 628.93,880.30 627.40,879.50 625.87,880.30 626.16,878.60 624.93,877.40 626.64,877.15" fill="#1e1e1e"/>
<text x="557.20" y="990.70" font-size="11" text-anchor="end" transform="rotate(-45 557.20 990.70)">Complex I</text>
<text x="582.20" y="990.70" font-size="11" text-anchor="end" transform="rotate(-45 582.20 990.70)">Complex III</text>
<text x="607.30" y="990.70" font-size="11" text-anchor="end" transform="rotate(-45 607.30 990.70)">Complex IV</text>
<text x="633.00" y="990.70" font-size="11" text-anchor="end" transform="rotate(-45 633.00 990.70)">Complex V</text>
</svg></body></html>
